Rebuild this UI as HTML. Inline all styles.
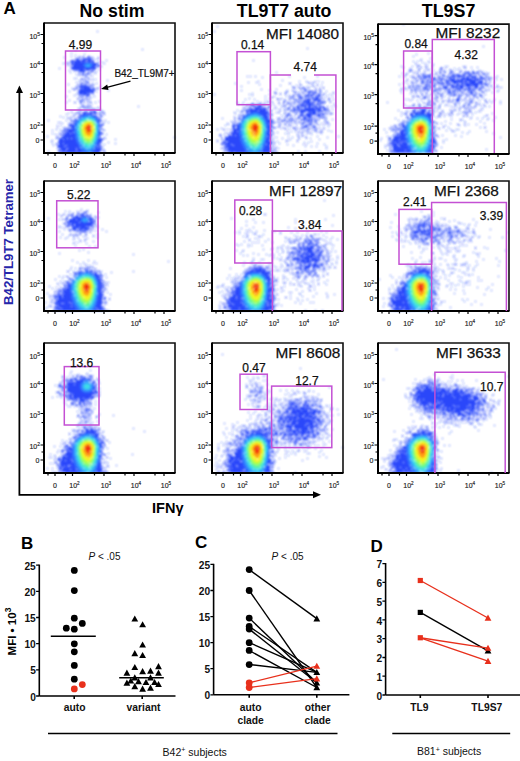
<!DOCTYPE html><html><head><meta charset="utf-8"><style>html,body{margin:0;padding:0;background:#fff;}svg{display:block;}</style></head><body><svg width="520" height="761" viewBox="0 0 520 761" font-family="&quot;Liberation Sans&quot;, sans-serif">
<rect width="520" height="761" fill="#fff"/>
<defs><filter id="bl" x="0" y="0" width="1" height="1"><feGaussianBlur stdDeviation="0.8"/></filter></defs><g filter="url(#bl)">
<g fill="none" stroke-width="1" shape-rendering="crispEdges"><path d="M97 31.5h1M142 49.5h1M75 50.5h1M85 50.5h1M71 53.5h1M84 54.5h1M75 55.5h1M71 56.5h1M79 56.5h1M83 56.5h1M88 56.5h2M64 57.5h1M78 57.5h1M80 57.5h1M82 57.5h2M87 57.5h3M91 57.5h2M98 57.5h1M75 58.5h2M78 58.5h1M80 58.5h1M84 58.5h4M89 58.5h2M93 58.5h1M98 58.5h1M76 59.5h3M82 59.5h4M87 59.5h5M96 59.5h1M71 60.5h4M76 60.5h15M92 60.5h2M106 60.5h1M70 61.5h3M74 61.5h7M82 61.5h3M86 61.5h1M88 61.5h6M99 61.5h1M66 62.5h1M68 62.5h1M71 62.5h16M89 62.5h2M92 62.5h2M97 62.5h1M102 62.5h1M63 63.5h1M65 63.5h1M68 63.5h1M71 63.5h2M74 63.5h10M92 63.5h5M98 63.5h1M104 63.5h1M68 64.5h1M71 64.5h12M93 64.5h4M98 64.5h1M67 65.5h1M71 65.5h1M73 65.5h10M93 65.5h4M98 65.5h2M70 66.5h1M73 66.5h11M92 66.5h3M97 66.5h3M101 66.5h1M71 67.5h14M91 67.5h6M59 68.5h1M71 68.5h25M72 69.5h12M85 69.5h7M93 69.5h2M99 69.5h1M69 70.5h1M75 70.5h1M77 70.5h1M79 70.5h7M87 70.5h2M92 70.5h2M74 71.5h1M77 71.5h1M79 71.5h6M90 71.5h3M96 71.5h1M70 72.5h1M79 72.5h1M82 72.5h1M84 72.5h1M88 72.5h2M91 72.5h1M94 72.5h1M79 73.5h1M82 73.5h2M86 73.5h3M95 73.5h1M76 74.5h1M79 74.5h1M81 74.5h1M83 74.5h1M85 74.5h1M87 74.5h1M89 74.5h1M78 75.5h1M81 75.5h1M83 75.5h2M86 75.5h1M90 75.5h1M92 75.5h1M86 76.5h1M85 77.5h1M87 77.5h1M74 78.5h1M76 78.5h1M81 78.5h1M84 78.5h1M88 78.5h2M92 78.5h1M81 79.5h3M86 79.5h1M95 79.5h1M79 80.5h1M85 80.5h1M89 80.5h1M92 80.5h1M107 80.5h1M80 81.5h1M84 81.5h1M86 81.5h2M76 82.5h1M82 82.5h2M86 82.5h1M88 82.5h1M78 83.5h1M80 83.5h2M85 83.5h1M87 83.5h2M92 83.5h1M96 83.5h1M68 84.5h1M81 84.5h2M84 84.5h2M90 84.5h1M93 84.5h1M77 85.5h2M80 85.5h2M83 85.5h2M86 85.5h2M89 85.5h1M91 85.5h1M93 85.5h1M76 86.5h1M79 86.5h9M89 86.5h2M92 86.5h1M100 86.5h1M75 87.5h1M78 87.5h1M80 87.5h10M92 87.5h1M72 88.5h1M76 88.5h2M80 88.5h2M83 88.5h8M92 88.5h3M96 88.5h3M73 89.5h3M78 89.5h1M80 89.5h12M93 89.5h2M79 90.5h16M108 90.5h1M69 91.5h1M78 91.5h16M96 91.5h1M77 92.5h1M79 92.5h11M91 92.5h3M79 93.5h8M88 93.5h3M92 93.5h1M76 94.5h1M78 94.5h4M83 94.5h6M93 94.5h1M74 95.5h1M82 95.5h2M86 95.5h4M66 96.5h1M79 96.5h2M82 96.5h1M85 96.5h1M87 96.5h1M89 96.5h1M94 96.5h1M80 97.5h1M82 97.5h1M86 97.5h1M91 97.5h1M77 98.5h2M83 98.5h1M86 98.5h1M89 98.5h1M81 99.5h1M83 99.5h1M85 99.5h1M87 99.5h1M89 99.5h1M69 100.5h1M78 100.5h1M80 100.5h2M83 100.5h1M87 100.5h1M80 101.5h2M83 101.5h1M90 101.5h1M99 101.5h1M66 102.5h1M74 102.5h2M80 102.5h1M84 102.5h1M87 102.5h2M90 102.5h1M95 102.5h1M80 103.5h2M91 103.5h1M83 104.5h1M82 105.5h1M87 105.5h3M81 106.5h1M83 106.5h2M86 106.5h1M90 106.5h2M138 106.5h1M80 107.5h1M82 107.5h1M84 107.5h1M86 107.5h1M88 107.5h1M98 107.5h1M78 108.5h1M84 108.5h1M87 108.5h2M90 108.5h1M93 108.5h1M96 108.5h1M99 108.5h1M79 109.5h1M85 109.5h1M90 109.5h1M92 109.5h2M95 109.5h1M80 110.5h1M87 110.5h1M90 110.5h1M93 110.5h1M99 110.5h1M101 110.5h1M71 111.5h1M78 111.5h1M80 111.5h1M84 111.5h1M86 111.5h1M90 111.5h2M93 111.5h3M101 111.5h1M103 111.5h1M77 112.5h1M81 112.5h1M83 112.5h5M90 112.5h2M93 112.5h4M100 112.5h1M103 112.5h1M68 113.5h1M72 113.5h1M75 113.5h2M78 113.5h2M83 113.5h3M87 113.5h10M98 113.5h2M102 113.5h1M104 113.5h1M66 114.5h1M74 114.5h1M79 114.5h2M82 114.5h10M100 114.5h2M104 114.5h1M80 115.5h3M93 115.5h4M99 115.5h1M60 116.5h1M73 116.5h2M77 116.5h1M79 116.5h2M95 116.5h1M97 116.5h1M100 116.5h3M63 117.5h1M67 117.5h1M70 117.5h2M78 117.5h2M96 117.5h2M100 117.5h1M68 118.5h1M76 118.5h1M97 118.5h3M70 119.5h1M74 119.5h2M97 119.5h1M99 119.5h2M48 120.5h1M66 120.5h1M71 120.5h2M74 120.5h3M98 120.5h3M102 120.5h1M105 120.5h1M70 121.5h1M72 121.5h1M74 121.5h1M99 121.5h1M101 121.5h1M58 122.5h1M60 122.5h1M73 122.5h2M99 122.5h1M104 122.5h1M108 122.5h1M62 123.5h1M68 123.5h1M70 123.5h1M72 123.5h1M74 123.5h1M100 123.5h1M102 123.5h1M69 124.5h4M74 124.5h1M99 124.5h1M102 124.5h2M57 125.5h1M60 125.5h1M69 125.5h1M71 125.5h3M100 125.5h3M68 126.5h6M100 126.5h2M57 127.5h1M63 127.5h1M65 127.5h1M71 127.5h3M64 128.5h1M66 128.5h3M70 128.5h1M72 128.5h2M100 128.5h2M56 129.5h1M60 129.5h1M64 129.5h1M66 129.5h1M68 129.5h6M100 129.5h1M102 129.5h2M52 130.5h1M63 130.5h11M104 130.5h1M61 131.5h3M66 131.5h1M68 131.5h6M100 131.5h1M59 132.5h1M64 132.5h9M100 132.5h1M102 132.5h1M52 133.5h1M62 133.5h1M64 133.5h1M66 133.5h4M71 133.5h4M99 133.5h4M55 134.5h1M59 134.5h16M99 134.5h2M102 134.5h1M106 134.5h1M57 135.5h1M64 135.5h11M99 135.5h1M47 136.5h1M61 136.5h14M99 136.5h2M56 137.5h2M59 137.5h1M62 137.5h13M99 137.5h1M104 137.5h1M174 137.5h1M56 138.5h1M58 138.5h1M60 138.5h7M68 138.5h3M72 138.5h3M99 138.5h2M102 138.5h1M105 138.5h1M59 139.5h4M64 139.5h12M99 139.5h5M115 139.5h1M52 140.5h1M59 140.5h17M98 140.5h4M51 141.5h1M58 141.5h18M98 141.5h4M58 142.5h19M98 142.5h3M108 142.5h1M52 143.5h1M56 143.5h1M59 143.5h4M64 143.5h13M98 143.5h2M101 143.5h1M115 143.5h1M56 144.5h2M59 144.5h19M97 144.5h3M104 144.5h1M53 145.5h1M58 145.5h8M67 145.5h11M97 145.5h1M99 145.5h2M57 146.5h7M65 146.5h14M97 146.5h4M102 146.5h1M58 147.5h21M96 147.5h2M99 147.5h2M102 147.5h1M57 148.5h1M60 148.5h7M68 148.5h8M77 148.5h3M96 148.5h5M59 149.5h1M61 149.5h5M67 149.5h14M95 149.5h7M103 149.5h1M58 150.5h18M77 150.5h4M95 150.5h6M102 150.5h1M104 150.5h1M48 151.5h1M58 151.5h2M61 151.5h1M63 151.5h2M66 151.5h16M94 151.5h6M104 151.5h1M60 152.5h24M93 152.5h7M104 152.5h1" stroke="#2a46fa"/><path d="M87 62.5h2M84 63.5h8M83 64.5h3M90 64.5h3M83 65.5h2M91 65.5h2M84 66.5h2M90 66.5h2M85 67.5h6M83 115.5h6M90 115.5h3M81 116.5h5M91 116.5h4M80 117.5h1M82 117.5h1M93 117.5h3M79 118.5h2M95 118.5h2M77 119.5h1M79 119.5h1M96 119.5h1M77 120.5h2M96 120.5h2M76 121.5h2M97 121.5h2M75 122.5h3M97 122.5h2M75 123.5h2M98 123.5h1M75 124.5h2M98 124.5h1M74 125.5h2M98 125.5h2M74 126.5h2M98 126.5h2M74 127.5h1M98 127.5h1M74 128.5h2M98 128.5h2M74 129.5h2M98 129.5h1M74 130.5h2M98 130.5h2M74 131.5h2M98 131.5h2M74 132.5h2M98 132.5h2M75 133.5h2M98 133.5h1M75 134.5h2M98 134.5h1M75 135.5h2M98 135.5h1M75 136.5h2M98 136.5h1M75 137.5h2M97 137.5h1M75 138.5h3M97 138.5h2M76 139.5h2M97 139.5h2M76 140.5h2M97 140.5h1M76 141.5h3M96 141.5h2M77 142.5h2M96 142.5h2M77 143.5h3M96 143.5h2M78 144.5h2M95 144.5h2M78 145.5h3M96 145.5h1M79 146.5h3M94 146.5h3M79 147.5h1M81 147.5h1M94 147.5h2M80 148.5h3M93 148.5h1M95 148.5h1M81 149.5h4M92 149.5h3M81 150.5h6M90 150.5h5M82 151.5h12M84 152.5h6M91 152.5h2" stroke="#2e6cff"/><path d="M86 64.5h4M85 65.5h6M86 66.5h4M86 116.5h5M83 117.5h10M81 118.5h4M92 118.5h3M80 119.5h3M94 119.5h2M79 120.5h2M95 120.5h1M78 121.5h2M95 121.5h2M78 122.5h1M96 122.5h1M77 123.5h2M97 123.5h1M77 124.5h1M97 124.5h1M76 125.5h2M97 125.5h1M76 126.5h2M97 126.5h1M76 127.5h2M97 127.5h1M76 128.5h2M97 128.5h1M76 129.5h2M97 129.5h1M76 130.5h2M97 130.5h1M76 131.5h2M97 131.5h1M76 132.5h2M97 132.5h1M77 133.5h1M97 133.5h1M77 134.5h2M97 134.5h1M77 135.5h2M96 135.5h2M77 136.5h2M96 136.5h2M77 137.5h2M96 137.5h1M78 138.5h2M96 138.5h1M78 139.5h2M96 139.5h1M78 140.5h1M95 140.5h2M79 141.5h2M95 141.5h1M79 142.5h3M94 142.5h2M81 143.5h1M94 143.5h2M80 144.5h3M93 144.5h2M81 145.5h3M93 145.5h2M82 146.5h1M84 146.5h1M92 146.5h2M82 147.5h5M90 147.5h4M83 148.5h3M87 148.5h6M85 149.5h7M87 150.5h3" stroke="#34a4fb"/><path d="M85 118.5h2M88 118.5h4M83 119.5h3M91 119.5h3M81 120.5h3M93 120.5h2M80 121.5h2M79 122.5h2M79 123.5h2M95 123.5h1M79 124.5h1M96 124.5h1M78 125.5h2M96 125.5h1M78 126.5h1M96 126.5h1M78 127.5h1M96 127.5h1M78 128.5h1M96 128.5h1M96 129.5h1M78 130.5h2M96 130.5h1M78 131.5h2M96 131.5h1M78 132.5h2M96 132.5h1M78 133.5h2M96 133.5h1M79 134.5h1M95 134.5h2M79 135.5h1M95 135.5h1M79 136.5h2M95 136.5h1M80 137.5h1M95 137.5h1M80 138.5h2M94 138.5h2M80 139.5h2M94 139.5h2M80 140.5h3M94 140.5h1M81 141.5h2M93 141.5h2M82 142.5h2M93 142.5h1M82 143.5h3M93 143.5h1M84 144.5h3M90 144.5h3M84 145.5h9M85 146.5h7M87 147.5h2" stroke="#3cdce8"/><path d="M86 119.5h1M88 119.5h3M84 120.5h4M90 120.5h1M92 120.5h1M82 121.5h3M92 121.5h2M82 122.5h1M93 122.5h2M81 123.5h1M94 123.5h1M80 124.5h2M94 124.5h2M80 125.5h1M95 125.5h1M80 126.5h1M95 126.5h1M79 127.5h2M95 127.5h1M79 128.5h2M95 128.5h1M79 129.5h2M95 129.5h1M80 130.5h1M95 130.5h1M80 131.5h1M80 132.5h1M94 132.5h2M80 133.5h2M94 133.5h2M80 134.5h2M94 134.5h1M80 135.5h2M94 135.5h1M81 136.5h2M94 136.5h1M81 137.5h2M93 137.5h2M82 138.5h2M93 138.5h1M82 139.5h2M92 139.5h2M83 140.5h2M92 140.5h2M83 141.5h2M86 141.5h1M91 141.5h2M84 142.5h9M85 143.5h7M87 144.5h2" stroke="#60f69a"/><path d="M85 121.5h7M84 122.5h2M91 122.5h2M83 123.5h1M92 123.5h2M82 124.5h1M93 124.5h1M81 125.5h2M93 125.5h2M81 126.5h2M81 127.5h1M81 128.5h1M94 128.5h1M81 129.5h2M94 129.5h1M81 130.5h2M94 130.5h1M81 131.5h2M93 131.5h2M81 132.5h2M93 132.5h1M82 133.5h1M93 133.5h1M82 134.5h2M93 134.5h1M82 135.5h2M93 135.5h1M83 136.5h2M92 136.5h2M83 137.5h1M92 137.5h1M84 138.5h3M91 138.5h2M84 139.5h8M85 140.5h7M87 141.5h3" stroke="#a8ff48"/><path d="M86 122.5h5M84 123.5h4M90 123.5h2M83 124.5h3M91 124.5h2M83 125.5h2M92 125.5h1M83 126.5h2M92 126.5h2M83 127.5h1M92 127.5h2M82 128.5h2M92 128.5h2M83 129.5h1M92 129.5h2M83 130.5h2M92 130.5h2M83 131.5h2M92 131.5h1M83 132.5h2M92 132.5h1M83 133.5h3M91 133.5h2M84 134.5h2M91 134.5h2M84 135.5h4M90 135.5h3M85 136.5h7M85 137.5h2M88 137.5h4M87 138.5h3" stroke="#f4f424"/><path d="M88 123.5h2M86 124.5h5M85 125.5h3M91 125.5h1M85 126.5h2M91 126.5h1M84 127.5h2M91 127.5h1M84 128.5h2M84 129.5h3M91 129.5h1M85 130.5h2M91 130.5h1M85 131.5h2M90 131.5h2M85 132.5h7M86 133.5h5M86 134.5h5M88 135.5h2" stroke="#ffa018"/><path d="M88 125.5h2M87 126.5h4M86 127.5h5M86 128.5h3M90 128.5h1M87 129.5h4M87 130.5h4M87 131.5h3" stroke="#f03010"/></g>
<g fill="none" stroke-width="1" shape-rendering="crispEdges"><path d="M217 26.5h1M214 31.5h1M307 48.5h1M253 60.5h1M276 72.5h1M247 76.5h1M250 76.5h1M255 76.5h1M289 76.5h1M317 76.5h1M262 77.5h1M304 77.5h1M282 80.5h1M258 81.5h1M299 81.5h1M306 81.5h1M315 81.5h1M318 81.5h1M248 82.5h1M256 82.5h1M307 82.5h1M309 82.5h1M312 82.5h1M314 82.5h1M322 82.5h1M235 83.5h1M289 83.5h2M309 83.5h1M312 83.5h1M259 84.5h1M299 84.5h2M317 84.5h1M280 85.5h1M296 85.5h1M301 85.5h1M311 85.5h1M313 85.5h1M317 85.5h1M321 85.5h1M241 86.5h1M292 86.5h1M307 86.5h1M313 86.5h1M293 87.5h2M298 87.5h2M303 87.5h2M309 87.5h1M315 87.5h1M323 87.5h1M293 88.5h1M295 88.5h1M300 88.5h4M306 88.5h1M308 88.5h1M319 88.5h2M323 88.5h1M261 89.5h1M276 89.5h1M304 89.5h2M315 89.5h2M241 90.5h1M269 90.5h1M287 90.5h1M292 90.5h1M300 90.5h1M304 90.5h3M309 90.5h1M312 90.5h1M319 90.5h2M286 91.5h1M293 91.5h2M296 91.5h1M302 91.5h1M306 91.5h1M308 91.5h5M314 91.5h3M319 91.5h1M321 91.5h1M326 91.5h1M274 92.5h2M285 92.5h1M287 92.5h1M295 92.5h1M299 92.5h1M302 92.5h2M305 92.5h1M308 92.5h2M311 92.5h1M313 92.5h1M315 92.5h1M320 92.5h1M333 92.5h1M252 93.5h1M275 93.5h2M280 93.5h1M285 93.5h1M294 93.5h1M296 93.5h1M298 93.5h1M308 93.5h2M312 93.5h5M319 93.5h1M324 93.5h1M333 93.5h1M214 94.5h1M249 94.5h1M269 94.5h1M280 94.5h1M285 94.5h1M299 94.5h1M301 94.5h1M303 94.5h1M305 94.5h1M307 94.5h1M309 94.5h2M312 94.5h2M317 94.5h4M322 94.5h1M324 94.5h1M330 94.5h1M252 95.5h1M289 95.5h1M292 95.5h3M296 95.5h4M304 95.5h1M306 95.5h3M310 95.5h3M315 95.5h1M318 95.5h2M322 95.5h1M327 95.5h1M265 96.5h1M274 96.5h1M286 96.5h1M289 96.5h1M293 96.5h1M299 96.5h3M305 96.5h5M311 96.5h2M314 96.5h5M320 96.5h1M332 96.5h1M271 97.5h2M290 97.5h3M298 97.5h2M301 97.5h2M304 97.5h2M309 97.5h1M312 97.5h1M316 97.5h4M321 97.5h1M325 97.5h1M249 98.5h1M269 98.5h1M277 98.5h1M281 98.5h1M289 98.5h1M292 98.5h1M294 98.5h2M299 98.5h4M306 98.5h1M308 98.5h2M311 98.5h7M321 98.5h1M323 98.5h1M328 98.5h2M245 99.5h1M254 99.5h1M265 99.5h1M277 99.5h2M280 99.5h1M284 99.5h1M289 99.5h1M293 99.5h1M297 99.5h1M299 99.5h1M303 99.5h1M305 99.5h5M311 99.5h1M313 99.5h8M329 99.5h1M333 99.5h1M284 100.5h1M286 100.5h1M290 100.5h1M294 100.5h4M300 100.5h2M304 100.5h2M307 100.5h4M314 100.5h7M323 100.5h1M328 100.5h1M257 101.5h1M268 101.5h1M271 101.5h1M284 101.5h1M298 101.5h2M302 101.5h8M312 101.5h3M318 101.5h2M321 101.5h2M324 101.5h2M330 101.5h1M237 102.5h1M243 102.5h1M260 102.5h1M264 102.5h1M266 102.5h1M268 102.5h1M272 102.5h1M278 102.5h2M283 102.5h2M287 102.5h2M291 102.5h1M293 102.5h2M296 102.5h1M298 102.5h1M300 102.5h1M302 102.5h1M304 102.5h9M314 102.5h1M317 102.5h2M320 102.5h3M324 102.5h1M330 102.5h1M252 103.5h2M260 103.5h1M283 103.5h1M287 103.5h1M289 103.5h2M293 103.5h1M295 103.5h1M298 103.5h1M300 103.5h1M302 103.5h3M306 103.5h5M312 103.5h2M315 103.5h2M318 103.5h2M321 103.5h1M323 103.5h2M334 103.5h1M238 104.5h1M242 104.5h1M247 104.5h1M250 104.5h3M254 104.5h1M256 104.5h4M261 104.5h1M263 104.5h2M273 104.5h1M279 104.5h1M287 104.5h1M290 104.5h1M299 104.5h1M301 104.5h3M305 104.5h2M308 104.5h6M317 104.5h2M320 104.5h2M247 105.5h1M249 105.5h1M251 105.5h3M255 105.5h1M258 105.5h4M264 105.5h1M267 105.5h1M269 105.5h1M282 105.5h1M284 105.5h2M291 105.5h1M293 105.5h1M297 105.5h1M299 105.5h13M313 105.5h4M318 105.5h2M334 105.5h1M245 106.5h2M250 106.5h1M253 106.5h2M256 106.5h1M258 106.5h4M269 106.5h2M275 106.5h1M283 106.5h1M285 106.5h1M289 106.5h1M291 106.5h1M294 106.5h1M296 106.5h4M301 106.5h2M304 106.5h2M308 106.5h3M312 106.5h2M315 106.5h2M319 106.5h2M322 106.5h2M327 106.5h1M331 106.5h1M335 106.5h1M243 107.5h1M249 107.5h1M252 107.5h1M254 107.5h6M261 107.5h3M265 107.5h1M268 107.5h2M281 107.5h1M289 107.5h1M293 107.5h1M297 107.5h2M301 107.5h1M303 107.5h4M308 107.5h3M312 107.5h2M315 107.5h3M319 107.5h6M327 107.5h1M243 108.5h1M248 108.5h4M255 108.5h7M263 108.5h3M267 108.5h2M274 108.5h1M276 108.5h1M285 108.5h1M287 108.5h3M293 108.5h3M297 108.5h5M305 108.5h16M323 108.5h3M244 109.5h4M250 109.5h17M279 109.5h1M284 109.5h1M287 109.5h2M291 109.5h1M293 109.5h3M297 109.5h2M300 109.5h1M302 109.5h13M316 109.5h5M324 109.5h5M332 109.5h1M237 110.5h1M242 110.5h1M247 110.5h11M259 110.5h7M268 110.5h1M270 110.5h2M280 110.5h1M284 110.5h1M290 110.5h2M293 110.5h1M295 110.5h1M297 110.5h2M300 110.5h17M318 110.5h7M326 110.5h1M328 110.5h1M240 111.5h1M242 111.5h2M245 111.5h24M271 111.5h1M286 111.5h1M291 111.5h1M293 111.5h3M297 111.5h1M299 111.5h7M307 111.5h9M317 111.5h4M322 111.5h1M325 111.5h1M329 111.5h1M234 112.5h1M241 112.5h1M246 112.5h2M250 112.5h3M258 112.5h10M276 112.5h1M278 112.5h2M284 112.5h1M289 112.5h1M293 112.5h1M297 112.5h1M300 112.5h3M304 112.5h1M309 112.5h2M312 112.5h4M317 112.5h2M321 112.5h1M326 112.5h1M328 112.5h1M235 113.5h1M247 113.5h2M260 113.5h11M285 113.5h1M288 113.5h1M295 113.5h2M301 113.5h3M306 113.5h10M319 113.5h1M321 113.5h1M323 113.5h2M326 113.5h1M330 113.5h3M239 114.5h1M242 114.5h1M244 114.5h1M246 114.5h1M262 114.5h5M268 114.5h2M271 114.5h2M284 114.5h1M287 114.5h4M296 114.5h1M299 114.5h3M303 114.5h1M306 114.5h19M327 114.5h1M330 114.5h1M240 115.5h1M242 115.5h2M263 115.5h5M269 115.5h1M271 115.5h1M281 115.5h1M286 115.5h3M291 115.5h1M294 115.5h1M300 115.5h3M304 115.5h7M317 115.5h3M322 115.5h1M234 116.5h1M238 116.5h1M240 116.5h1M243 116.5h1M264 116.5h4M269 116.5h1M286 116.5h1M290 116.5h1M298 116.5h2M301 116.5h4M307 116.5h6M315 116.5h1M318 116.5h3M323 116.5h1M325 116.5h1M239 117.5h1M242 117.5h1M265 117.5h5M271 117.5h1M283 117.5h1M285 117.5h2M288 117.5h1M291 117.5h1M294 117.5h1M298 117.5h2M304 117.5h3M308 117.5h3M313 117.5h1M315 117.5h1M317 117.5h1M320 117.5h4M325 117.5h1M222 118.5h1M234 118.5h2M238 118.5h1M240 118.5h1M265 118.5h3M270 118.5h1M277 118.5h4M291 118.5h1M296 118.5h2M299 118.5h1M303 118.5h4M308 118.5h1M310 118.5h2M313 118.5h1M319 118.5h1M323 118.5h1M326 118.5h1M238 119.5h3M266 119.5h4M271 119.5h1M284 119.5h2M288 119.5h6M300 119.5h6M307 119.5h2M310 119.5h1M312 119.5h1M315 119.5h2M318 119.5h1M325 119.5h1M332 119.5h1M234 120.5h1M266 120.5h8M278 120.5h1M281 120.5h3M285 120.5h1M288 120.5h1M294 120.5h2M297 120.5h1M302 120.5h1M305 120.5h1M307 120.5h6M314 120.5h2M318 120.5h1M325 120.5h1M231 121.5h1M235 121.5h1M267 121.5h4M272 121.5h1M277 121.5h1M279 121.5h1M281 121.5h1M283 121.5h1M285 121.5h1M287 121.5h1M290 121.5h3M300 121.5h1M304 121.5h2M307 121.5h2M310 121.5h1M312 121.5h1M315 121.5h2M324 121.5h1M327 121.5h1M232 122.5h1M234 122.5h1M236 122.5h1M238 122.5h1M267 122.5h6M274 122.5h2M287 122.5h2M290 122.5h1M294 122.5h2M298 122.5h2M302 122.5h1M304 122.5h1M307 122.5h1M309 122.5h1M311 122.5h1M315 122.5h1M326 122.5h2M227 123.5h1M233 123.5h1M267 123.5h2M270 123.5h1M272 123.5h2M278 123.5h2M281 123.5h1M285 123.5h1M296 123.5h1M301 123.5h4M309 123.5h3M313 123.5h1M315 123.5h1M317 123.5h1M321 123.5h1M324 123.5h1M328 123.5h1M228 124.5h1M233 124.5h1M235 124.5h4M268 124.5h4M284 124.5h2M289 124.5h1M292 124.5h1M301 124.5h1M306 124.5h2M309 124.5h1M311 124.5h1M317 124.5h1M326 124.5h1M329 124.5h1M225 125.5h1M232 125.5h4M237 125.5h2M268 125.5h2M271 125.5h1M279 125.5h2M287 125.5h1M289 125.5h2M296 125.5h1M303 125.5h1M305 125.5h1M307 125.5h1M309 125.5h2M313 125.5h1M319 125.5h1M323 125.5h1M232 126.5h3M236 126.5h3M268 126.5h5M278 126.5h1M301 126.5h2M304 126.5h4M312 126.5h4M328 126.5h1M233 127.5h2M237 127.5h2M268 127.5h3M272 127.5h3M276 127.5h1M279 127.5h1M283 127.5h1M286 127.5h1M292 127.5h1M294 127.5h1M296 127.5h1M303 127.5h3M307 127.5h1M310 127.5h1M313 127.5h1M315 127.5h1M221 128.5h1M232 128.5h3M236 128.5h3M268 128.5h3M274 128.5h1M281 128.5h1M284 128.5h1M289 128.5h1M293 128.5h2M298 128.5h1M301 128.5h2M307 128.5h1M309 128.5h1M313 128.5h1M315 128.5h1M317 128.5h1M319 128.5h1M323 128.5h2M217 129.5h1M223 129.5h2M227 129.5h1M230 129.5h1M233 129.5h6M268 129.5h2M271 129.5h1M285 129.5h1M295 129.5h2M300 129.5h1M303 129.5h1M308 129.5h1M311 129.5h1M315 129.5h1M321 129.5h1M231 130.5h1M233 130.5h6M268 130.5h5M287 130.5h1M305 130.5h2M308 130.5h1M313 130.5h1M315 130.5h2M328 130.5h1M233 131.5h4M238 131.5h1M268 131.5h4M291 131.5h1M295 131.5h1M298 131.5h1M303 131.5h1M307 131.5h1M315 131.5h1M319 131.5h1M321 131.5h2M331 131.5h1M225 132.5h1M230 132.5h9M268 132.5h2M273 132.5h1M277 132.5h1M288 132.5h1M299 132.5h1M301 132.5h2M309 132.5h1M311 132.5h1M317 132.5h1M320 132.5h1M227 133.5h2M230 133.5h1M232 133.5h7M267 133.5h3M271 133.5h1M273 133.5h1M285 133.5h1M297 133.5h1M306 133.5h1M308 133.5h1M321 133.5h1M220 134.5h1M224 134.5h1M231 134.5h8M267 134.5h5M288 134.5h1M302 134.5h1M311 134.5h1M219 135.5h2M228 135.5h3M232 135.5h3M236 135.5h3M267 135.5h4M273 135.5h1M297 135.5h1M299 135.5h1M302 135.5h1M221 136.5h1M225 136.5h1M228 136.5h12M268 136.5h4M298 136.5h1M302 136.5h1M305 136.5h1M317 136.5h1M338 136.5h1M225 137.5h15M267 137.5h3M276 137.5h1M288 137.5h1M292 137.5h1M306 137.5h1M327 137.5h1M221 138.5h2M225 138.5h15M267 138.5h4M273 138.5h1M282 138.5h1M298 138.5h2M306 138.5h1M310 138.5h1M225 139.5h15M267 139.5h4M272 139.5h1M290 139.5h1M319 139.5h1M217 140.5h1M222 140.5h1M224 140.5h16M266 140.5h3M286 140.5h1M288 140.5h1M297 140.5h1M217 141.5h1M222 141.5h1M224 141.5h1M226 141.5h1M228 141.5h13M266 141.5h6M273 141.5h1M277 141.5h1M286 141.5h1M297 141.5h1M311 141.5h1M223 142.5h3M227 142.5h14M266 142.5h6M274 142.5h1M304 142.5h1M308 142.5h1M221 143.5h20M266 143.5h6M274 143.5h1M279 143.5h1M317 143.5h1M221 144.5h2M225 144.5h6M232 144.5h10M265 144.5h1M267 144.5h4M272 144.5h1M287 144.5h1M303 144.5h1M306 144.5h1M324 144.5h1M224 145.5h2M227 145.5h6M234 145.5h8M265 145.5h5M274 145.5h1M293 145.5h1M223 146.5h1M225 146.5h18M265 146.5h5M272 146.5h1M305 146.5h1M311 146.5h1M316 146.5h1M326 146.5h1M225 147.5h18M265 147.5h6M272 147.5h1M276 147.5h1M221 148.5h2M224 148.5h2M228 148.5h16M264 148.5h7M274 148.5h2M278 148.5h1M326 148.5h1M224 149.5h1M226 149.5h18M264 149.5h7M272 149.5h1M225 150.5h1M227 150.5h18M263 150.5h7M272 150.5h1M274 150.5h2M224 151.5h1M226 151.5h1M228 151.5h1M230 151.5h15M263 151.5h8M272 151.5h1M276 151.5h1M298 151.5h1M305 151.5h1M319 151.5h1M223 152.5h1M228 152.5h6M235 152.5h11M262 152.5h10M273 152.5h2M277 152.5h1" stroke="#2a46fa"/><path d="M253 112.5h5M249 113.5h11M247 114.5h6M258 114.5h4M245 115.5h4M260 115.5h3M244 116.5h3M262 116.5h2M243 117.5h3M263 117.5h2M242 118.5h3M263 118.5h2M242 119.5h2M264 119.5h2M241 120.5h2M265 120.5h1M241 121.5h1M265 121.5h2M239 122.5h1M241 122.5h1M265 122.5h2M239 123.5h2M266 123.5h1M239 124.5h2M266 124.5h2M239 125.5h2M266 125.5h2M239 126.5h2M266 126.5h2M239 127.5h2M266 127.5h2M239 128.5h2M266 128.5h2M239 129.5h2M267 129.5h1M239 130.5h2M266 130.5h2M239 131.5h2M266 131.5h2M239 132.5h2M266 132.5h2M239 133.5h2M266 133.5h1M239 134.5h3M266 134.5h1M239 135.5h3M266 135.5h1M240 136.5h2M265 136.5h2M240 137.5h2M265 137.5h2M240 138.5h2M265 138.5h2M240 139.5h3M265 139.5h2M240 140.5h3M265 140.5h1M241 141.5h2M264 141.5h2M241 142.5h3M264 142.5h2M241 143.5h3M264 143.5h2M242 144.5h3M263 144.5h2M242 145.5h3M263 145.5h2M243 146.5h3M263 146.5h2M243 147.5h3M262 147.5h3M244 148.5h3M262 148.5h2M244 149.5h3M262 149.5h2M245 150.5h4M260 150.5h3M245 151.5h5M259 151.5h4M246 152.5h6M258 152.5h3" stroke="#2e6cff"/><path d="M253 114.5h5M249 115.5h11M247 116.5h4M258 116.5h3M246 117.5h3M260 117.5h3M245 118.5h2M261 118.5h2M245 119.5h1M262 119.5h2M243 120.5h2M263 120.5h2M242 121.5h2M263 121.5h2M242 122.5h2M264 122.5h1M241 123.5h2M264 123.5h2M241 124.5h2M264 124.5h2M241 125.5h2M265 125.5h1M241 126.5h2M265 126.5h1M241 127.5h2M265 127.5h1M241 128.5h2M265 128.5h1M242 129.5h1M265 129.5h1M241 130.5h2M265 130.5h1M241 131.5h2M265 131.5h1M241 132.5h2M264 132.5h2M241 133.5h2M264 133.5h2M242 134.5h2M264 134.5h2M242 135.5h2M264 135.5h2M242 136.5h1M264 136.5h1M242 137.5h2M264 137.5h1M242 138.5h3M263 138.5h2M243 139.5h2M263 139.5h2M243 140.5h2M263 140.5h2M243 141.5h3M263 141.5h1M244 142.5h2M262 142.5h2M244 143.5h3M262 143.5h2M245 144.5h2M261 144.5h2M245 145.5h3M261 145.5h2M246 146.5h3M260 146.5h1M262 146.5h1M246 147.5h4M260 147.5h2M247 148.5h4M259 148.5h3M248 149.5h5M257 149.5h4M249 150.5h11M250 151.5h9M252 152.5h6" stroke="#34a4fb"/><path d="M251 116.5h7M249 117.5h5M256 117.5h2M259 117.5h1M247 118.5h4M259 118.5h2M246 119.5h1M248 119.5h1M260 119.5h2M245 120.5h2M261 120.5h2M244 121.5h3M262 121.5h1M244 122.5h2M262 122.5h2M243 123.5h2M263 123.5h1M243 124.5h2M263 124.5h1M243 125.5h2M263 125.5h2M243 126.5h2M263 126.5h2M243 127.5h2M263 127.5h1M243 128.5h2M263 128.5h2M243 129.5h1M263 129.5h2M243 130.5h2M263 130.5h2M243 131.5h2M263 131.5h2M243 132.5h2M263 132.5h1M243 133.5h2M263 133.5h1M244 134.5h1M263 134.5h1M244 135.5h2M263 135.5h1M244 136.5h2M262 136.5h2M244 137.5h2M262 137.5h2M245 138.5h2M262 138.5h1M245 139.5h2M262 139.5h1M246 140.5h2M261 140.5h2M246 141.5h2M261 141.5h2M246 142.5h3M261 142.5h1M247 143.5h2M260 143.5h2M247 144.5h3M259 144.5h2M248 145.5h4M258 145.5h3M249 146.5h1M251 146.5h3M257 146.5h3M250 147.5h1M252 147.5h8M251 148.5h8M253 149.5h1M255 149.5h2" stroke="#3cdce8"/><path d="M254 117.5h2M251 118.5h8M249 119.5h3M258 119.5h2M247 120.5h3M259 120.5h2M248 121.5h1M260 121.5h2M246 122.5h2M261 122.5h1M245 123.5h2M261 123.5h2M245 124.5h2M262 124.5h1M245 125.5h2M262 125.5h1M245 126.5h1M262 126.5h1M245 127.5h1M262 127.5h1M245 128.5h1M262 128.5h1M245 129.5h1M262 129.5h1M245 130.5h2M262 130.5h1M246 131.5h1M262 131.5h1M245 132.5h2M262 132.5h1M245 133.5h2M262 133.5h1M245 134.5h2M261 134.5h2M246 135.5h2M261 135.5h2M247 136.5h1M261 136.5h1M246 137.5h2M261 137.5h1M247 138.5h2M260 138.5h2M247 139.5h2M260 139.5h2M248 140.5h2M259 140.5h2M248 141.5h3M259 141.5h2M249 142.5h3M258 142.5h2M249 143.5h1M251 143.5h3M256 143.5h1M258 143.5h2M250 144.5h9M252 145.5h5M254 146.5h1M256 146.5h1" stroke="#60f69a"/><path d="M252 119.5h6M250 120.5h5M256 120.5h3M249 121.5h3M258 121.5h2M248 122.5h2M259 122.5h2M247 123.5h2M260 123.5h1M248 124.5h1M260 124.5h2M247 125.5h1M246 126.5h2M261 126.5h1M246 127.5h2M261 127.5h1M246 128.5h1M261 128.5h1M246 129.5h2M247 130.5h1M261 130.5h1M247 131.5h1M261 131.5h1M247 132.5h2M260 132.5h1M247 133.5h2M260 133.5h2M247 134.5h2M260 134.5h1M248 135.5h2M260 135.5h1M248 136.5h2M259 136.5h2M248 137.5h3M259 137.5h2M249 138.5h3M258 138.5h2M249 139.5h4M258 139.5h2M250 140.5h9M251 141.5h5M257 141.5h1M252 142.5h6M255 143.5h1" stroke="#a8ff48"/><path d="M255 120.5h1M252 121.5h6M250 122.5h4M256 122.5h3M249 123.5h3M258 123.5h2M249 124.5h2M259 124.5h1M248 125.5h3M259 125.5h2M248 126.5h2M259 126.5h2M248 127.5h2M259 127.5h2M248 128.5h2M259 128.5h2M248 129.5h1M259 129.5h2M248 130.5h3M259 130.5h2M248 131.5h3M259 131.5h2M249 132.5h2M259 132.5h1M249 133.5h3M258 133.5h2M249 134.5h3M258 134.5h2M250 135.5h3M257 135.5h3M250 136.5h5M256 136.5h2M251 137.5h2M254 137.5h5M252 138.5h6M253 139.5h5" stroke="#f4f424"/><path d="M254 122.5h2M252 123.5h6M251 124.5h3M256 124.5h2M251 125.5h2M257 125.5h2M250 126.5h3M258 126.5h1M250 127.5h2M258 127.5h1M250 128.5h3M258 128.5h1M250 129.5h3M257 129.5h2M252 130.5h1M257 130.5h2M251 131.5h3M257 131.5h2M251 132.5h4M256 132.5h3M252 133.5h1M254 133.5h4M252 134.5h6M253 135.5h1M255 135.5h2M255 136.5h1" stroke="#ffa018"/><path d="M254 124.5h2M253 125.5h4M253 126.5h5M252 127.5h6M253 128.5h5M253 129.5h4M253 130.5h4M255 131.5h2M255 132.5h1" stroke="#f03010"/></g>
<g fill="none" stroke-width="1" shape-rendering="crispEdges"><path d="M403 24.5h1M483 46.5h1M428 53.5h1M416 54.5h1M413 56.5h1M430 58.5h1M421 59.5h1M420 60.5h1M413 61.5h1M417 61.5h1M428 61.5h1M422 62.5h1M429 62.5h1M415 63.5h1M425 63.5h1M416 64.5h1M433 64.5h1M418 65.5h2M425 65.5h1M427 65.5h1M432 65.5h1M401 66.5h1M412 66.5h1M417 66.5h1M445 66.5h1M447 66.5h1M463 66.5h1M465 66.5h1M403 67.5h1M417 67.5h1M420 67.5h2M425 67.5h2M432 67.5h1M441 67.5h1M464 67.5h1M471 67.5h1M477 67.5h1M410 68.5h1M427 68.5h1M440 68.5h3M445 68.5h1M454 68.5h1M459 68.5h1M465 68.5h1M410 69.5h1M418 69.5h2M429 69.5h1M440 69.5h1M450 69.5h1M457 69.5h1M409 70.5h1M411 70.5h2M419 70.5h1M424 70.5h1M426 70.5h1M428 70.5h1M433 70.5h1M440 70.5h1M443 70.5h1M449 70.5h1M451 70.5h1M461 70.5h1M472 70.5h1M479 70.5h1M409 71.5h2M416 71.5h1M439 71.5h1M441 71.5h1M443 71.5h1M445 71.5h1M451 71.5h2M454 71.5h1M459 71.5h2M465 71.5h1M468 71.5h1M473 71.5h1M477 71.5h1M480 71.5h1M482 71.5h1M414 72.5h1M418 72.5h1M424 72.5h1M431 72.5h1M436 72.5h1M440 72.5h1M444 72.5h2M450 72.5h2M461 72.5h1M464 72.5h6M472 72.5h3M476 72.5h3M481 72.5h1M485 72.5h1M402 73.5h1M407 73.5h1M413 73.5h1M417 73.5h1M421 73.5h1M424 73.5h1M436 73.5h1M439 73.5h2M449 73.5h2M452 73.5h2M459 73.5h1M463 73.5h1M466 73.5h1M468 73.5h2M471 73.5h3M475 73.5h1M478 73.5h1M482 73.5h2M487 73.5h2M405 74.5h2M416 74.5h1M422 74.5h1M424 74.5h1M427 74.5h1M430 74.5h2M433 74.5h1M435 74.5h1M442 74.5h2M449 74.5h1M453 74.5h1M455 74.5h4M463 74.5h3M467 74.5h1M469 74.5h2M474 74.5h2M477 74.5h1M479 74.5h1M483 74.5h3M418 75.5h2M422 75.5h3M426 75.5h1M428 75.5h3M437 75.5h1M441 75.5h1M443 75.5h2M447 75.5h1M451 75.5h5M457 75.5h9M468 75.5h5M479 75.5h1M481 75.5h1M485 75.5h1M487 75.5h1M399 76.5h1M403 76.5h1M405 76.5h1M410 76.5h1M412 76.5h2M418 76.5h2M421 76.5h1M424 76.5h7M438 76.5h2M443 76.5h1M445 76.5h1M448 76.5h2M451 76.5h3M455 76.5h1M457 76.5h5M463 76.5h1M467 76.5h2M470 76.5h1M472 76.5h5M479 76.5h1M481 76.5h1M487 76.5h1M497 76.5h1M413 77.5h1M415 77.5h1M417 77.5h1M420 77.5h1M422 77.5h4M427 77.5h1M430 77.5h1M433 77.5h2M439 77.5h3M443 77.5h1M446 77.5h2M449 77.5h3M453 77.5h3M457 77.5h2M460 77.5h1M462 77.5h7M470 77.5h7M480 77.5h3M484 77.5h2M487 77.5h1M489 77.5h2M495 77.5h1M412 78.5h1M415 78.5h1M419 78.5h1M421 78.5h1M424 78.5h2M427 78.5h1M429 78.5h3M433 78.5h3M437 78.5h2M442 78.5h1M448 78.5h1M450 78.5h2M453 78.5h2M457 78.5h1M460 78.5h1M462 78.5h3M466 78.5h4M471 78.5h1M473 78.5h2M476 78.5h1M478 78.5h6M485 78.5h1M487 78.5h1M490 78.5h1M492 78.5h1M407 79.5h1M414 79.5h1M416 79.5h1M419 79.5h1M421 79.5h2M424 79.5h1M428 79.5h1M431 79.5h5M438 79.5h8M447 79.5h1M449 79.5h6M457 79.5h2M460 79.5h13M474 79.5h5M481 79.5h1M483 79.5h2M488 79.5h2M496 79.5h1M501 79.5h1M407 80.5h1M417 80.5h1M421 80.5h1M423 80.5h1M426 80.5h3M431 80.5h1M433 80.5h1M436 80.5h1M440 80.5h2M445 80.5h1M447 80.5h2M450 80.5h14M465 80.5h17M485 80.5h2M489 80.5h1M405 81.5h1M411 81.5h1M413 81.5h1M416 81.5h2M422 81.5h2M425 81.5h1M427 81.5h1M429 81.5h3M434 81.5h1M436 81.5h3M441 81.5h1M445 81.5h5M451 81.5h12M464 81.5h3M468 81.5h8M478 81.5h1M480 81.5h3M486 81.5h1M490 81.5h1M411 82.5h1M415 82.5h1M420 82.5h4M426 82.5h1M429 82.5h1M431 82.5h3M438 82.5h2M441 82.5h3M446 82.5h2M449 82.5h1M451 82.5h1M453 82.5h4M458 82.5h2M461 82.5h6M468 82.5h1M470 82.5h6M477 82.5h6M485 82.5h1M494 82.5h1M403 83.5h1M407 83.5h1M412 83.5h2M422 83.5h1M424 83.5h1M426 83.5h3M430 83.5h2M434 83.5h1M436 83.5h1M438 83.5h3M442 83.5h2M445 83.5h1M447 83.5h2M450 83.5h1M453 83.5h6M460 83.5h4M465 83.5h18M484 83.5h2M488 83.5h2M399 84.5h1M412 84.5h1M415 84.5h1M417 84.5h1M422 84.5h1M425 84.5h1M428 84.5h1M434 84.5h2M437 84.5h1M440 84.5h3M444 84.5h1M446 84.5h6M453 84.5h1M457 84.5h2M461 84.5h1M463 84.5h1M465 84.5h14M481 84.5h1M484 84.5h4M409 85.5h1M417 85.5h1M419 85.5h2M425 85.5h3M429 85.5h2M433 85.5h2M443 85.5h1M448 85.5h1M451 85.5h3M455 85.5h15M471 85.5h1M473 85.5h5M480 85.5h4M486 85.5h2M491 85.5h1M497 85.5h1M409 86.5h1M411 86.5h4M416 86.5h1M418 86.5h1M422 86.5h1M425 86.5h2M428 86.5h2M431 86.5h4M439 86.5h1M442 86.5h6M450 86.5h8M459 86.5h5M466 86.5h7M474 86.5h5M489 86.5h1M491 86.5h1M497 86.5h1M404 87.5h1M408 87.5h2M413 87.5h1M416 87.5h2M419 87.5h2M423 87.5h2M426 87.5h2M430 87.5h1M434 87.5h2M439 87.5h2M444 87.5h4M452 87.5h3M456 87.5h2M459 87.5h4M465 87.5h1M468 87.5h2M472 87.5h1M475 87.5h3M480 87.5h5M487 87.5h1M496 87.5h1M499 87.5h1M501 87.5h1M401 88.5h1M405 88.5h1M410 88.5h1M415 88.5h1M423 88.5h4M429 88.5h2M437 88.5h1M442 88.5h5M449 88.5h2M452 88.5h1M454 88.5h1M456 88.5h4M461 88.5h3M465 88.5h2M468 88.5h3M473 88.5h4M479 88.5h2M482 88.5h1M493 88.5h1M402 89.5h1M404 89.5h1M407 89.5h1M411 89.5h2M414 89.5h2M417 89.5h3M421 89.5h1M424 89.5h1M426 89.5h3M432 89.5h1M434 89.5h2M437 89.5h5M446 89.5h1M448 89.5h2M452 89.5h1M455 89.5h2M458 89.5h4M464 89.5h1M466 89.5h8M478 89.5h3M485 89.5h1M489 89.5h1M400 90.5h1M411 90.5h1M414 90.5h1M416 90.5h1M421 90.5h1M423 90.5h2M427 90.5h2M431 90.5h1M433 90.5h1M435 90.5h2M439 90.5h1M445 90.5h1M447 90.5h2M450 90.5h1M453 90.5h2M456 90.5h1M458 90.5h2M463 90.5h3M468 90.5h1M470 90.5h1M472 90.5h1M474 90.5h2M478 90.5h1M481 90.5h1M486 90.5h1M488 90.5h1M498 90.5h1M411 91.5h1M415 91.5h1M419 91.5h1M433 91.5h2M436 91.5h1M444 91.5h1M448 91.5h2M451 91.5h1M453 91.5h2M456 91.5h1M460 91.5h2M468 91.5h2M471 91.5h2M474 91.5h1M480 91.5h1M482 91.5h2M485 91.5h1M497 91.5h1M401 92.5h1M412 92.5h1M416 92.5h1M420 92.5h1M422 92.5h1M425 92.5h1M427 92.5h1M433 92.5h1M437 92.5h1M439 92.5h1M441 92.5h1M446 92.5h1M448 92.5h4M453 92.5h2M457 92.5h2M461 92.5h3M467 92.5h1M469 92.5h4M475 92.5h1M482 92.5h1M492 92.5h1M410 93.5h1M415 93.5h1M426 93.5h1M431 93.5h1M437 93.5h2M443 93.5h1M448 93.5h2M452 93.5h1M455 93.5h1M464 93.5h1M466 93.5h1M470 93.5h3M475 93.5h2M478 93.5h1M483 93.5h1M421 94.5h2M426 94.5h1M431 94.5h1M434 94.5h2M439 94.5h1M441 94.5h2M447 94.5h1M450 94.5h2M453 94.5h3M458 94.5h1M460 94.5h1M462 94.5h1M465 94.5h1M468 94.5h1M472 94.5h2M475 94.5h1M479 94.5h2M485 94.5h1M413 95.5h1M417 95.5h1M422 95.5h1M429 95.5h1M436 95.5h1M440 95.5h2M450 95.5h1M452 95.5h1M454 95.5h2M457 95.5h1M459 95.5h2M462 95.5h1M466 95.5h2M469 95.5h2M473 95.5h1M475 95.5h1M480 95.5h2M412 96.5h1M415 96.5h1M417 96.5h2M424 96.5h3M428 96.5h1M437 96.5h1M441 96.5h1M444 96.5h1M449 96.5h1M453 96.5h1M458 96.5h1M460 96.5h1M467 96.5h1M473 96.5h3M477 96.5h1M480 96.5h2M483 96.5h1M413 97.5h1M419 97.5h1M423 97.5h1M425 97.5h1M434 97.5h1M436 97.5h2M442 97.5h1M458 97.5h2M465 97.5h1M477 97.5h1M421 98.5h1M423 98.5h3M428 98.5h1M431 98.5h1M434 98.5h1M437 98.5h1M441 98.5h1M448 98.5h1M457 98.5h2M460 98.5h1M465 98.5h1M469 98.5h2M473 98.5h1M477 98.5h1M482 98.5h1M405 99.5h1M408 99.5h1M412 99.5h1M428 99.5h1M435 99.5h1M449 99.5h1M453 99.5h1M456 99.5h4M462 99.5h1M465 99.5h1M471 99.5h1M473 99.5h1M485 99.5h1M494 99.5h1M410 100.5h1M417 100.5h1M421 100.5h1M432 100.5h1M436 100.5h1M442 100.5h1M445 100.5h1M449 100.5h1M452 100.5h1M454 100.5h1M456 100.5h3M463 100.5h1M468 100.5h1M471 100.5h1M479 100.5h1M485 100.5h1M489 100.5h1M428 101.5h3M432 101.5h1M436 101.5h1M438 101.5h1M443 101.5h1M447 101.5h2M451 101.5h1M457 101.5h2M460 101.5h1M466 101.5h1M469 101.5h2M472 101.5h1M485 101.5h1M493 101.5h1M500 101.5h1M387 102.5h1M423 102.5h1M428 102.5h1M431 102.5h1M433 102.5h1M442 102.5h1M449 102.5h1M452 102.5h1M456 102.5h1M465 102.5h1M470 102.5h3M475 102.5h2M486 102.5h2M491 102.5h1M418 103.5h1M424 103.5h1M426 103.5h1M428 103.5h1M433 103.5h2M454 103.5h2M458 103.5h1M467 103.5h1M469 103.5h1M476 103.5h1M479 103.5h1M500 103.5h1M404 104.5h1M413 104.5h2M419 104.5h1M427 104.5h2M430 104.5h2M434 104.5h2M440 104.5h1M446 104.5h1M455 104.5h1M459 104.5h1M464 104.5h2M468 104.5h2M478 104.5h1M483 104.5h1M413 105.5h1M419 105.5h2M427 105.5h1M430 105.5h1M432 105.5h1M439 105.5h1M445 105.5h1M448 105.5h1M455 105.5h1M463 105.5h1M468 105.5h1M470 105.5h1M475 105.5h2M480 105.5h1M484 105.5h1M406 106.5h1M410 106.5h1M412 106.5h2M417 106.5h1M419 106.5h1M424 106.5h1M427 106.5h1M430 106.5h1M432 106.5h1M439 106.5h1M451 106.5h1M455 106.5h1M463 106.5h2M467 106.5h1M474 106.5h1M485 106.5h1M489 106.5h1M408 107.5h2M415 107.5h1M420 107.5h1M423 107.5h3M434 107.5h1M436 107.5h1M439 107.5h1M453 107.5h1M458 107.5h1M460 107.5h2M464 107.5h1M467 107.5h1M470 107.5h1M472 107.5h1M475 107.5h1M482 107.5h1M416 108.5h1M418 108.5h4M424 108.5h1M426 108.5h2M433 108.5h1M439 108.5h1M465 108.5h1M468 108.5h1M470 108.5h1M473 108.5h1M413 109.5h3M421 109.5h5M428 109.5h1M430 109.5h1M432 109.5h1M437 109.5h1M450 109.5h1M455 109.5h1M459 109.5h1M465 109.5h1M467 109.5h1M480 109.5h1M482 109.5h1M398 110.5h1M406 110.5h1M411 110.5h1M413 110.5h2M416 110.5h1M418 110.5h1M421 110.5h5M429 110.5h2M432 110.5h2M442 110.5h1M452 110.5h2M455 110.5h1M459 110.5h1M469 110.5h2M408 111.5h1M413 111.5h2M418 111.5h8M428 111.5h2M433 111.5h1M436 111.5h1M442 111.5h1M450 111.5h1M464 111.5h1M466 111.5h1M468 111.5h1M470 111.5h1M478 111.5h1M480 111.5h1M401 112.5h1M406 112.5h1M412 112.5h7M420 112.5h5M426 112.5h3M431 112.5h1M433 112.5h1M440 112.5h1M443 112.5h1M451 112.5h2M462 112.5h2M465 112.5h1M468 112.5h1M471 112.5h1M475 112.5h1M403 113.5h1M405 113.5h2M410 113.5h3M414 113.5h11M427 113.5h4M432 113.5h1M439 113.5h2M448 113.5h1M451 113.5h1M459 113.5h1M465 113.5h3M492 113.5h1M405 114.5h1M410 114.5h3M415 114.5h1M425 114.5h9M440 114.5h1M442 114.5h1M445 114.5h1M449 114.5h1M452 114.5h1M457 114.5h1M472 114.5h1M401 115.5h1M407 115.5h1M410 115.5h3M427 115.5h5M438 115.5h1M449 115.5h1M463 115.5h1M465 115.5h1M467 115.5h1M486 115.5h2M406 116.5h1M428 116.5h4M433 116.5h1M438 116.5h3M444 116.5h1M451 116.5h1M463 116.5h1M467 116.5h1M484 116.5h1M407 117.5h2M429 117.5h2M436 117.5h1M471 117.5h1M495 117.5h1M395 118.5h1M406 118.5h1M408 118.5h1M430 118.5h2M470 118.5h1M477 118.5h1M482 118.5h1M488 118.5h1M431 119.5h1M451 119.5h1M460 119.5h1M462 119.5h1M487 119.5h1M398 120.5h1M403 120.5h1M431 120.5h1M460 120.5h1M493 120.5h1M403 121.5h1M405 121.5h1M432 121.5h3M445 121.5h1M464 121.5h1M480 121.5h1M401 122.5h1M403 122.5h1M432 122.5h1M435 122.5h1M465 122.5h1M400 123.5h1M402 123.5h2M433 123.5h1M436 123.5h2M441 123.5h1M450 123.5h1M484 123.5h1M398 124.5h1M400 124.5h1M402 124.5h2M457 124.5h2M464 124.5h1M468 124.5h1M476 124.5h1M394 125.5h2M399 125.5h2M402 125.5h3M433 125.5h1M445 125.5h1M459 125.5h1M465 125.5h1M391 126.5h1M394 126.5h1M396 126.5h1M402 126.5h3M433 126.5h1M435 126.5h1M443 126.5h1M392 127.5h1M396 127.5h1M399 127.5h2M402 127.5h2M433 127.5h1M435 127.5h1M443 127.5h1M448 127.5h1M480 127.5h1M484 127.5h2M389 128.5h2M393 128.5h1M395 128.5h2M398 128.5h1M401 128.5h1M433 128.5h1M438 128.5h2M384 129.5h1M392 129.5h1M394 129.5h1M397 129.5h4M402 129.5h2M434 129.5h1M450 129.5h1M456 129.5h1M458 129.5h1M391 130.5h2M394 130.5h1M396 130.5h1M401 130.5h3M435 130.5h1M446 130.5h1M452 130.5h1M394 131.5h1M396 131.5h1M399 131.5h5M434 131.5h1M452 131.5h1M454 131.5h1M469 131.5h1M486 131.5h1M386 132.5h1M396 132.5h1M400 132.5h4M433 132.5h2M462 132.5h1M394 133.5h1M397 133.5h2M400 133.5h5M434 133.5h1M467 133.5h1M493 133.5h1M394 134.5h1M396 134.5h9M433 134.5h1M436 134.5h1M393 135.5h1M396 135.5h1M398 135.5h1M400 135.5h5M435 135.5h2M442 135.5h1M455 135.5h1M387 136.5h1M392 136.5h1M394 136.5h11M433 136.5h2M437 136.5h2M461 136.5h1M389 137.5h2M394 137.5h11M433 137.5h1M500 137.5h1M381 138.5h1M389 138.5h1M393 138.5h12M433 138.5h2M388 139.5h4M393 139.5h6M400 139.5h6M433 139.5h3M446 139.5h1M380 140.5h1M392 140.5h14M432 140.5h2M435 140.5h1M443 140.5h1M389 141.5h1M391 141.5h11M403 141.5h2M432 141.5h4M388 142.5h1M390 142.5h2M393 142.5h2M396 142.5h3M400 142.5h6M432 142.5h5M443 142.5h1M391 143.5h10M402 143.5h5M433 143.5h2M436 143.5h1M388 144.5h9M398 144.5h9M432 144.5h1M435 144.5h1M437 144.5h1M385 145.5h1M387 145.5h1M393 145.5h5M399 145.5h8M431 145.5h4M436 145.5h1M389 146.5h1M391 146.5h8M400 146.5h8M431 146.5h4M436 146.5h1M385 147.5h1M390 147.5h1M393 147.5h15M432 147.5h3M441 147.5h1M390 148.5h1M393 148.5h15M430 148.5h2M433 148.5h1M390 149.5h1M393 149.5h16M430 149.5h5M486 149.5h1M387 150.5h1M390 150.5h1M392 150.5h13M406 150.5h4M430 150.5h1M432 150.5h1M435 150.5h2M390 151.5h2M393 151.5h1M395 151.5h15M429 151.5h4M436 151.5h1M390 152.5h1M392 152.5h19M429 152.5h5" stroke="#2a46fa"/><path d="M416 114.5h9M413 115.5h14M411 116.5h5M425 116.5h3M411 117.5h3M427 117.5h2M411 118.5h1M428 118.5h2M408 119.5h3M429 119.5h2M429 120.5h2M406 121.5h3M430 121.5h2M407 122.5h1M431 122.5h1M405 123.5h1M407 123.5h1M431 123.5h2M406 124.5h1M406 125.5h1M431 125.5h2M405 126.5h2M404 127.5h3M432 127.5h1M404 128.5h3M432 128.5h1M404 129.5h3M432 129.5h1M404 130.5h3M432 130.5h1M404 131.5h3M405 132.5h2M432 132.5h1M405 133.5h2M432 133.5h1M405 134.5h2M432 134.5h1M405 135.5h2M431 135.5h2M405 136.5h1M432 136.5h1M405 137.5h2M431 137.5h1M405 138.5h3M431 138.5h2M406 139.5h2M431 139.5h2M406 140.5h2M431 140.5h1M406 141.5h2M430 141.5h2M406 142.5h3M430 142.5h2M407 143.5h1M431 143.5h1M407 144.5h1M409 144.5h1M430 144.5h2M407 145.5h3M429 145.5h2M408 146.5h3M429 146.5h2M408 147.5h3M429 147.5h2M408 148.5h4M428 148.5h2M409 149.5h3M428 149.5h2M410 150.5h2M427 150.5h3M410 151.5h4M426 151.5h3M411 152.5h4M426 152.5h3" stroke="#2e6cff"/><path d="M416 116.5h9M414 117.5h5M422 117.5h5M412 118.5h1M414 118.5h2M425 118.5h3M411 119.5h3M427 119.5h2M411 120.5h1M428 120.5h1M409 121.5h2M428 121.5h2M409 122.5h2M429 122.5h2M408 123.5h2M429 123.5h2M407 124.5h2M430 124.5h1M407 125.5h2M430 125.5h1M407 126.5h2M430 126.5h2M407 127.5h2M431 127.5h1M407 128.5h2M430 128.5h1M407 129.5h2M430 129.5h2M407 130.5h2M430 130.5h2M407 131.5h2M430 131.5h2M407 132.5h2M430 132.5h2M407 133.5h2M430 133.5h2M407 134.5h2M430 134.5h2M407 135.5h2M430 135.5h1M407 136.5h2M430 136.5h1M407 137.5h3M430 137.5h1M408 138.5h2M430 138.5h1M408 139.5h2M429 139.5h2M408 140.5h2M429 140.5h2M408 141.5h3M429 141.5h1M409 142.5h2M429 142.5h1M409 143.5h2M428 143.5h2M410 144.5h2M428 144.5h2M410 145.5h3M427 145.5h2M411 146.5h2M427 146.5h2M411 147.5h3M426 147.5h3M413 148.5h2M426 148.5h2M412 149.5h2M415 149.5h1M425 149.5h3M413 150.5h4M424 150.5h3M414 151.5h12M415 152.5h2M418 152.5h5M424 152.5h2" stroke="#34a4fb"/><path d="M419 117.5h3M417 118.5h8M414 119.5h4M424 119.5h3M412 120.5h3M426 120.5h2M411 121.5h3M427 121.5h1M411 122.5h2M428 122.5h1M410 123.5h2M428 123.5h1M409 124.5h2M428 124.5h2M409 125.5h2M429 125.5h1M409 126.5h2M429 126.5h1M409 127.5h1M429 127.5h1M409 128.5h1M429 128.5h1M409 129.5h1M429 129.5h1M409 130.5h1M429 130.5h1M409 131.5h1M429 131.5h1M409 132.5h1M429 132.5h1M410 133.5h1M429 133.5h1M409 134.5h2M429 134.5h1M409 135.5h2M429 135.5h1M409 136.5h2M428 136.5h2M410 137.5h1M428 137.5h2M410 138.5h2M428 138.5h1M410 139.5h2M428 139.5h1M410 140.5h3M427 140.5h2M411 141.5h2M428 141.5h1M411 142.5h2M427 142.5h2M412 143.5h2M426 143.5h2M412 144.5h3M426 144.5h2M413 145.5h3M425 145.5h1M413 146.5h4M424 146.5h3M414 147.5h1M416 147.5h2M423 147.5h3M416 148.5h10M416 149.5h9M417 150.5h7" stroke="#3cdce8"/><path d="M418 119.5h2M421 119.5h3M415 120.5h5M422 120.5h4M414 121.5h3M424 121.5h3M413 122.5h2M426 122.5h1M412 123.5h2M426 123.5h2M411 124.5h2M427 124.5h1M411 125.5h2M427 125.5h2M428 126.5h1M410 127.5h2M428 127.5h1M410 128.5h2M428 128.5h1M410 129.5h2M428 129.5h1M410 130.5h2M428 130.5h1M410 131.5h2M428 131.5h1M411 132.5h1M428 132.5h1M411 133.5h1M428 133.5h1M411 134.5h2M427 134.5h2M411 135.5h2M427 135.5h2M411 136.5h2M427 136.5h1M411 137.5h3M427 137.5h1M412 138.5h2M427 138.5h1M412 139.5h2M426 139.5h2M413 140.5h2M426 140.5h1M413 141.5h3M425 141.5h2M413 142.5h3M425 142.5h2M414 143.5h3M424 143.5h2M415 144.5h4M423 144.5h3M416 145.5h7M424 145.5h1M417 146.5h4M422 146.5h2M418 147.5h5" stroke="#60f69a"/><path d="M421 120.5h1M417 121.5h7M415 122.5h1M417 122.5h1M423 122.5h3M414 123.5h2M425 123.5h1M413 124.5h2M425 124.5h2M413 125.5h2M426 125.5h1M412 126.5h2M426 126.5h2M412 127.5h2M427 127.5h1M412 128.5h2M427 128.5h1M412 129.5h2M427 129.5h1M412 130.5h2M427 130.5h1M412 131.5h2M426 131.5h2M412 132.5h2M426 132.5h2M412 133.5h2M426 133.5h2M413 134.5h2M426 134.5h1M413 135.5h2M426 135.5h1M413 136.5h2M426 136.5h1M414 137.5h2M425 137.5h2M415 138.5h1M425 138.5h2M414 139.5h3M424 139.5h2M415 140.5h3M424 140.5h2M416 141.5h3M423 141.5h2M416 142.5h9M417 143.5h7M419 144.5h4" stroke="#a8ff48"/><path d="M418 122.5h5M416 123.5h9M415 124.5h4M423 124.5h2M415 125.5h2M424 125.5h2M414 126.5h2M425 126.5h1M414 127.5h2M425 127.5h2M414 128.5h2M425 128.5h2M414 129.5h2M425 129.5h2M414 130.5h2M425 130.5h2M414 131.5h2M425 131.5h1M414 132.5h2M425 132.5h1M414 133.5h3M424 133.5h2M415 134.5h2M424 134.5h2M415 135.5h3M424 135.5h1M415 136.5h3M423 136.5h3M416 137.5h2M422 137.5h3M416 138.5h2M419 138.5h6M417 139.5h7M418 140.5h6M420 141.5h3" stroke="#f4f424"/><path d="M419 124.5h4M417 125.5h7M416 126.5h3M423 126.5h2M416 127.5h2M423 127.5h2M416 128.5h2M423 128.5h2M416 129.5h2M423 129.5h2M416 130.5h2M423 130.5h2M416 131.5h3M423 131.5h2M416 132.5h3M423 132.5h2M417 133.5h3M422 133.5h2M417 134.5h2M420 134.5h1M422 134.5h2M418 135.5h6M418 136.5h5M420 137.5h2" stroke="#ffa018"/><path d="M419 126.5h4M418 127.5h5M418 128.5h5M418 129.5h3M422 129.5h1M418 130.5h5M419 131.5h4M419 132.5h4M420 133.5h2" stroke="#f03010"/></g>
<g fill="none" stroke-width="1" shape-rendering="crispEdges"><path d="M81 209.5h1M87 210.5h1M65 211.5h1M69 211.5h1M77 211.5h1M80 211.5h1M85 211.5h1M87 211.5h1M78 212.5h1M83 212.5h4M98 212.5h1M69 213.5h1M72 213.5h2M77 213.5h1M82 213.5h1M84 213.5h1M58 214.5h1M63 214.5h2M72 214.5h1M77 214.5h7M86 214.5h2M90 214.5h1M61 215.5h1M67 215.5h6M76 215.5h1M80 215.5h5M86 215.5h2M90 215.5h1M61 216.5h1M72 216.5h2M75 216.5h4M81 216.5h1M83 216.5h3M87 216.5h4M94 216.5h1M96 216.5h1M66 217.5h2M72 217.5h1M74 217.5h9M87 217.5h1M89 217.5h1M91 217.5h1M95 217.5h1M98 217.5h1M48 218.5h1M66 218.5h2M72 218.5h9M89 218.5h4M96 218.5h1M59 219.5h1M62 219.5h2M65 219.5h2M69 219.5h7M77 219.5h3M90 219.5h4M66 220.5h1M69 220.5h11M90 220.5h2M93 220.5h3M66 221.5h1M68 221.5h13M90 221.5h3M94 221.5h1M66 222.5h13M80 222.5h3M87 222.5h7M95 222.5h1M63 223.5h3M68 223.5h2M71 223.5h24M65 224.5h1M68 224.5h2M71 224.5h3M75 224.5h17M96 224.5h1M66 225.5h8M75 225.5h19M95 225.5h1M59 226.5h1M66 226.5h1M68 226.5h1M72 226.5h14M87 226.5h2M90 226.5h1M92 226.5h1M97 226.5h1M59 227.5h1M62 227.5h1M65 227.5h1M68 227.5h1M72 227.5h7M80 227.5h8M89 227.5h1M92 227.5h1M94 227.5h1M97 227.5h1M71 228.5h1M73 228.5h3M77 228.5h13M92 228.5h1M64 229.5h1M68 229.5h1M70 229.5h1M72 229.5h5M79 229.5h4M84 229.5h5M90 229.5h2M102 229.5h1M69 230.5h2M73 230.5h2M76 230.5h1M78 230.5h2M81 230.5h1M83 230.5h2M86 230.5h1M93 230.5h1M96 230.5h1M59 231.5h1M70 231.5h1M76 231.5h3M80 231.5h7M88 231.5h1M90 231.5h1M106 231.5h1M80 232.5h1M83 232.5h1M90 232.5h1M74 233.5h1M80 233.5h1M85 233.5h2M62 234.5h1M70 234.5h2M76 234.5h2M79 234.5h2M97 234.5h1M69 235.5h1M73 235.5h2M76 235.5h1M85 235.5h2M93 235.5h1M73 236.5h1M77 236.5h1M83 236.5h1M93 236.5h1M60 237.5h1M67 237.5h1M97 237.5h1M65 238.5h1M74 238.5h1M78 238.5h1M85 238.5h1M87 238.5h1M73 239.5h1M80 240.5h1M84 240.5h2M80 241.5h1M93 241.5h1M74 242.5h1M77 242.5h1M73 243.5h1M86 243.5h1M75 245.5h1M89 246.5h1M95 246.5h1M83 249.5h1M79 250.5h1M88 252.5h1M59 253.5h1M133 254.5h1M72 260.5h1M88 260.5h1M94 261.5h1M168 261.5h1M77 262.5h1M83 262.5h1M93 263.5h1M96 263.5h1M80 264.5h1M84 264.5h1M86 264.5h1M89 265.5h1M86 266.5h1M91 266.5h1M71 267.5h1M80 267.5h1M82 267.5h1M86 267.5h1M88 267.5h2M92 267.5h2M75 268.5h1M79 268.5h2M83 268.5h2M86 268.5h1M88 268.5h1M90 268.5h1M95 268.5h1M70 269.5h1M79 269.5h1M81 269.5h1M85 269.5h2M88 269.5h1M95 269.5h1M84 270.5h1M86 270.5h2M90 270.5h4M98 270.5h1M67 271.5h2M73 271.5h1M77 271.5h1M79 271.5h4M85 271.5h1M88 271.5h4M94 271.5h3M98 271.5h2M101 271.5h1M133 271.5h1M74 272.5h1M76 272.5h1M78 272.5h3M91 272.5h1M93 272.5h1M96 272.5h1M100 272.5h1M111 272.5h1M74 273.5h3M93 273.5h4M99 273.5h1M70 274.5h1M73 274.5h1M75 274.5h2M94 274.5h4M100 274.5h2M105 274.5h1M95 275.5h6M102 275.5h1M59 276.5h1M63 276.5h1M66 276.5h2M73 276.5h1M96 276.5h4M101 276.5h2M68 277.5h1M97 277.5h2M100 277.5h1M106 277.5h1M62 278.5h1M69 278.5h2M72 278.5h1M97 278.5h5M55 279.5h1M69 279.5h1M71 279.5h1M98 279.5h2M101 279.5h2M69 280.5h1M98 280.5h3M60 281.5h1M64 281.5h1M66 281.5h2M98 281.5h7M63 282.5h1M66 282.5h5M99 282.5h2M106 282.5h1M108 282.5h1M57 283.5h1M61 283.5h1M67 283.5h1M69 283.5h1M99 283.5h4M104 283.5h1M58 284.5h1M63 284.5h3M67 284.5h3M99 284.5h5M106 284.5h1M65 285.5h1M67 285.5h3M99 285.5h2M102 285.5h1M104 285.5h1M107 285.5h1M49 286.5h1M64 286.5h2M67 286.5h3M99 286.5h4M104 286.5h1M56 287.5h1M59 287.5h1M61 287.5h1M64 287.5h1M66 287.5h1M68 287.5h2M99 287.5h5M52 288.5h1M62 288.5h1M64 288.5h6M99 288.5h2M102 288.5h1M104 288.5h2M59 289.5h1M62 289.5h3M66 289.5h4M99 289.5h3M106 289.5h1M55 290.5h1M57 290.5h5M63 290.5h7M99 290.5h3M103 290.5h2M60 291.5h2M63 291.5h7M99 291.5h2M102 291.5h2M54 292.5h2M57 292.5h3M62 292.5h8M99 292.5h3M107 292.5h1M47 293.5h1M58 293.5h2M61 293.5h2M64 293.5h7M99 293.5h5M55 294.5h1M57 294.5h2M60 294.5h1M62 294.5h9M99 294.5h3M110 294.5h1M50 295.5h1M53 295.5h2M56 295.5h1M58 295.5h4M63 295.5h8M99 295.5h5M49 296.5h1M52 296.5h1M54 296.5h17M98 296.5h5M55 297.5h2M58 297.5h4M63 297.5h8M98 297.5h4M104 297.5h2M50 298.5h1M53 298.5h1M55 298.5h2M58 298.5h13M98 298.5h5M104 298.5h2M109 298.5h1M53 299.5h1M56 299.5h1M58 299.5h14M98 299.5h4M103 299.5h2M109 299.5h1M51 300.5h1M55 300.5h17M98 300.5h4M52 301.5h1M57 301.5h15M97 301.5h5M105 301.5h2M45 302.5h1M50 302.5h1M54 302.5h15M70 302.5h3M97 302.5h8M52 303.5h1M55 303.5h6M62 303.5h1M64 303.5h7M72 303.5h1M97 303.5h5M105 303.5h2M55 304.5h2M58 304.5h15M97 304.5h5M49 305.5h1M56 305.5h18M96 305.5h5M104 305.5h1M50 306.5h2M54 306.5h1M56 306.5h1M58 306.5h13M72 306.5h2M96 306.5h7M47 307.5h1M54 307.5h5M60 307.5h15M96 307.5h6M103 307.5h1M45 308.5h1M55 308.5h6M62 308.5h13M95 308.5h1M97 308.5h7M54 309.5h1M57 309.5h19M95 309.5h3M99 309.5h3M103 309.5h3M53 310.5h5M59 310.5h18M94 310.5h10M106 310.5h1M108 310.5h1" stroke="#2a46fa"/><path d="M83 217.5h4M81 218.5h3M86 218.5h1M88 218.5h1M80 219.5h2M88 219.5h2M80 220.5h2M88 220.5h2M81 221.5h3M86 221.5h2M83 222.5h4M86 271.5h2M82 272.5h2M85 272.5h4M90 272.5h1M78 273.5h7M88 273.5h5M77 274.5h4M91 274.5h2M75 275.5h1M78 275.5h1M93 275.5h2M74 276.5h2M94 276.5h2M75 277.5h1M95 277.5h2M95 278.5h2M73 279.5h1M96 279.5h2M71 280.5h3M96 280.5h2M72 281.5h1M97 281.5h1M72 282.5h1M97 282.5h2M71 283.5h2M97 283.5h2M70 284.5h2M97 284.5h2M70 285.5h2M97 285.5h2M70 286.5h2M97 286.5h2M70 287.5h2M97 287.5h2M70 288.5h2M97 288.5h2M70 289.5h2M97 289.5h2M70 290.5h2M97 290.5h2M70 291.5h2M97 291.5h2M70 292.5h3M97 292.5h2M71 293.5h2M98 293.5h1M71 294.5h2M97 294.5h2M71 295.5h2M97 295.5h2M71 296.5h2M97 296.5h1M71 297.5h3M96 297.5h2M71 298.5h3M96 298.5h2M72 299.5h2M96 299.5h2M72 300.5h3M96 300.5h2M72 301.5h3M96 301.5h1M73 302.5h2M95 302.5h2M73 303.5h3M95 303.5h2M73 304.5h3M95 304.5h2M74 305.5h3M94 305.5h2M74 306.5h4M94 306.5h2M75 307.5h3M93 307.5h3M75 308.5h4M93 308.5h2M76 309.5h4M92 309.5h3M77 310.5h4M91 310.5h3" stroke="#2e6cff"/><path d="M84 218.5h2M82 219.5h6M82 220.5h6M84 221.5h2M85 273.5h3M81 274.5h10M79 275.5h4M89 275.5h4M77 276.5h4M91 276.5h3M76 277.5h3M93 277.5h2M75 278.5h3M94 278.5h1M76 279.5h1M94 279.5h2M74 280.5h2M95 280.5h1M73 281.5h2M95 281.5h2M73 282.5h2M96 282.5h1M73 283.5h2M96 283.5h1M72 284.5h2M96 284.5h1M72 285.5h2M96 285.5h1M72 286.5h2M72 287.5h2M96 287.5h1M72 288.5h2M96 288.5h1M72 289.5h2M96 289.5h1M72 290.5h2M96 290.5h1M73 291.5h2M96 291.5h1M74 292.5h1M96 292.5h1M73 293.5h2M96 293.5h1M73 294.5h2M95 294.5h2M73 295.5h1M95 295.5h2M73 296.5h3M95 296.5h2M74 297.5h2M95 297.5h1M74 298.5h2M95 298.5h1M74 299.5h3M94 299.5h2M75 300.5h2M94 300.5h2M75 301.5h2M94 301.5h2M75 302.5h3M93 302.5h2M76 303.5h3M93 303.5h2M76 304.5h3M92 304.5h3M77 305.5h3M92 305.5h2M78 306.5h3M91 306.5h3M78 307.5h4M90 307.5h3M79 308.5h5M89 308.5h4M80 309.5h12M81 310.5h10" stroke="#34a4fb"/><path d="M84 275.5h5M81 276.5h10M79 277.5h3M90 277.5h3M78 278.5h2M92 278.5h2M77 279.5h2M93 279.5h1M76 280.5h2M93 280.5h2M75 281.5h1M94 281.5h1M75 282.5h2M94 282.5h2M75 283.5h1M94 283.5h2M74 284.5h1M95 284.5h1M74 285.5h2M95 285.5h1M74 286.5h2M95 286.5h1M74 287.5h2M95 287.5h1M74 288.5h1M95 288.5h1M74 289.5h2M95 289.5h1M74 290.5h2M95 290.5h1M75 291.5h1M95 291.5h1M75 292.5h2M94 292.5h2M75 293.5h2M94 293.5h2M75 294.5h2M94 294.5h1M75 295.5h2M94 295.5h1M76 296.5h2M94 296.5h1M76 297.5h2M93 297.5h2M76 298.5h2M93 298.5h2M77 299.5h2M93 299.5h1M78 300.5h1M92 300.5h2M77 301.5h3M92 301.5h2M78 302.5h3M91 302.5h2M79 303.5h3M91 303.5h2M79 304.5h4M90 304.5h2M80 305.5h4M89 305.5h3M81 306.5h10M82 307.5h3M86 307.5h1M88 307.5h2M84 308.5h5" stroke="#3cdce8"/><path d="M82 277.5h8M80 278.5h4M89 278.5h3M79 279.5h2M91 279.5h2M78 280.5h2M92 280.5h1M77 281.5h2M92 281.5h2M77 282.5h2M93 282.5h1M76 283.5h2M93 283.5h1M76 284.5h2M93 284.5h2M76 285.5h2M94 285.5h1M76 286.5h2M94 286.5h1M76 287.5h2M94 287.5h1M76 288.5h2M93 288.5h2M76 289.5h1M93 289.5h2M76 290.5h2M93 290.5h2M76 291.5h2M93 291.5h2M77 292.5h1M93 292.5h1M77 293.5h2M93 293.5h1M77 294.5h2M93 294.5h1M77 295.5h2M92 295.5h2M78 296.5h2M92 296.5h2M78 297.5h2M92 297.5h1M78 298.5h3M91 298.5h2M79 299.5h2M91 299.5h2M79 300.5h3M90 300.5h2M80 301.5h3M89 301.5h1M91 301.5h1M81 302.5h4M88 302.5h3M82 303.5h3M86 303.5h4M83 304.5h1M85 304.5h5M84 305.5h5" stroke="#60f69a"/><path d="M85 278.5h4M82 279.5h9M80 280.5h3M90 280.5h2M79 281.5h3M91 281.5h1M79 282.5h2M91 282.5h2M78 283.5h2M92 283.5h1M78 284.5h2M92 284.5h1M78 285.5h2M92 285.5h2M78 286.5h1M92 286.5h2M78 287.5h1M92 287.5h2M78 288.5h2M92 288.5h1M78 289.5h2M92 289.5h1M78 290.5h2M78 291.5h2M92 291.5h1M78 292.5h2M92 292.5h1M79 293.5h2M91 293.5h2M79 294.5h2M91 294.5h2M79 295.5h3M91 295.5h1M80 296.5h2M90 296.5h2M80 297.5h3M90 297.5h2M81 298.5h3M89 298.5h2M81 299.5h5M88 299.5h3M82 300.5h8M83 301.5h6M85 302.5h3" stroke="#a8ff48"/><path d="M83 280.5h7M82 281.5h9M81 282.5h3M89 282.5h2M80 283.5h3M90 283.5h2M80 284.5h2M90 284.5h2M81 285.5h1M91 285.5h1M79 286.5h3M91 286.5h1M79 287.5h3M91 287.5h1M80 288.5h2M91 288.5h1M80 289.5h2M90 289.5h2M80 290.5h2M90 290.5h2M80 291.5h3M90 291.5h2M80 292.5h3M90 292.5h2M81 293.5h2M89 293.5h2M81 294.5h3M89 294.5h2M82 295.5h4M88 295.5h3M82 296.5h8M84 297.5h6M84 298.5h5M86 299.5h2" stroke="#f4f424"/><path d="M84 282.5h5M83 283.5h7M82 284.5h3M89 284.5h1M82 285.5h2M89 285.5h2M82 286.5h2M89 286.5h2M82 287.5h2M89 287.5h2M82 288.5h2M89 288.5h2M82 289.5h2M89 289.5h1M82 290.5h3M88 290.5h2M83 291.5h3M88 291.5h2M83 292.5h7M83 293.5h6M84 294.5h5M86 295.5h2" stroke="#ffa018"/><path d="M85 284.5h3M84 285.5h5M84 286.5h5M84 287.5h5M84 288.5h5M85 289.5h2M88 289.5h1M85 290.5h3M86 291.5h2" stroke="#f03010"/></g>
<g fill="none" stroke-width="1" shape-rendering="crispEdges"><path d="M324 200.5h1M264 214.5h2M333 215.5h1M231 218.5h1M253 219.5h1M295 219.5h1M325 219.5h1M246 221.5h1M255 222.5h1M263 222.5h1M295 222.5h1M246 225.5h1M332 225.5h1M253 227.5h1M288 227.5h1M241 228.5h1M295 228.5h1M249 229.5h1M246 230.5h1M264 230.5h1M239 231.5h1M248 231.5h1M251 231.5h1M256 231.5h1M274 231.5h1M321 231.5h1M235 232.5h1M280 232.5h1M291 232.5h1M297 232.5h1M307 232.5h1M326 232.5h1M239 233.5h1M245 233.5h1M247 233.5h1M253 233.5h1M255 233.5h1M280 233.5h1M255 234.5h1M263 234.5h1M314 234.5h2M318 234.5h1M247 235.5h1M294 235.5h1M302 235.5h1M306 235.5h1M310 235.5h2M323 235.5h1M243 236.5h1M247 236.5h1M258 236.5h2M261 236.5h1M297 236.5h1M306 236.5h1M310 236.5h3M246 237.5h1M285 237.5h1M296 237.5h1M300 237.5h1M307 237.5h1M312 237.5h1M326 237.5h1M332 237.5h1M255 238.5h1M286 238.5h1M289 238.5h1M300 238.5h1M307 238.5h1M313 238.5h1M315 238.5h1M317 238.5h1M319 238.5h2M249 239.5h1M258 239.5h1M268 239.5h1M289 239.5h1M292 239.5h1M295 239.5h1M297 239.5h1M300 239.5h1M304 239.5h3M308 239.5h2M311 239.5h3M316 239.5h1M318 239.5h1M322 239.5h1M330 239.5h1M337 239.5h1M249 240.5h1M288 240.5h1M294 240.5h2M297 240.5h2M305 240.5h1M308 240.5h3M314 240.5h2M317 240.5h2M324 240.5h1M244 241.5h1M265 241.5h1M285 241.5h1M290 241.5h1M292 241.5h1M304 241.5h1M306 241.5h2M310 241.5h2M315 241.5h2M326 241.5h1M252 242.5h1M255 242.5h1M258 242.5h1M272 242.5h1M289 242.5h2M293 242.5h3M299 242.5h1M302 242.5h1M304 242.5h4M309 242.5h4M314 242.5h1M317 242.5h2M330 242.5h1M291 243.5h1M298 243.5h1M300 243.5h1M302 243.5h2M308 243.5h3M312 243.5h1M316 243.5h2M319 243.5h1M328 243.5h1M236 244.5h1M241 244.5h1M248 244.5h1M298 244.5h2M303 244.5h2M307 244.5h3M311 244.5h3M315 244.5h2M325 244.5h2M331 244.5h1M238 245.5h1M251 245.5h1M262 245.5h1M283 245.5h1M298 245.5h1M301 245.5h1M303 245.5h1M307 245.5h1M309 245.5h2M313 245.5h5M322 245.5h1M324 245.5h1M333 245.5h1M248 246.5h1M281 246.5h1M288 246.5h1M298 246.5h2M302 246.5h3M306 246.5h2M310 246.5h4M317 246.5h4M322 246.5h1M324 246.5h1M278 247.5h1M286 247.5h1M292 247.5h1M294 247.5h2M297 247.5h1M299 247.5h3M303 247.5h2M306 247.5h8M317 247.5h1M319 247.5h1M324 247.5h1M272 248.5h1M277 248.5h1M281 248.5h1M289 248.5h1M291 248.5h5M299 248.5h3M303 248.5h10M314 248.5h1M316 248.5h1M318 248.5h1M320 248.5h2M325 248.5h2M332 248.5h1M263 249.5h1M271 249.5h1M282 249.5h1M287 249.5h1M295 249.5h4M300 249.5h3M304 249.5h2M307 249.5h5M313 249.5h1M315 249.5h1M317 249.5h3M322 249.5h1M236 250.5h1M243 250.5h1M293 250.5h1M298 250.5h1M300 250.5h1M302 250.5h11M315 250.5h1M317 250.5h2M322 250.5h1M324 250.5h1M327 250.5h1M242 251.5h1M277 251.5h1M283 251.5h1M288 251.5h1M292 251.5h1M295 251.5h6M305 251.5h1M307 251.5h6M314 251.5h1M316 251.5h7M326 251.5h2M331 251.5h1M335 251.5h1M282 252.5h1M287 252.5h1M290 252.5h4M295 252.5h1M298 252.5h4M303 252.5h3M307 252.5h6M314 252.5h3M320 252.5h3M329 252.5h1M240 253.5h1M253 253.5h1M288 253.5h1M290 253.5h2M293 253.5h2M296 253.5h2M299 253.5h1M302 253.5h7M310 253.5h5M317 253.5h4M327 253.5h1M258 254.5h1M266 254.5h1M271 254.5h1M273 254.5h1M279 254.5h1M289 254.5h1M293 254.5h1M296 254.5h1M298 254.5h2M301 254.5h3M305 254.5h4M310 254.5h5M316 254.5h2M319 254.5h3M325 254.5h1M327 254.5h2M243 255.5h1M247 255.5h1M269 255.5h1M290 255.5h1M293 255.5h2M297 255.5h6M304 255.5h2M307 255.5h9M318 255.5h3M322 255.5h2M330 255.5h1M273 256.5h1M287 256.5h3M291 256.5h2M297 256.5h1M300 256.5h4M305 256.5h9M315 256.5h5M321 256.5h1M325 256.5h1M327 256.5h1M337 256.5h1M281 257.5h1M293 257.5h1M295 257.5h2M298 257.5h2M301 257.5h12M314 257.5h2M317 257.5h3M322 257.5h3M327 257.5h3M253 258.5h1M273 258.5h1M277 258.5h1M286 258.5h4M291 258.5h1M293 258.5h7M301 258.5h2M304 258.5h6M311 258.5h6M318 258.5h2M323 258.5h1M337 258.5h1M261 259.5h1M263 259.5h1M280 259.5h1M286 259.5h1M292 259.5h9M302 259.5h8M311 259.5h8M320 259.5h1M322 259.5h1M324 259.5h1M328 259.5h1M332 259.5h1M253 260.5h1M280 260.5h1M283 260.5h1M289 260.5h1M292 260.5h1M294 260.5h1M297 260.5h2M300 260.5h5M306 260.5h14M324 260.5h1M326 260.5h4M252 261.5h1M285 261.5h1M290 261.5h1M297 261.5h2M300 261.5h10M311 261.5h1M313 261.5h1M315 261.5h3M319 261.5h1M322 261.5h1M325 261.5h1M336 261.5h1M244 262.5h1M251 262.5h1M259 262.5h1M285 262.5h1M291 262.5h1M294 262.5h1M296 262.5h2M299 262.5h2M302 262.5h10M314 262.5h3M326 262.5h2M251 263.5h1M269 263.5h1M286 263.5h1M291 263.5h1M297 263.5h1M299 263.5h1M301 263.5h1M304 263.5h1M306 263.5h1M308 263.5h1M310 263.5h1M314 263.5h2M317 263.5h2M320 263.5h1M322 263.5h2M326 263.5h1M331 263.5h1M336 263.5h1M253 264.5h1M255 264.5h2M272 264.5h1M281 264.5h1M287 264.5h2M291 264.5h2M296 264.5h1M299 264.5h3M303 264.5h3M308 264.5h9M319 264.5h4M325 264.5h1M332 264.5h1M243 265.5h1M255 265.5h1M259 265.5h1M262 265.5h1M269 265.5h1M287 265.5h2M290 265.5h1M293 265.5h1M295 265.5h1M300 265.5h1M302 265.5h1M305 265.5h1M307 265.5h4M312 265.5h7M321 265.5h2M327 265.5h1M253 266.5h2M258 266.5h2M261 266.5h1M265 266.5h1M267 266.5h1M274 266.5h1M282 266.5h1M287 266.5h1M291 266.5h1M299 266.5h4M304 266.5h7M313 266.5h8M323 266.5h1M329 266.5h1M249 267.5h3M253 267.5h1M255 267.5h4M260 267.5h2M266 267.5h2M269 267.5h1M271 267.5h1M276 267.5h1M280 267.5h1M289 267.5h1M296 267.5h4M302 267.5h1M304 267.5h6M312 267.5h3M317 267.5h2M323 267.5h1M325 267.5h1M330 267.5h1M334 267.5h2M230 268.5h1M248 268.5h1M250 268.5h1M252 268.5h1M254 268.5h3M258 268.5h7M267 268.5h1M285 268.5h1M292 268.5h1M294 268.5h3M299 268.5h3M304 268.5h5M313 268.5h2M316 268.5h1M319 268.5h2M323 268.5h1M328 268.5h1M245 269.5h1M247 269.5h1M249 269.5h1M252 269.5h10M263 269.5h2M266 269.5h1M268 269.5h1M270 269.5h1M287 269.5h2M291 269.5h1M297 269.5h1M299 269.5h4M304 269.5h2M309 269.5h1M312 269.5h1M314 269.5h1M316 269.5h1M323 269.5h2M246 270.5h1M248 270.5h1M250 270.5h4M255 270.5h11M271 270.5h1M273 270.5h1M276 270.5h2M279 270.5h1M283 270.5h1M285 270.5h1M287 270.5h1M302 270.5h1M304 270.5h5M312 270.5h1M314 270.5h1M319 270.5h1M322 270.5h1M325 270.5h1M244 271.5h1M247 271.5h1M249 271.5h17M267 271.5h2M270 271.5h1M285 271.5h1M288 271.5h1M292 271.5h1M297 271.5h2M301 271.5h1M303 271.5h1M306 271.5h1M308 271.5h8M243 272.5h1M245 272.5h6M261 272.5h10M296 272.5h2M299 272.5h1M301 272.5h2M305 272.5h1M307 272.5h1M311 272.5h1M315 272.5h1M323 272.5h1M244 273.5h1M246 273.5h2M262 273.5h8M290 273.5h1M292 273.5h1M294 273.5h1M296 273.5h3M301 273.5h1M303 273.5h1M307 273.5h4M315 273.5h2M327 273.5h1M236 274.5h1M241 274.5h1M245 274.5h1M264 274.5h4M269 274.5h1M271 274.5h1M293 274.5h1M299 274.5h1M309 274.5h2M313 274.5h3M327 274.5h1M229 275.5h1M244 275.5h1M265 275.5h4M270 275.5h2M283 275.5h1M296 275.5h1M298 275.5h1M301 275.5h1M305 275.5h1M309 275.5h1M312 275.5h1M314 275.5h1M317 275.5h2M323 275.5h1M239 276.5h1M266 276.5h4M273 276.5h1M294 276.5h1M296 276.5h2M299 276.5h1M305 276.5h3M312 276.5h1M316 276.5h2M323 276.5h1M234 277.5h1M236 277.5h1M238 277.5h1M242 277.5h1M266 277.5h4M273 277.5h1M283 277.5h1M285 277.5h1M298 277.5h2M304 277.5h1M312 277.5h1M319 277.5h1M227 278.5h1M231 278.5h1M241 278.5h1M267 278.5h5M273 278.5h1M277 278.5h1M293 278.5h1M298 278.5h1M305 278.5h1M234 279.5h1M236 279.5h1M238 279.5h1M267 279.5h4M272 279.5h1M275 279.5h1M283 279.5h1M287 279.5h1M296 279.5h1M303 279.5h1M305 279.5h1M318 279.5h1M234 280.5h1M240 280.5h1M268 280.5h3M272 280.5h1M275 280.5h2M313 280.5h1M317 280.5h1M327 280.5h1M231 281.5h2M236 281.5h1M268 281.5h2M272 281.5h2M275 281.5h1M277 281.5h1M297 281.5h1M302 281.5h1M311 281.5h1M234 282.5h1M236 282.5h1M238 282.5h2M268 282.5h6M283 282.5h1M285 282.5h1M290 282.5h1M300 282.5h1M304 282.5h1M324 282.5h1M232 283.5h1M234 283.5h1M238 283.5h2M268 283.5h2M271 283.5h1M284 283.5h1M298 283.5h1M305 283.5h1M307 283.5h1M313 283.5h1M318 283.5h1M223 284.5h1M235 284.5h3M269 284.5h3M273 284.5h1M276 284.5h1M290 284.5h1M293 284.5h2M309 284.5h1M318 284.5h1M326 284.5h1M222 285.5h1M233 285.5h1M235 285.5h1M238 285.5h2M269 285.5h1M272 285.5h3M298 285.5h1M300 285.5h1M218 286.5h1M221 286.5h1M234 286.5h1M236 286.5h2M239 286.5h1M269 286.5h2M272 286.5h1M284 286.5h1M301 286.5h1M309 286.5h3M314 286.5h1M217 287.5h1M224 287.5h1M227 287.5h1M229 287.5h1M232 287.5h1M234 287.5h6M270 287.5h4M281 287.5h1M231 288.5h2M234 288.5h1M236 288.5h4M269 288.5h3M273 288.5h1M281 288.5h1M308 288.5h1M226 289.5h1M231 289.5h1M235 289.5h5M269 289.5h6M277 289.5h1M296 289.5h1M314 289.5h1M226 290.5h1M228 290.5h1M232 290.5h2M235 290.5h5M268 290.5h6M283 290.5h1M309 290.5h2M222 291.5h1M228 291.5h1M231 291.5h9M268 291.5h3M272 291.5h1M275 291.5h1M281 291.5h1M302 291.5h1M219 292.5h1M229 292.5h1M232 292.5h1M234 292.5h6M268 292.5h3M272 292.5h2M289 292.5h1M291 292.5h1M227 293.5h1M230 293.5h4M235 293.5h5M268 293.5h1M270 293.5h2M299 293.5h1M316 293.5h1M326 293.5h1M224 294.5h1M226 294.5h1M229 294.5h1M232 294.5h8M268 294.5h3M272 294.5h2M276 294.5h2M300 294.5h1M334 294.5h1M222 295.5h1M229 295.5h1M233 295.5h7M268 295.5h3M272 295.5h2M290 295.5h1M327 295.5h1M225 296.5h1M228 296.5h1M230 296.5h6M237 296.5h4M268 296.5h7M302 296.5h1M313 296.5h1M223 297.5h1M225 297.5h1M229 297.5h1M231 297.5h10M268 297.5h2M271 297.5h1M273 297.5h1M275 297.5h1M285 297.5h2M327 297.5h1M225 298.5h1M229 298.5h7M237 298.5h4M268 298.5h2M271 298.5h2M274 298.5h1M290 298.5h1M297 298.5h1M225 299.5h1M227 299.5h14M267 299.5h9M278 299.5h1M307 299.5h1M226 300.5h2M229 300.5h13M267 300.5h6M298 300.5h1M302 300.5h1M227 301.5h2M230 301.5h12M267 301.5h7M220 302.5h1M227 302.5h14M267 302.5h1M269 302.5h3M273 302.5h1M295 302.5h1M310 302.5h1M313 302.5h1M222 303.5h3M226 303.5h5M232 303.5h11M266 303.5h7M278 303.5h1M300 303.5h1M225 304.5h1M229 304.5h4M234 304.5h9M266 304.5h1M268 304.5h3M273 304.5h1M275 304.5h1M219 305.5h1M223 305.5h1M227 305.5h16M266 305.5h2M269 305.5h4M275 305.5h1M277 305.5h1M281 305.5h1M220 306.5h1M224 306.5h2M228 306.5h16M266 306.5h9M224 307.5h3M228 307.5h16M265 307.5h10M219 308.5h1M223 308.5h1M225 308.5h1M231 308.5h8M240 308.5h5M265 308.5h8M220 309.5h1M227 309.5h18M264 309.5h5M270 309.5h2M273 309.5h1M226 310.5h1M230 310.5h16M264 310.5h7M272 310.5h4M305 310.5h1M315 310.5h1M322 310.5h1" stroke="#2a46fa"/><path d="M251 272.5h10M248 273.5h12M261 273.5h1M246 274.5h5M260 274.5h4M245 275.5h3M262 275.5h3M244 276.5h3M263 276.5h3M243 277.5h3M264 277.5h2M244 278.5h1M265 278.5h2M242 279.5h1M265 279.5h2M242 280.5h1M267 280.5h1M241 281.5h2M267 281.5h1M240 282.5h2M267 282.5h1M240 283.5h2M267 283.5h1M240 284.5h2M267 284.5h2M240 285.5h2M267 285.5h2M240 286.5h2M267 286.5h2M240 287.5h2M267 287.5h2M240 288.5h2M267 288.5h2M240 289.5h2M267 289.5h2M240 290.5h2M267 290.5h1M240 291.5h2M267 291.5h1M240 292.5h2M267 292.5h1M240 293.5h2M267 293.5h1M240 294.5h3M266 294.5h2M240 295.5h3M266 295.5h2M241 296.5h2M266 296.5h2M241 297.5h2M266 297.5h2M242 298.5h1M266 298.5h2M241 299.5h3M266 299.5h1M242 300.5h2M265 300.5h2M242 301.5h2M265 301.5h1M242 302.5h3M265 302.5h2M243 303.5h2M264 303.5h2M244 304.5h2M264 304.5h2M243 305.5h3M264 305.5h2M244 306.5h2M263 306.5h3M244 307.5h4M263 307.5h2M245 308.5h3M262 308.5h3M245 309.5h4M261 309.5h3M246 310.5h5M261 310.5h3" stroke="#2e6cff"/><path d="M251 274.5h9M250 275.5h3M259 275.5h3M247 276.5h3M261 276.5h2M246 277.5h3M262 277.5h2M245 278.5h2M263 278.5h2M245 279.5h1M264 279.5h1M243 280.5h3M264 280.5h2M243 281.5h2M265 281.5h1M242 282.5h1M265 282.5h2M242 283.5h2M265 283.5h2M242 284.5h2M265 284.5h2M242 285.5h2M266 285.5h1M242 286.5h2M266 286.5h1M242 287.5h2M266 287.5h1M242 288.5h2M266 288.5h1M242 289.5h2M266 289.5h1M242 290.5h2M265 290.5h2M242 291.5h2M265 291.5h2M242 292.5h2M265 292.5h2M242 293.5h2M265 293.5h2M243 294.5h2M265 294.5h1M243 295.5h2M265 295.5h1M243 296.5h2M265 296.5h1M243 297.5h2M264 297.5h2M244 298.5h2M264 298.5h2M244 299.5h2M264 299.5h2M244 300.5h2M264 300.5h1M244 301.5h3M263 301.5h2M245 302.5h2M263 302.5h2M245 303.5h3M263 303.5h1M246 304.5h3M262 304.5h2M246 305.5h3M261 305.5h3M247 306.5h3M261 306.5h2M248 307.5h3M260 307.5h3M248 308.5h5M259 308.5h3M249 309.5h12M251 310.5h1M253 310.5h8" stroke="#34a4fb"/><path d="M253 275.5h6M251 276.5h10M250 277.5h2M259 277.5h3M247 278.5h3M261 278.5h2M246 279.5h3M263 279.5h1M246 280.5h2M263 280.5h1M245 281.5h2M263 281.5h2M244 282.5h2M264 282.5h1M244 283.5h2M264 283.5h1M244 284.5h2M264 284.5h1M244 285.5h2M264 285.5h2M244 286.5h1M264 286.5h2M244 287.5h2M264 287.5h2M244 288.5h2M264 288.5h2M245 289.5h1M264 289.5h2M244 290.5h2M264 290.5h1M244 291.5h2M264 291.5h1M244 292.5h2M264 292.5h1M244 293.5h2M245 294.5h1M264 294.5h1M245 295.5h2M263 295.5h2M245 296.5h2M263 296.5h2M245 297.5h2M263 297.5h1M246 298.5h2M263 298.5h1M246 299.5h2M262 299.5h1M246 300.5h3M262 300.5h2M247 301.5h1M261 301.5h2M247 302.5h3M261 302.5h2M248 303.5h2M260 303.5h3M249 304.5h3M260 304.5h2M249 305.5h5M258 305.5h3M250 306.5h11M251 307.5h4M256 307.5h4M253 308.5h6" stroke="#3cdce8"/><path d="M252 277.5h7M251 278.5h3M258 278.5h3M249 279.5h3M260 279.5h2M248 280.5h1M261 280.5h2M247 281.5h2M262 281.5h1M246 282.5h2M262 282.5h2M246 283.5h2M263 283.5h1M246 284.5h1M263 284.5h1M246 285.5h1M263 285.5h1M245 286.5h2M263 286.5h1M246 287.5h1M263 287.5h1M246 288.5h1M263 288.5h1M246 289.5h1M263 289.5h1M246 290.5h2M263 290.5h1M246 291.5h2M263 291.5h1M246 292.5h2M263 292.5h1M246 293.5h2M262 293.5h2M246 294.5h2M262 294.5h2M247 295.5h2M262 295.5h1M247 296.5h2M262 296.5h1M247 297.5h3M261 297.5h2M248 298.5h2M261 298.5h2M248 299.5h3M260 299.5h1M249 300.5h3M260 300.5h2M249 301.5h4M259 301.5h1M250 302.5h4M258 302.5h3M251 303.5h1M253 303.5h2M256 303.5h4M252 304.5h8M254 305.5h4" stroke="#60f69a"/><path d="M254 278.5h4M252 279.5h8M250 280.5h3M259 280.5h2M249 281.5h2M260 281.5h2M248 282.5h2M261 282.5h1M248 283.5h2M261 283.5h2M247 284.5h2M262 284.5h1M247 285.5h2M262 285.5h1M247 286.5h2M262 286.5h1M247 287.5h2M262 287.5h1M247 288.5h1M262 288.5h1M247 289.5h2M262 289.5h1M248 290.5h1M262 290.5h1M248 291.5h2M261 291.5h2M248 292.5h2M261 292.5h2M248 293.5h2M261 293.5h1M248 294.5h2M261 294.5h1M249 295.5h2M260 295.5h2M249 296.5h3M260 296.5h2M250 297.5h2M259 297.5h2M250 298.5h3M259 298.5h2M251 299.5h4M258 299.5h2M252 300.5h8M253 301.5h6M254 302.5h4" stroke="#a8ff48"/><path d="M253 280.5h6M251 281.5h9M250 282.5h3M259 282.5h2M250 283.5h2M259 283.5h2M249 284.5h3M260 284.5h2M249 285.5h2M260 285.5h2M249 286.5h2M260 286.5h2M250 287.5h1M260 287.5h2M249 288.5h2M260 288.5h2M249 289.5h2M260 289.5h2M249 290.5h3M260 290.5h2M251 291.5h1M260 291.5h1M250 292.5h2M259 292.5h2M250 293.5h3M259 293.5h2M250 294.5h4M258 294.5h3M251 295.5h4M257 295.5h3M252 296.5h8M252 297.5h7M253 298.5h6M255 299.5h3" stroke="#f4f424"/><path d="M253 282.5h1M256 282.5h1M258 282.5h1M252 283.5h7M252 284.5h2M258 284.5h2M251 285.5h2M251 286.5h2M259 286.5h1M251 287.5h2M251 288.5h3M258 288.5h2M251 289.5h2M258 289.5h2M252 290.5h2M258 290.5h2M252 291.5h3M257 291.5h3M252 292.5h7M253 293.5h2M256 293.5h3M254 294.5h4M255 295.5h2" stroke="#ffa018"/><path d="M254 284.5h4M254 285.5h5M253 286.5h3M257 286.5h2M253 287.5h6M255 288.5h3M254 289.5h4M254 290.5h4M255 291.5h2" stroke="#f03010"/></g>
<g fill="none" stroke-width="1" shape-rendering="crispEdges"><path d="M421 211.5h1M433 212.5h1M395 214.5h1M428 215.5h2M433 215.5h1M423 216.5h1M425 216.5h1M424 217.5h2M428 217.5h1M430 217.5h1M410 218.5h1M416 218.5h1M428 218.5h2M441 218.5h1M444 218.5h1M408 219.5h1M412 219.5h2M415 219.5h1M417 219.5h1M421 219.5h1M427 219.5h1M429 219.5h1M444 219.5h1M473 219.5h1M409 220.5h1M416 220.5h1M420 220.5h1M423 220.5h1M425 220.5h2M428 220.5h1M431 220.5h1M454 220.5h1M421 221.5h1M425 221.5h1M427 221.5h2M436 221.5h1M449 221.5h1M391 222.5h1M409 222.5h1M413 222.5h1M415 222.5h1M419 222.5h2M423 222.5h3M430 222.5h1M438 222.5h1M458 222.5h1M476 222.5h1M409 223.5h1M416 223.5h1M418 223.5h1M420 223.5h1M422 223.5h2M425 223.5h1M427 223.5h4M432 223.5h1M435 223.5h1M459 223.5h1M461 223.5h1M413 224.5h1M415 224.5h1M417 224.5h1M419 224.5h2M422 224.5h6M431 224.5h1M436 224.5h1M438 224.5h1M442 224.5h1M445 224.5h1M464 224.5h1M469 224.5h1M406 225.5h5M414 225.5h1M416 225.5h1M418 225.5h6M425 225.5h1M428 225.5h3M432 225.5h1M436 225.5h1M438 225.5h1M441 225.5h1M447 225.5h1M468 225.5h1M475 225.5h1M398 226.5h1M411 226.5h1M413 226.5h2M417 226.5h4M422 226.5h4M428 226.5h5M434 226.5h1M438 226.5h1M441 226.5h1M443 226.5h1M445 226.5h1M449 226.5h1M454 226.5h1M456 226.5h1M390 227.5h1M405 227.5h1M409 227.5h1M411 227.5h1M414 227.5h1M416 227.5h2M419 227.5h1M422 227.5h2M425 227.5h2M430 227.5h4M435 227.5h1M437 227.5h1M439 227.5h1M449 227.5h1M455 227.5h2M467 227.5h1M404 228.5h1M407 228.5h1M410 228.5h1M412 228.5h1M415 228.5h1M417 228.5h4M423 228.5h1M428 228.5h1M430 228.5h3M434 228.5h3M438 228.5h1M440 228.5h1M446 228.5h2M449 228.5h2M455 228.5h1M457 228.5h1M466 228.5h1M468 228.5h1M399 229.5h1M406 229.5h2M410 229.5h1M412 229.5h2M417 229.5h1M419 229.5h2M423 229.5h2M427 229.5h5M433 229.5h3M437 229.5h4M443 229.5h1M445 229.5h2M448 229.5h3M459 229.5h1M468 229.5h1M473 229.5h1M490 229.5h1M405 230.5h1M411 230.5h1M415 230.5h1M417 230.5h5M423 230.5h6M430 230.5h5M438 230.5h3M442 230.5h1M445 230.5h1M452 230.5h1M454 230.5h1M457 230.5h3M462 230.5h1M465 230.5h1M473 230.5h1M406 231.5h1M412 231.5h7M420 231.5h7M428 231.5h3M432 231.5h1M435 231.5h3M443 231.5h1M445 231.5h1M447 231.5h5M453 231.5h1M455 231.5h4M465 231.5h1M392 232.5h1M396 232.5h1M400 232.5h2M411 232.5h1M413 232.5h6M420 232.5h4M425 232.5h1M427 232.5h3M431 232.5h2M439 232.5h1M441 232.5h4M447 232.5h1M449 232.5h2M453 232.5h1M456 232.5h1M458 232.5h4M463 232.5h1M467 232.5h1M469 232.5h1M472 232.5h3M508 232.5h1M410 233.5h3M414 233.5h3M418 233.5h1M420 233.5h1M422 233.5h5M428 233.5h5M436 233.5h2M441 233.5h1M448 233.5h4M453 233.5h1M461 233.5h1M474 233.5h1M397 234.5h1M402 234.5h1M405 234.5h1M414 234.5h1M420 234.5h2M423 234.5h1M425 234.5h6M433 234.5h2M437 234.5h1M440 234.5h2M443 234.5h1M446 234.5h1M448 234.5h1M451 234.5h1M454 234.5h1M457 234.5h2M461 234.5h1M463 234.5h1M398 235.5h1M410 235.5h9M420 235.5h2M423 235.5h2M426 235.5h3M430 235.5h1M436 235.5h5M442 235.5h1M444 235.5h1M448 235.5h1M450 235.5h2M455 235.5h2M461 235.5h1M463 235.5h3M475 235.5h1M392 236.5h1M399 236.5h1M406 236.5h1M410 236.5h1M412 236.5h1M414 236.5h4M427 236.5h1M429 236.5h4M434 236.5h3M439 236.5h1M448 236.5h1M450 236.5h4M456 236.5h1M461 236.5h2M466 236.5h1M468 236.5h1M472 236.5h1M479 236.5h1M405 237.5h1M412 237.5h1M414 237.5h1M417 237.5h1M421 237.5h2M424 237.5h1M426 237.5h1M428 237.5h1M430 237.5h5M436 237.5h1M441 237.5h2M445 237.5h1M447 237.5h1M450 237.5h1M452 237.5h1M455 237.5h1M457 237.5h1M472 237.5h1M478 237.5h1M489 237.5h1M502 237.5h1M411 238.5h3M415 238.5h1M417 238.5h3M421 238.5h1M424 238.5h5M432 238.5h1M434 238.5h2M441 238.5h1M443 238.5h1M450 238.5h2M459 238.5h1M470 238.5h1M396 239.5h1M401 239.5h1M412 239.5h2M416 239.5h1M420 239.5h3M425 239.5h2M431 239.5h1M436 239.5h1M438 239.5h2M449 239.5h2M457 239.5h1M464 239.5h1M467 239.5h1M470 239.5h1M397 240.5h1M405 240.5h1M415 240.5h1M418 240.5h1M422 240.5h2M425 240.5h1M430 240.5h1M432 240.5h1M434 240.5h4M444 240.5h1M447 240.5h2M450 240.5h1M452 240.5h1M464 240.5h1M470 240.5h1M401 241.5h1M404 241.5h1M408 241.5h1M419 241.5h1M421 241.5h4M431 241.5h1M433 241.5h1M435 241.5h1M439 241.5h1M443 241.5h1M448 241.5h1M452 241.5h1M457 241.5h1M460 241.5h1M463 241.5h1M468 241.5h1M471 241.5h1M415 242.5h1M419 242.5h1M425 242.5h1M427 242.5h1M432 242.5h2M437 242.5h3M449 242.5h1M452 242.5h1M454 242.5h2M459 242.5h1M410 243.5h1M416 243.5h1M422 243.5h2M426 243.5h1M428 243.5h1M433 243.5h1M438 243.5h1M440 243.5h1M449 243.5h1M454 243.5h1M462 243.5h1M424 244.5h2M427 244.5h2M438 244.5h1M447 244.5h1M419 245.5h1M437 245.5h1M440 245.5h1M442 245.5h1M460 245.5h1M463 245.5h1M466 245.5h1M403 246.5h1M443 246.5h1M447 246.5h1M419 247.5h1M433 247.5h1M438 247.5h1M445 247.5h1M455 247.5h1M458 247.5h1M475 247.5h1M484 247.5h1M423 248.5h1M426 248.5h1M439 248.5h1M448 248.5h1M451 248.5h1M454 248.5h1M475 248.5h1M487 248.5h1M446 249.5h1M456 249.5h1M423 250.5h1M440 250.5h1M459 250.5h1M505 250.5h1M447 251.5h2M450 251.5h1M456 251.5h1M458 251.5h1M411 252.5h1M421 252.5h1M432 252.5h1M441 252.5h1M473 252.5h1M432 253.5h2M445 253.5h1M476 253.5h1M479 253.5h1M442 254.5h1M447 254.5h1M477 254.5h1M454 255.5h1M464 255.5h1M453 256.5h1M463 256.5h1M478 256.5h1M420 257.5h1M434 257.5h1M412 258.5h1M439 258.5h1M441 258.5h1M454 258.5h1M496 258.5h1M434 259.5h1M456 259.5h1M483 259.5h1M416 260.5h1M429 260.5h1M431 260.5h1M445 260.5h1M430 261.5h1M432 261.5h1M455 261.5h1M476 261.5h1M499 261.5h1M415 262.5h1M422 262.5h1M425 262.5h1M429 262.5h1M466 262.5h1M415 263.5h1M434 263.5h1M464 263.5h1M408 264.5h1M422 264.5h1M440 264.5h1M447 264.5h1M452 264.5h1M454 264.5h3M461 264.5h1M463 264.5h1M466 264.5h1M477 264.5h1M406 265.5h1M415 265.5h1M425 265.5h1M434 265.5h1M448 265.5h1M461 265.5h1M464 265.5h1M469 265.5h1M498 265.5h1M408 266.5h1M410 266.5h2M414 266.5h1M419 266.5h1M421 266.5h1M427 266.5h1M475 266.5h1M411 267.5h1M415 267.5h3M419 267.5h1M421 267.5h2M424 267.5h1M426 267.5h1M430 267.5h1M432 267.5h1M435 267.5h1M437 267.5h1M467 267.5h1M415 268.5h1M417 268.5h4M423 268.5h4M428 268.5h2M434 268.5h1M448 268.5h1M450 268.5h1M452 268.5h2M468 268.5h1M473 268.5h1M408 269.5h1M411 269.5h2M414 269.5h1M417 269.5h1M419 269.5h1M421 269.5h4M426 269.5h1M428 269.5h1M430 269.5h1M435 269.5h1M439 269.5h1M455 269.5h1M414 270.5h3M418 270.5h10M429 270.5h2M434 270.5h1M437 270.5h1M442 270.5h1M459 270.5h1M467 270.5h1M473 270.5h1M409 271.5h1M412 271.5h5M418 271.5h12M431 271.5h3M443 271.5h1M407 272.5h1M410 272.5h3M415 272.5h1M426 272.5h4M432 272.5h1M435 272.5h1M437 272.5h1M451 272.5h1M453 272.5h1M462 272.5h1M464 272.5h1M407 273.5h6M427 273.5h6M443 273.5h1M451 273.5h1M404 274.5h1M406 274.5h2M409 274.5h2M431 274.5h1M433 274.5h1M465 274.5h1M468 274.5h1M472 274.5h1M390 275.5h1M407 275.5h1M435 275.5h1M445 275.5h1M449 275.5h1M469 275.5h1M403 276.5h1M406 276.5h2M431 276.5h1M436 276.5h1M458 276.5h1M498 276.5h1M392 277.5h1M399 277.5h1M406 277.5h2M431 277.5h3M440 277.5h1M461 277.5h1M478 277.5h1M402 278.5h1M405 278.5h1M434 278.5h1M445 278.5h1M379 279.5h1M432 279.5h1M396 280.5h1M402 280.5h1M433 280.5h3M437 280.5h2M448 280.5h1M459 280.5h1M478 280.5h1M481 280.5h1M401 281.5h1M403 281.5h1M435 281.5h1M461 281.5h1M467 281.5h1M469 281.5h1M396 282.5h1M400 282.5h1M402 282.5h3M436 282.5h1M465 282.5h2M396 283.5h1M400 283.5h2M403 283.5h2M433 283.5h2M436 283.5h1M438 283.5h1M450 283.5h1M452 283.5h1M463 283.5h1M400 284.5h3M404 284.5h1M435 284.5h1M438 284.5h2M458 284.5h1M466 284.5h1M469 284.5h1M492 284.5h1M392 285.5h1M404 285.5h1M447 285.5h1M455 285.5h1M397 286.5h1M399 286.5h1M402 286.5h3M435 286.5h1M446 286.5h1M451 286.5h1M463 286.5h1M398 287.5h1M400 287.5h1M402 287.5h3M434 287.5h1M437 287.5h2M477 287.5h1M488 287.5h1M389 288.5h1M393 288.5h1M397 288.5h2M400 288.5h5M396 289.5h1M398 289.5h2M401 289.5h4M438 289.5h1M450 289.5h1M455 289.5h1M486 289.5h1M389 290.5h1M395 290.5h1M398 290.5h2M401 290.5h4M434 290.5h2M463 290.5h1M491 290.5h1M396 291.5h9M433 291.5h2M393 292.5h2M398 292.5h7M433 292.5h2M436 292.5h1M389 293.5h2M396 293.5h1M398 293.5h7M434 293.5h2M454 293.5h1M464 293.5h1M391 294.5h11M403 294.5h2M434 294.5h3M484 294.5h1M392 295.5h1M394 295.5h1M397 295.5h1M399 295.5h6M434 295.5h1M437 295.5h1M392 296.5h1M394 296.5h12M390 297.5h4M395 297.5h11M435 297.5h1M383 298.5h1M388 298.5h1M390 298.5h1M392 298.5h1M394 298.5h4M399 298.5h7M434 298.5h1M438 298.5h1M390 299.5h4M396 299.5h10M433 299.5h2M437 299.5h1M462 299.5h1M467 299.5h1M391 300.5h16M432 300.5h2M391 301.5h16M433 301.5h1M441 301.5h1M444 301.5h1M464 301.5h1M475 301.5h1M389 302.5h2M392 302.5h11M404 302.5h3M432 302.5h1M434 302.5h2M441 302.5h1M384 303.5h1M389 303.5h1M392 303.5h16M433 303.5h1M435 303.5h2M389 304.5h1M392 304.5h16M432 304.5h1M434 304.5h1M440 304.5h1M471 304.5h1M481 304.5h1M388 305.5h5M395 305.5h13M431 305.5h4M437 305.5h1M383 306.5h1M391 306.5h2M394 306.5h15M432 306.5h2M391 307.5h2M394 307.5h1M396 307.5h3M401 307.5h3M405 307.5h4M430 307.5h2M433 307.5h1M450 307.5h1M393 308.5h17M430 308.5h4M435 308.5h2M392 309.5h1M394 309.5h9M404 309.5h6M429 309.5h3M433 309.5h1M390 310.5h2M393 310.5h10M404 310.5h7M429 310.5h5M437 310.5h1" stroke="#2a46fa"/><path d="M417 272.5h9M413 273.5h10M424 273.5h1M426 273.5h1M412 274.5h4M425 274.5h4M412 275.5h2M427 275.5h3M410 276.5h2M428 276.5h3M429 277.5h2M409 278.5h1M430 278.5h2M430 279.5h1M406 280.5h1M432 280.5h1M406 281.5h2M432 282.5h1M405 283.5h2M432 283.5h1M405 284.5h2M405 285.5h2M432 285.5h1M405 286.5h2M432 286.5h1M405 287.5h2M433 287.5h1M405 288.5h1M433 288.5h1M405 289.5h2M433 289.5h1M405 290.5h2M432 290.5h1M405 291.5h2M432 291.5h1M405 292.5h2M405 293.5h2M432 293.5h1M405 294.5h3M431 294.5h2M405 295.5h3M406 296.5h2M431 296.5h2M406 297.5h2M431 297.5h1M406 298.5h1M431 298.5h2M406 299.5h3M431 299.5h1M407 300.5h2M430 300.5h2M407 301.5h2M430 301.5h2M407 302.5h1M409 302.5h1M430 302.5h2M408 303.5h2M429 303.5h2M408 304.5h3M429 304.5h1M408 305.5h3M429 305.5h2M409 306.5h3M428 306.5h3M409 307.5h4M428 307.5h2M410 308.5h3M427 308.5h3M410 309.5h1M412 309.5h2M426 309.5h3M411 310.5h5M426 310.5h3" stroke="#2e6cff"/><path d="M416 274.5h9M414 275.5h4M424 275.5h3M412 276.5h3M426 276.5h2M411 277.5h3M427 277.5h2M411 278.5h1M428 278.5h1M409 279.5h2M429 279.5h1M408 280.5h3M429 280.5h2M408 281.5h2M407 282.5h2M430 282.5h2M407 283.5h2M430 283.5h2M407 284.5h2M430 284.5h2M407 285.5h2M431 285.5h1M407 286.5h2M431 286.5h1M407 287.5h2M408 288.5h1M431 288.5h1M407 289.5h2M431 289.5h1M407 290.5h2M430 290.5h2M407 291.5h2M430 291.5h2M407 292.5h2M430 292.5h2M407 293.5h2M430 293.5h2M408 294.5h2M430 294.5h1M408 295.5h2M430 295.5h1M409 296.5h1M430 296.5h1M408 297.5h2M429 297.5h2M408 298.5h3M429 298.5h2M409 299.5h2M429 299.5h1M409 300.5h2M429 300.5h1M409 301.5h3M428 301.5h2M410 302.5h2M428 302.5h2M410 303.5h3M428 303.5h1M411 304.5h3M427 304.5h2M411 305.5h3M426 305.5h3M412 306.5h3M426 306.5h2M413 307.5h3M425 307.5h3M413 308.5h4M424 308.5h3M414 309.5h2M417 309.5h9M417 310.5h9" stroke="#34a4fb"/><path d="M418 275.5h6M415 276.5h11M414 277.5h3M425 277.5h2M412 278.5h3M426 278.5h2M411 279.5h3M427 279.5h2M411 280.5h2M428 280.5h1M410 281.5h2M428 281.5h2M409 282.5h2M429 282.5h1M409 283.5h2M429 283.5h1M410 284.5h1M429 284.5h1M409 285.5h2M429 285.5h2M409 286.5h1M429 286.5h2M409 287.5h2M429 287.5h1M409 288.5h2M429 288.5h2M409 289.5h1M429 289.5h2M409 290.5h2M429 290.5h1M409 291.5h2M429 291.5h1M409 292.5h2M429 292.5h1M409 293.5h2M429 293.5h1M410 294.5h1M429 294.5h1M410 295.5h2M428 295.5h2M410 296.5h2M428 296.5h2M410 297.5h2M428 297.5h1M411 298.5h2M428 298.5h1M411 299.5h2M427 299.5h2M411 300.5h3M427 300.5h2M412 301.5h2M426 301.5h2M412 302.5h3M426 302.5h2M413 303.5h3M425 303.5h2M414 304.5h3M425 304.5h2M414 305.5h5M423 305.5h3M415 306.5h11M416 307.5h3M420 307.5h5M418 308.5h1M420 308.5h4" stroke="#3cdce8"/><path d="M417 277.5h7M415 278.5h1M417 278.5h1M423 278.5h3M414 279.5h3M425 279.5h2M413 280.5h2M426 280.5h2M412 281.5h2M427 281.5h1M411 282.5h2M427 282.5h2M411 283.5h2M428 283.5h1M411 284.5h1M428 284.5h1M411 285.5h1M428 285.5h1M410 286.5h2M428 286.5h1M411 287.5h1M428 287.5h1M411 288.5h1M428 288.5h1M411 289.5h1M411 290.5h2M428 290.5h1M411 291.5h2M428 291.5h1M411 292.5h2M428 292.5h1M412 293.5h1M427 293.5h2M411 294.5h2M427 294.5h2M412 295.5h2M427 295.5h1M412 296.5h2M427 296.5h1M412 297.5h3M426 297.5h2M413 298.5h2M426 298.5h2M413 299.5h3M425 299.5h2M414 300.5h3M425 300.5h2M414 301.5h4M424 301.5h2M415 302.5h4M423 302.5h3M416 303.5h9M417 304.5h8M419 305.5h4" stroke="#60f69a"/><path d="M419 278.5h4M417 279.5h8M415 280.5h3M424 280.5h2M414 281.5h2M425 281.5h2M413 282.5h2M426 282.5h1M413 283.5h2M426 283.5h2M412 284.5h2M427 284.5h1M412 285.5h2M427 285.5h1M412 286.5h2M427 286.5h1M412 287.5h2M427 287.5h1M412 288.5h2M427 288.5h1M412 289.5h2M427 289.5h1M413 290.5h1M427 290.5h1M413 291.5h2M426 291.5h2M413 292.5h2M426 292.5h2M413 293.5h2M426 293.5h1M413 294.5h2M426 294.5h1M414 295.5h2M425 295.5h1M414 296.5h3M425 296.5h1M415 297.5h2M424 297.5h2M415 298.5h3M424 298.5h2M416 299.5h4M423 299.5h2M417 300.5h8M418 301.5h6M419 302.5h4" stroke="#a8ff48"/><path d="M418 280.5h1M420 280.5h4M416 281.5h2M419 281.5h4M424 281.5h1M415 282.5h3M424 282.5h2M415 283.5h2M424 283.5h2M414 284.5h3M425 284.5h2M414 285.5h2M425 285.5h2M414 286.5h2M425 286.5h2M414 287.5h2M425 287.5h2M414 288.5h2M425 288.5h2M414 289.5h2M425 289.5h2M414 290.5h3M425 290.5h2M415 291.5h2M425 291.5h1M415 292.5h2M424 292.5h2M415 293.5h3M424 293.5h2M415 294.5h4M423 294.5h3M416 295.5h4M422 295.5h3M417 296.5h8M417 297.5h3M421 297.5h3M418 298.5h6M420 299.5h3" stroke="#f4f424"/><path d="M418 282.5h3M422 282.5h2M417 283.5h7M417 284.5h2M423 284.5h2M416 285.5h3M424 285.5h1M416 286.5h2M424 286.5h1M416 287.5h2M424 287.5h1M416 288.5h3M423 288.5h2M416 289.5h3M423 289.5h2M417 290.5h2M423 290.5h1M417 291.5h2M422 291.5h3M417 292.5h7M418 293.5h6M419 294.5h4M420 295.5h2" stroke="#ffa018"/><path d="M419 284.5h4M419 285.5h5M418 286.5h4M423 286.5h1M418 287.5h6M419 288.5h4M419 289.5h4M419 290.5h4M420 291.5h2" stroke="#f03010"/></g>
<g fill="none" stroke-width="1" shape-rendering="crispEdges"><path d="M90 370.5h1M71 371.5h1M70 373.5h1M87 373.5h1M78 374.5h1M86 374.5h1M73 375.5h1M76 375.5h2M80 375.5h1M89 375.5h2M92 375.5h1M62 376.5h2M69 376.5h1M72 376.5h1M77 376.5h1M80 376.5h4M88 376.5h1M90 376.5h2M62 377.5h1M66 377.5h1M73 377.5h1M76 377.5h1M78 377.5h1M80 377.5h2M83 377.5h4M89 377.5h1M91 377.5h2M71 378.5h1M74 378.5h3M79 378.5h1M81 378.5h1M83 378.5h2M87 378.5h1M89 378.5h1M97 378.5h1M63 379.5h1M66 379.5h2M69 379.5h8M80 379.5h6M88 379.5h5M97 379.5h1M63 380.5h2M66 380.5h2M69 380.5h4M75 380.5h8M94 380.5h1M98 380.5h1M62 381.5h1M66 381.5h2M69 381.5h1M71 381.5h1M73 381.5h1M76 381.5h6M93 381.5h2M98 381.5h1M60 382.5h1M63 382.5h1M68 382.5h13M93 382.5h2M60 383.5h1M66 383.5h15M93 383.5h2M96 383.5h1M99 383.5h1M59 384.5h1M63 384.5h2M67 384.5h7M75 384.5h5M96 384.5h1M55 385.5h1M58 385.5h4M65 385.5h1M67 385.5h13M95 385.5h2M59 386.5h3M63 386.5h1M65 386.5h2M68 386.5h12M94 386.5h2M58 387.5h1M61 387.5h19M94 387.5h1M96 387.5h1M63 388.5h2M67 388.5h13M94 388.5h2M97 388.5h1M99 388.5h1M60 389.5h1M62 389.5h1M67 389.5h14M93 389.5h2M96 389.5h1M62 390.5h2M67 390.5h14M94 390.5h2M58 391.5h1M62 391.5h1M64 391.5h18M92 391.5h1M94 391.5h4M99 391.5h1M56 392.5h4M65 392.5h1M69 392.5h15M90 392.5h8M60 393.5h1M66 393.5h2M69 393.5h1M71 393.5h24M96 393.5h2M99 393.5h1M59 394.5h3M63 394.5h2M67 394.5h1M69 394.5h3M73 394.5h20M94 394.5h1M63 395.5h3M67 395.5h1M69 395.5h23M94 395.5h2M97 395.5h3M57 396.5h1M60 396.5h1M65 396.5h7M73 396.5h21M96 396.5h1M98 396.5h1M52 397.5h1M61 397.5h1M66 397.5h1M69 397.5h3M73 397.5h17M91 397.5h4M67 398.5h2M70 398.5h8M79 398.5h4M84 398.5h9M64 399.5h1M68 399.5h6M75 399.5h2M79 399.5h7M87 399.5h1M91 399.5h1M67 400.5h1M73 400.5h2M76 400.5h3M80 400.5h5M86 400.5h3M90 400.5h1M73 401.5h1M75 401.5h2M79 401.5h6M86 401.5h1M95 401.5h1M64 402.5h1M71 402.5h2M74 402.5h1M79 402.5h2M83 402.5h1M85 402.5h1M87 402.5h4M71 403.5h2M74 403.5h1M78 403.5h3M82 403.5h3M87 403.5h1M90 403.5h2M66 404.5h1M71 404.5h3M75 404.5h2M79 404.5h2M84 404.5h2M87 404.5h1M90 404.5h1M95 404.5h1M76 405.5h2M80 405.5h2M83 405.5h1M85 405.5h1M87 405.5h1M89 405.5h1M68 406.5h1M70 406.5h1M74 406.5h1M77 406.5h1M80 406.5h1M83 406.5h1M91 406.5h1M81 407.5h2M85 407.5h2M89 407.5h1M79 408.5h1M87 408.5h1M94 408.5h1M82 409.5h1M84 409.5h7M80 410.5h1M82 410.5h1M85 410.5h1M87 410.5h2M90 410.5h1M92 410.5h1M77 411.5h1M85 411.5h2M91 411.5h1M81 412.5h2M84 412.5h1M87 412.5h2M92 412.5h1M81 413.5h2M84 413.5h1M86 413.5h1M89 413.5h1M91 413.5h1M78 414.5h1M85 414.5h1M88 414.5h1M90 414.5h1M99 414.5h1M78 415.5h1M83 415.5h1M87 415.5h1M89 415.5h1M113 415.5h1M77 416.5h2M81 416.5h4M86 416.5h1M89 416.5h1M96 416.5h2M80 417.5h1M84 417.5h2M87 417.5h1M90 417.5h1M96 417.5h1M80 418.5h1M84 418.5h1M87 418.5h1M85 419.5h1M88 419.5h1M90 419.5h1M81 420.5h1M83 420.5h1M81 421.5h1M85 421.5h3M89 421.5h1M97 421.5h1M79 422.5h1M84 422.5h1M86 422.5h1M92 422.5h1M80 423.5h1M82 423.5h1M85 423.5h1M89 423.5h1M78 424.5h2M82 424.5h1M91 424.5h1M77 425.5h1M85 425.5h2M88 425.5h1M90 425.5h1M77 426.5h1M82 426.5h1M84 426.5h1M88 426.5h1M90 426.5h2M93 426.5h1M95 426.5h1M97 426.5h1M80 427.5h1M83 427.5h3M88 427.5h1M95 427.5h1M84 428.5h2M87 428.5h1M90 428.5h3M94 428.5h1M98 428.5h2M133 428.5h1M78 429.5h1M85 429.5h4M90 429.5h3M95 429.5h1M99 429.5h1M72 430.5h4M78 430.5h1M80 430.5h4M86 430.5h3M90 430.5h9M76 431.5h3M82 431.5h2M85 431.5h10M96 431.5h1M99 431.5h1M103 431.5h1M144 431.5h1M82 432.5h1M85 432.5h12M102 432.5h1M69 433.5h1M73 433.5h1M75 433.5h1M78 433.5h1M80 433.5h2M83 433.5h2M91 433.5h5M97 433.5h3M69 434.5h1M77 434.5h5M94 434.5h5M101 434.5h1M75 435.5h2M79 435.5h1M95 435.5h3M73 436.5h1M76 436.5h1M96 436.5h3M101 436.5h3M73 437.5h4M97 437.5h1M99 437.5h1M104 437.5h1M70 438.5h1M72 438.5h1M74 438.5h2M99 438.5h1M103 438.5h1M69 439.5h1M98 439.5h5M104 439.5h1M62 440.5h1M71 440.5h1M100 440.5h1M106 440.5h2M66 441.5h1M70 441.5h1M99 441.5h1M101 441.5h3M64 442.5h1M69 442.5h1M71 442.5h1M100 442.5h4M109 442.5h1M61 443.5h1M64 443.5h1M69 443.5h2M100 443.5h2M103 443.5h2M63 444.5h1M66 444.5h1M71 444.5h1M100 444.5h2M104 444.5h1M66 445.5h2M71 445.5h1M100 445.5h2M104 445.5h1M54 446.5h1M60 446.5h1M64 446.5h5M70 446.5h1M101 446.5h3M105 446.5h1M64 447.5h1M66 447.5h1M68 447.5h3M101 447.5h1M63 448.5h1M66 448.5h1M68 448.5h4M102 448.5h2M107 448.5h1M65 449.5h7M102 449.5h1M58 450.5h1M61 450.5h4M66 450.5h2M69 450.5h3M101 450.5h1M61 451.5h3M67 451.5h3M71 451.5h1M101 451.5h1M57 452.5h1M66 452.5h6M101 452.5h2M61 453.5h1M64 453.5h1M66 453.5h6M100 453.5h1M102 453.5h1M108 453.5h1M50 454.5h1M62 454.5h1M64 454.5h8M101 454.5h1M103 454.5h3M132 454.5h1M54 455.5h1M63 455.5h1M65 455.5h7M100 455.5h2M104 455.5h1M55 456.5h1M60 456.5h1M62 456.5h4M67 456.5h5M100 456.5h2M49 457.5h1M51 457.5h1M59 457.5h1M62 457.5h10M100 457.5h1M106 457.5h2M55 458.5h1M58 458.5h2M61 458.5h12M101 458.5h2M110 458.5h1M54 459.5h1M57 459.5h4M62 459.5h9M72 459.5h1M100 459.5h1M103 459.5h1M58 460.5h7M66 460.5h7M100 460.5h1M55 461.5h1M61 461.5h11M99 461.5h1M105 461.5h1M55 462.5h2M59 462.5h15M99 462.5h3M103 462.5h1M107 462.5h1M50 463.5h1M53 463.5h1M56 463.5h1M60 463.5h14M99 463.5h2M104 463.5h1M57 464.5h2M60 464.5h14M99 464.5h2M107 464.5h1M57 465.5h1M59 465.5h1M61 465.5h7M69 465.5h1M71 465.5h4M98 465.5h4M116 465.5h1M57 466.5h1M59 466.5h5M65 466.5h3M69 466.5h6M98 466.5h3M102 466.5h1M107 466.5h2M59 467.5h2M62 467.5h13M98 467.5h3M102 467.5h1M105 467.5h1M47 468.5h1M52 468.5h1M57 468.5h1M59 468.5h3M63 468.5h13M97 468.5h5M104 468.5h1M59 469.5h11M71 469.5h5M97 469.5h6M59 470.5h1M62 470.5h15M97 470.5h5M105 470.5h1M52 471.5h1M59 471.5h1M61 471.5h17M97 471.5h4M102 471.5h1M104 471.5h2M107 471.5h1M54 472.5h2M57 472.5h1M59 472.5h2M62 472.5h1M65 472.5h13M96 472.5h9M107 472.5h1" stroke="#2a46fa"/><path d="M86 379.5h2M83 380.5h8M82 381.5h2M85 381.5h1M90 381.5h1M81 382.5h3M91 382.5h2M81 383.5h2M91 383.5h1M80 384.5h2M92 384.5h2M80 385.5h2M92 385.5h2M80 386.5h2M92 386.5h2M80 387.5h2M92 387.5h2M80 388.5h2M92 388.5h2M81 389.5h2M91 389.5h2M81 390.5h3M90 390.5h3M82 391.5h10M84 392.5h6M85 433.5h6M82 434.5h8M91 434.5h2M80 435.5h5M91 435.5h4M78 436.5h2M81 436.5h1M93 436.5h3M78 437.5h2M94 437.5h3M77 438.5h2M95 438.5h3M76 439.5h2M96 439.5h2M74 440.5h3M97 440.5h2M74 441.5h2M98 441.5h1M73 442.5h1M98 442.5h1M72 443.5h3M98 443.5h2M72 444.5h1M99 444.5h1M72 445.5h2M99 445.5h1M72 446.5h2M99 446.5h2M72 447.5h2M99 447.5h2M72 448.5h2M99 448.5h2M72 449.5h2M99 449.5h1M72 450.5h2M99 450.5h2M72 451.5h2M99 451.5h2M72 452.5h2M99 452.5h1M72 453.5h2M72 454.5h2M99 454.5h1M72 455.5h2M99 455.5h1M72 456.5h3M98 456.5h2M72 457.5h3M98 457.5h2M73 458.5h2M98 458.5h2M73 459.5h2M98 459.5h2M73 460.5h3M98 460.5h2M73 461.5h3M98 461.5h1M74 462.5h2M97 462.5h2M74 463.5h3M97 463.5h2M74 464.5h3M97 464.5h2M75 465.5h2M96 465.5h2M75 466.5h3M96 466.5h2M75 467.5h4M96 467.5h2M76 468.5h3M95 468.5h2M77 469.5h3M95 469.5h2M77 470.5h4M94 470.5h3M78 471.5h4M93 471.5h3M78 472.5h5M92 472.5h4" stroke="#2e6cff"/><path d="M86 381.5h2M84 382.5h6M83 383.5h7M82 384.5h3M89 384.5h3M82 385.5h2M90 385.5h2M82 386.5h2M90 386.5h2M82 387.5h2M90 387.5h2M82 388.5h3M89 388.5h3M83 389.5h8M84 390.5h6M85 435.5h6M82 436.5h11M80 437.5h4M91 437.5h3M79 438.5h3M93 438.5h2M78 439.5h2M95 439.5h1M77 440.5h2M95 440.5h2M76 441.5h2M96 441.5h2M75 442.5h2M96 442.5h2M75 443.5h1M97 443.5h1M74 444.5h2M97 444.5h2M74 445.5h2M97 445.5h2M74 446.5h2M74 447.5h2M98 447.5h1M74 448.5h2M98 448.5h1M74 449.5h2M98 449.5h1M74 450.5h2M98 450.5h1M74 451.5h2M97 451.5h2M74 452.5h2M97 452.5h2M74 453.5h2M97 453.5h2M74 454.5h2M97 454.5h2M74 455.5h2M97 455.5h2M75 456.5h2M97 456.5h1M75 457.5h2M75 458.5h2M97 458.5h1M75 459.5h2M96 459.5h2M76 460.5h2M96 460.5h2M76 461.5h2M96 461.5h2M76 462.5h3M96 462.5h1M77 463.5h2M95 463.5h2M77 464.5h3M96 464.5h1M77 465.5h3M94 465.5h2M78 466.5h3M94 466.5h2M79 467.5h3M93 467.5h3M79 468.5h4M93 468.5h2M80 469.5h4M92 469.5h3M81 470.5h5M90 470.5h4M82 471.5h6M89 471.5h4M83 472.5h3M87 472.5h5" stroke="#34a4fb"/><path d="M85 384.5h4M84 385.5h6M84 386.5h6M84 387.5h6M85 388.5h4M84 437.5h2M87 437.5h2M90 437.5h1M82 438.5h5M89 438.5h4M80 439.5h3M92 439.5h2M79 440.5h3M93 440.5h2M78 441.5h2M94 441.5h2M77 442.5h2M95 442.5h1M77 443.5h2M95 443.5h2M76 444.5h2M96 444.5h1M76 445.5h2M96 445.5h1M76 446.5h2M96 446.5h2M76 447.5h1M96 447.5h2M76 448.5h1M96 448.5h2M76 449.5h2M96 449.5h2M76 450.5h2M96 450.5h2M76 451.5h2M96 451.5h1M76 452.5h2M96 452.5h1M76 453.5h1M96 453.5h1M76 454.5h2M96 454.5h1M76 455.5h2M96 455.5h1M77 456.5h2M96 456.5h1M77 457.5h2M95 457.5h2M77 458.5h2M95 458.5h2M77 459.5h3M95 459.5h1M78 460.5h2M95 460.5h1M78 461.5h2M94 461.5h2M79 462.5h2M94 462.5h2M79 463.5h3M93 463.5h2M80 464.5h2M93 464.5h2M80 465.5h3M93 465.5h1M81 466.5h4M91 466.5h3M82 467.5h5M90 467.5h3M84 468.5h9M84 469.5h6M91 469.5h1M86 470.5h4" stroke="#3cdce8"/><path d="M87 438.5h2M84 439.5h8M83 440.5h2M91 440.5h2M80 441.5h3M92 441.5h2M79 442.5h3M93 442.5h2M79 443.5h2M94 443.5h1M78 444.5h2M94 444.5h2M78 445.5h2M95 445.5h1M78 446.5h1M77 447.5h2M95 447.5h1M77 448.5h2M95 448.5h1M78 449.5h1M95 449.5h1M78 450.5h1M95 450.5h1M78 451.5h1M95 451.5h1M78 452.5h2M95 452.5h1M78 453.5h2M95 453.5h1M78 454.5h2M95 454.5h1M78 455.5h2M94 455.5h2M79 456.5h2M94 456.5h2M79 457.5h2M94 457.5h1M79 458.5h2M94 458.5h1M80 459.5h2M93 459.5h2M80 460.5h2M93 460.5h2M80 461.5h3M92 461.5h2M81 462.5h3M92 462.5h2M82 463.5h1M84 463.5h1M91 463.5h1M82 464.5h5M89 464.5h1M91 464.5h2M83 465.5h9M85 466.5h4M90 466.5h1M87 467.5h2" stroke="#60f69a"/><path d="M85 440.5h3M89 440.5h1M83 441.5h5M89 441.5h3M82 442.5h2M91 442.5h2M81 443.5h2M92 443.5h2M80 444.5h2M93 444.5h1M80 445.5h2M93 445.5h2M79 446.5h2M94 446.5h1M79 447.5h1M94 447.5h1M79 448.5h2M94 448.5h1M79 449.5h2M94 449.5h1M79 450.5h2M94 450.5h1M79 451.5h2M94 451.5h1M80 452.5h1M93 452.5h2M80 453.5h2M93 453.5h2M80 454.5h2M93 454.5h2M80 455.5h2M93 455.5h1M81 456.5h2M93 456.5h1M81 457.5h2M92 457.5h1M81 458.5h3M92 458.5h2M82 459.5h3M91 459.5h2M82 460.5h4M90 460.5h3M83 461.5h9M84 462.5h4M89 462.5h3M85 463.5h5M87 464.5h2" stroke="#a8ff48"/><path d="M88 441.5h1M84 442.5h7M83 443.5h4M89 443.5h3M82 444.5h3M91 444.5h2M82 445.5h2M92 445.5h1M81 446.5h2M92 446.5h2M81 447.5h2M92 447.5h2M81 448.5h2M92 448.5h2M81 449.5h2M92 449.5h2M81 450.5h2M92 450.5h2M81 451.5h2M93 451.5h1M81 452.5h3M92 452.5h1M82 453.5h2M92 453.5h1M82 454.5h3M91 454.5h2M82 455.5h3M91 455.5h2M83 456.5h3M90 456.5h3M83 457.5h5M89 457.5h3M84 458.5h6M91 458.5h1M85 459.5h6M86 460.5h4" stroke="#f4f424"/><path d="M87 443.5h2M85 444.5h6M84 445.5h3M89 445.5h3M84 446.5h2M91 446.5h1M83 447.5h2M91 447.5h1M83 448.5h1M91 448.5h1M83 449.5h2M91 449.5h1M83 450.5h3M90 450.5h2M83 451.5h3M90 451.5h2M84 452.5h3M90 452.5h2M84 453.5h4M89 453.5h3M85 454.5h6M85 455.5h6M86 456.5h1M88 456.5h2M88 457.5h1" stroke="#ffa018"/><path d="M87 445.5h2M86 446.5h4M85 447.5h6M85 448.5h6M85 449.5h6M86 450.5h4M86 451.5h3M87 452.5h3M88 453.5h1" stroke="#f03010"/></g>
<g fill="none" stroke-width="1" shape-rendering="crispEdges"><path d="M222 354.5h1M300 368.5h1M264 375.5h1M263 376.5h1M247 377.5h1M253 377.5h1M257 377.5h1M258 378.5h1M253 379.5h1M249 380.5h1M251 380.5h1M263 380.5h1M266 380.5h1M250 382.5h1M255 382.5h1M253 383.5h1M256 383.5h1M259 383.5h1M246 384.5h1M250 384.5h1M256 384.5h1M267 384.5h1M252 385.5h1M256 385.5h1M246 386.5h2M252 386.5h1M256 386.5h1M258 386.5h1M260 386.5h1M262 386.5h1M246 387.5h1M256 387.5h1M261 387.5h1M329 387.5h1M254 388.5h1M258 388.5h2M261 388.5h2M249 389.5h1M251 389.5h1M254 389.5h2M260 389.5h1M252 390.5h1M256 390.5h1M259 390.5h1M261 390.5h1M267 390.5h1M280 390.5h1M286 390.5h1M292 390.5h1M297 390.5h1M309 390.5h1M250 391.5h2M253 391.5h1M255 391.5h2M258 391.5h1M260 391.5h2M269 391.5h1M308 391.5h1M313 391.5h1M250 392.5h2M253 392.5h2M258 392.5h3M262 392.5h1M264 392.5h1M294 392.5h1M297 392.5h1M299 392.5h1M303 392.5h2M257 393.5h1M260 393.5h1M267 393.5h1M288 393.5h1M294 393.5h1M305 393.5h1M256 394.5h2M265 394.5h1M285 394.5h1M292 394.5h1M295 394.5h1M304 394.5h1M318 394.5h1M247 395.5h1M249 395.5h1M251 395.5h1M253 395.5h1M255 395.5h2M259 395.5h1M261 395.5h1M264 395.5h1M291 395.5h1M249 396.5h2M255 396.5h2M262 396.5h1M289 396.5h1M303 396.5h1M305 396.5h1M308 396.5h1M312 396.5h1M247 397.5h1M259 397.5h1M261 397.5h1M265 397.5h1M305 397.5h1M307 397.5h1M311 397.5h1M314 397.5h1M316 397.5h1M258 398.5h2M264 398.5h1M272 398.5h1M276 398.5h1M284 398.5h1M291 398.5h1M300 398.5h2M305 398.5h1M313 398.5h1M317 398.5h1M245 399.5h1M250 399.5h1M253 399.5h2M256 399.5h1M261 399.5h1M264 399.5h1M270 399.5h1M275 399.5h1M280 399.5h1M285 399.5h1M287 399.5h1M294 399.5h5M300 399.5h1M307 399.5h1M309 399.5h1M312 399.5h1M318 399.5h1M321 399.5h1M251 400.5h1M254 400.5h1M277 400.5h1M279 400.5h1M289 400.5h2M292 400.5h1M296 400.5h1M298 400.5h1M305 400.5h1M307 400.5h2M311 400.5h1M313 400.5h2M316 400.5h2M320 400.5h2M256 401.5h1M258 401.5h3M274 401.5h1M284 401.5h1M286 401.5h1M288 401.5h1M290 401.5h1M292 401.5h1M294 401.5h1M298 401.5h1M300 401.5h1M302 401.5h1M304 401.5h3M309 401.5h2M315 401.5h1M252 402.5h1M254 402.5h1M258 402.5h1M289 402.5h2M292 402.5h5M300 402.5h2M305 402.5h3M309 402.5h1M312 402.5h2M315 402.5h1M317 402.5h1M320 402.5h1M269 403.5h1M274 403.5h1M279 403.5h1M281 403.5h2M288 403.5h1M290 403.5h4M296 403.5h4M304 403.5h2M314 403.5h1M319 403.5h1M248 404.5h1M252 404.5h1M256 404.5h1M285 404.5h1M287 404.5h1M289 404.5h7M299 404.5h2M302 404.5h8M311 404.5h2M315 404.5h2M259 405.5h1M266 405.5h1M272 405.5h1M274 405.5h2M279 405.5h1M281 405.5h1M285 405.5h1M287 405.5h1M289 405.5h1M291 405.5h1M293 405.5h1M295 405.5h4M303 405.5h2M306 405.5h3M311 405.5h4M316 405.5h2M319 405.5h2M326 405.5h1M330 405.5h1M253 406.5h1M257 406.5h2M268 406.5h1M270 406.5h1M276 406.5h1M282 406.5h1M284 406.5h1M289 406.5h4M294 406.5h4M300 406.5h1M303 406.5h2M306 406.5h2M309 406.5h1M311 406.5h1M313 406.5h1M318 406.5h1M320 406.5h2M327 406.5h1M255 407.5h1M257 407.5h1M259 407.5h1M264 407.5h1M282 407.5h1M287 407.5h3M291 407.5h2M294 407.5h2M297 407.5h14M316 407.5h1M319 407.5h2M323 407.5h1M269 408.5h1M272 408.5h2M283 408.5h2M286 408.5h1M288 408.5h10M300 408.5h5M306 408.5h2M309 408.5h2M312 408.5h1M316 408.5h1M321 408.5h1M330 408.5h3M273 409.5h1M278 409.5h2M282 409.5h1M286 409.5h1M288 409.5h3M292 409.5h3M296 409.5h19M316 409.5h1M322 409.5h1M331 409.5h1M337 409.5h1M262 410.5h1M267 410.5h2M270 410.5h1M273 410.5h1M276 410.5h1M285 410.5h4M290 410.5h1M292 410.5h9M302 410.5h6M310 410.5h2M313 410.5h8M255 411.5h1M271 411.5h1M277 411.5h4M283 411.5h1M286 411.5h2M291 411.5h17M309 411.5h2M312 411.5h5M318 411.5h1M320 411.5h1M323 411.5h1M330 411.5h1M248 412.5h1M265 412.5h1M269 412.5h1M276 412.5h1M279 412.5h2M283 412.5h7M291 412.5h25M317 412.5h5M323 412.5h2M253 413.5h1M266 413.5h1M272 413.5h2M275 413.5h1M278 413.5h1M282 413.5h1M284 413.5h1M286 413.5h1M288 413.5h1M290 413.5h7M298 413.5h18M317 413.5h3M327 413.5h1M259 414.5h1M265 414.5h1M279 414.5h1M281 414.5h1M283 414.5h1M286 414.5h1M288 414.5h1M290 414.5h1M292 414.5h1M294 414.5h10M305 414.5h4M310 414.5h1M312 414.5h3M324 414.5h2M338 414.5h1M250 415.5h1M258 415.5h1M261 415.5h1M266 415.5h1M275 415.5h1M278 415.5h1M280 415.5h4M287 415.5h7M295 415.5h18M314 415.5h2M317 415.5h1M319 415.5h4M327 415.5h1M330 415.5h1M332 415.5h1M257 416.5h1M265 416.5h1M269 416.5h1M274 416.5h3M278 416.5h1M281 416.5h1M284 416.5h5M290 416.5h2M293 416.5h4M298 416.5h4M304 416.5h9M314 416.5h2M317 416.5h1M326 416.5h2M269 417.5h1M275 417.5h1M278 417.5h5M284 417.5h2M287 417.5h20M308 417.5h9M319 417.5h3M250 418.5h1M258 418.5h1M261 418.5h1M267 418.5h1M271 418.5h1M279 418.5h5M285 418.5h13M299 418.5h6M306 418.5h3M310 418.5h1M312 418.5h3M316 418.5h3M323 418.5h1M326 418.5h1M328 418.5h1M256 419.5h1M262 419.5h1M265 419.5h1M267 419.5h1M274 419.5h1M277 419.5h1M279 419.5h1M281 419.5h2M284 419.5h3M289 419.5h3M293 419.5h3M297 419.5h19M317 419.5h3M321 419.5h1M323 419.5h1M247 420.5h1M264 420.5h3M271 420.5h2M274 420.5h1M278 420.5h4M283 420.5h2M286 420.5h26M313 420.5h1M316 420.5h5M323 420.5h1M329 420.5h1M331 420.5h1M255 421.5h1M260 421.5h2M277 421.5h3M282 421.5h4M287 421.5h4M292 421.5h24M318 421.5h2M321 421.5h3M326 421.5h1M330 421.5h1M237 422.5h1M266 422.5h1M268 422.5h4M273 422.5h1M277 422.5h1M279 422.5h2M282 422.5h3M286 422.5h3M291 422.5h6M298 422.5h18M317 422.5h1M319 422.5h3M324 422.5h1M328 422.5h1M224 423.5h1M252 423.5h1M255 423.5h1M257 423.5h1M260 423.5h2M267 423.5h1M280 423.5h1M283 423.5h1M285 423.5h1M288 423.5h8M297 423.5h9M307 423.5h1M309 423.5h4M315 423.5h3M319 423.5h1M321 423.5h1M329 423.5h1M232 424.5h1M249 424.5h2M253 424.5h1M255 424.5h1M262 424.5h2M266 424.5h1M269 424.5h3M273 424.5h2M277 424.5h7M285 424.5h1M287 424.5h2M291 424.5h23M316 424.5h1M318 424.5h2M321 424.5h2M326 424.5h2M234 425.5h1M242 425.5h1M244 425.5h1M255 425.5h1M258 425.5h1M263 425.5h1M270 425.5h1M273 425.5h2M277 425.5h1M281 425.5h2M284 425.5h1M286 425.5h7M294 425.5h11M306 425.5h12M320 425.5h1M325 425.5h1M240 426.5h1M243 426.5h1M245 426.5h1M249 426.5h1M256 426.5h1M258 426.5h1M261 426.5h1M264 426.5h1M269 426.5h2M273 426.5h2M279 426.5h2M282 426.5h2M285 426.5h8M294 426.5h15M310 426.5h3M314 426.5h4M320 426.5h1M325 426.5h1M232 427.5h2M238 427.5h1M247 427.5h1M250 427.5h1M254 427.5h1M258 427.5h2M262 427.5h3M267 427.5h1M269 427.5h2M275 427.5h1M277 427.5h3M281 427.5h1M284 427.5h1M286 427.5h6M293 427.5h15M309 427.5h6M317 427.5h2M324 427.5h2M226 428.5h1M241 428.5h1M245 428.5h1M247 428.5h1M255 428.5h1M258 428.5h1M261 428.5h1M263 428.5h1M265 428.5h3M269 428.5h4M275 428.5h1M280 428.5h4M287 428.5h1M289 428.5h3M295 428.5h13M309 428.5h5M316 428.5h1M318 428.5h1M320 428.5h1M323 428.5h1M235 429.5h1M237 429.5h1M243 429.5h1M246 429.5h1M249 429.5h1M252 429.5h1M258 429.5h4M264 429.5h4M269 429.5h2M273 429.5h1M275 429.5h1M278 429.5h1M280 429.5h2M283 429.5h1M286 429.5h2M289 429.5h3M293 429.5h1M295 429.5h1M297 429.5h2M301 429.5h8M310 429.5h1M312 429.5h1M316 429.5h2M320 429.5h1M323 429.5h1M326 429.5h2M332 429.5h1M232 430.5h1M241 430.5h2M244 430.5h2M247 430.5h1M251 430.5h16M269 430.5h2M272 430.5h3M276 430.5h1M279 430.5h1M285 430.5h23M309 430.5h1M311 430.5h5M319 430.5h2M322 430.5h3M237 431.5h1M240 431.5h1M242 431.5h1M244 431.5h4M249 431.5h1M251 431.5h1M253 431.5h3M257 431.5h2M260 431.5h1M262 431.5h2M267 431.5h1M269 431.5h1M272 431.5h1M275 431.5h1M277 431.5h2M282 431.5h3M287 431.5h1M289 431.5h2M292 431.5h8M301 431.5h5M307 431.5h7M316 431.5h2M321 431.5h1M325 431.5h1M223 432.5h1M239 432.5h1M241 432.5h1M246 432.5h4M251 432.5h3M255 432.5h7M264 432.5h9M274 432.5h3M280 432.5h2M283 432.5h1M286 432.5h2M289 432.5h2M292 432.5h4M298 432.5h12M312 432.5h2M316 432.5h1M318 432.5h1M229 433.5h1M232 433.5h1M241 433.5h2M244 433.5h1M246 433.5h3M251 433.5h3M255 433.5h9M265 433.5h3M269 433.5h1M271 433.5h1M275 433.5h3M280 433.5h2M283 433.5h4M288 433.5h2M291 433.5h2M294 433.5h5M300 433.5h13M314 433.5h1M316 433.5h4M324 433.5h1M326 433.5h2M224 434.5h1M241 434.5h3M245 434.5h1M247 434.5h1M249 434.5h3M261 434.5h6M268 434.5h10M279 434.5h3M284 434.5h2M288 434.5h12M301 434.5h3M309 434.5h1M312 434.5h3M317 434.5h2M321 434.5h1M232 435.5h1M236 435.5h1M238 435.5h1M241 435.5h2M244 435.5h1M246 435.5h2M263 435.5h6M272 435.5h2M275 435.5h1M277 435.5h1M280 435.5h1M283 435.5h6M290 435.5h3M295 435.5h2M300 435.5h1M302 435.5h2M305 435.5h5M313 435.5h4M328 435.5h1M330 435.5h1M235 436.5h3M245 436.5h3M265 436.5h2M268 436.5h1M270 436.5h1M273 436.5h1M278 436.5h1M283 436.5h2M287 436.5h1M289 436.5h2M294 436.5h1M296 436.5h3M300 436.5h3M306 436.5h4M311 436.5h3M315 436.5h1M318 436.5h1M323 436.5h1M226 437.5h1M237 437.5h1M239 437.5h1M241 437.5h2M244 437.5h1M266 437.5h2M270 437.5h2M276 437.5h1M282 437.5h2M289 437.5h1M292 437.5h1M295 437.5h1M298 437.5h2M302 437.5h5M308 437.5h1M310 437.5h2M313 437.5h3M319 437.5h1M327 437.5h1M238 438.5h3M242 438.5h1M244 438.5h1M267 438.5h2M270 438.5h1M272 438.5h2M276 438.5h1M281 438.5h2M284 438.5h2M287 438.5h7M295 438.5h3M299 438.5h2M303 438.5h4M313 438.5h1M317 438.5h1M319 438.5h1M322 438.5h1M326 438.5h1M231 439.5h1M234 439.5h1M236 439.5h2M240 439.5h2M267 439.5h2M270 439.5h4M276 439.5h1M282 439.5h1M284 439.5h1M287 439.5h1M291 439.5h2M296 439.5h6M303 439.5h6M321 439.5h1M233 440.5h1M236 440.5h1M239 440.5h1M241 440.5h1M268 440.5h4M273 440.5h1M276 440.5h1M285 440.5h1M287 440.5h1M289 440.5h2M294 440.5h3M299 440.5h1M303 440.5h1M312 440.5h1M318 440.5h1M226 441.5h1M233 441.5h1M235 441.5h1M238 441.5h1M268 441.5h3M272 441.5h1M275 441.5h3M279 441.5h1M289 441.5h1M291 441.5h2M294 441.5h2M297 441.5h1M306 441.5h1M309 441.5h1M314 441.5h2M329 441.5h1M221 442.5h1M228 442.5h1M230 442.5h1M234 442.5h2M238 442.5h2M241 442.5h1M269 442.5h2M272 442.5h1M275 442.5h3M281 442.5h1M284 442.5h1M287 442.5h1M290 442.5h1M293 442.5h1M295 442.5h3M302 442.5h1M304 442.5h1M308 442.5h1M310 442.5h1M312 442.5h1M323 442.5h1M224 443.5h1M229 443.5h3M234 443.5h1M237 443.5h1M240 443.5h2M269 443.5h1M272 443.5h1M275 443.5h1M278 443.5h1M281 443.5h1M284 443.5h2M289 443.5h1M294 443.5h2M299 443.5h1M301 443.5h2M304 443.5h1M306 443.5h1M309 443.5h1M313 443.5h1M218 444.5h1M226 444.5h2M229 444.5h1M232 444.5h2M236 444.5h2M239 444.5h2M269 444.5h3M276 444.5h1M294 444.5h2M299 444.5h2M305 444.5h1M307 444.5h1M325 444.5h1M223 445.5h1M231 445.5h1M235 445.5h2M240 445.5h1M269 445.5h1M272 445.5h2M276 445.5h1M280 445.5h1M282 445.5h1M289 445.5h1M296 445.5h1M300 445.5h3M304 445.5h1M310 445.5h1M315 445.5h1M318 445.5h1M323 445.5h1M230 446.5h1M234 446.5h1M237 446.5h2M240 446.5h1M269 446.5h3M273 446.5h1M285 446.5h1M293 446.5h1M307 446.5h2M218 447.5h1M226 447.5h1M228 447.5h1M238 447.5h2M270 447.5h2M276 447.5h1M278 447.5h1M285 447.5h1M289 447.5h1M295 447.5h1M298 447.5h1M307 447.5h1M309 447.5h1M342 447.5h1M218 448.5h1M226 448.5h1M228 448.5h1M236 448.5h2M239 448.5h2M270 448.5h1M272 448.5h1M303 448.5h1M315 448.5h1M228 449.5h1M232 449.5h1M234 449.5h2M237 449.5h4M272 449.5h1M278 449.5h1M218 450.5h1M224 450.5h1M226 450.5h3M231 450.5h2M235 450.5h6M271 450.5h1M273 450.5h1M285 450.5h1M292 450.5h1M298 450.5h2M306 450.5h1M321 450.5h1M223 451.5h1M225 451.5h1M227 451.5h1M229 451.5h2M233 451.5h1M237 451.5h4M271 451.5h2M277 451.5h1M288 451.5h1M297 451.5h1M304 451.5h1M234 452.5h7M269 452.5h1M271 452.5h4M276 452.5h1M286 452.5h1M294 452.5h1M319 452.5h1M224 453.5h1M227 453.5h2M231 453.5h1M234 453.5h7M270 453.5h1M291 453.5h1M307 453.5h1M309 453.5h1M226 454.5h1M228 454.5h2M231 454.5h2M235 454.5h6M269 454.5h1M274 454.5h1M285 454.5h1M295 454.5h1M323 454.5h1M216 455.5h1M222 455.5h1M228 455.5h3M235 455.5h6M269 455.5h2M272 455.5h1M275 455.5h1M288 455.5h1M221 456.5h1M226 456.5h2M229 456.5h5M235 456.5h6M269 456.5h1M271 456.5h2M319 456.5h1M229 457.5h12M273 457.5h1M285 457.5h1M326 457.5h1M215 458.5h1M227 458.5h2M230 458.5h12M269 458.5h1M279 458.5h1M307 458.5h1M227 459.5h1M229 459.5h5M235 459.5h3M239 459.5h3M269 459.5h3M273 459.5h1M219 460.5h1M225 460.5h2M228 460.5h14M269 460.5h2M274 460.5h1M302 460.5h1M224 461.5h1M228 461.5h4M233 461.5h7M268 461.5h3M273 461.5h1M275 461.5h1M216 462.5h1M223 462.5h1M226 462.5h1M228 462.5h14M268 462.5h6M224 463.5h4M229 463.5h1M231 463.5h12M268 463.5h2M271 463.5h2M274 463.5h1M218 464.5h1M222 464.5h1M224 464.5h1M229 464.5h14M270 464.5h2M273 464.5h1M215 465.5h1M221 465.5h1M225 465.5h5M231 465.5h5M237 465.5h6M268 465.5h2M218 466.5h1M226 466.5h11M238 466.5h6M267 466.5h3M271 466.5h3M217 467.5h1M220 467.5h2M224 467.5h1M229 467.5h15M267 467.5h3M271 467.5h1M227 468.5h1M229 468.5h2M232 468.5h13M267 468.5h3M272 468.5h1M278 468.5h1M216 469.5h1M223 469.5h1M227 469.5h1M229 469.5h15M266 469.5h4M271 469.5h1M227 470.5h15M243 470.5h1M245 470.5h1M266 470.5h4M272 470.5h1M218 471.5h2M224 471.5h1M227 471.5h1M230 471.5h16M265 471.5h8M217 472.5h1M222 472.5h3M229 472.5h2M232 472.5h15M265 472.5h2M268 472.5h2M273 472.5h1M295 472.5h1" stroke="#2a46fa"/><path d="M252 434.5h9M249 435.5h14M248 436.5h4M261 436.5h3M246 437.5h4M263 437.5h3M246 438.5h2M264 438.5h2M244 439.5h2M265 439.5h2M243 440.5h3M266 440.5h2M243 441.5h2M266 441.5h2M244 442.5h1M267 442.5h2M242 443.5h2M267 443.5h2M243 444.5h1M267 444.5h2M241 445.5h1M268 445.5h1M241 446.5h2M268 446.5h1M241 447.5h2M268 447.5h2M241 448.5h2M268 448.5h2M241 449.5h2M268 449.5h2M241 450.5h2M268 450.5h1M241 451.5h2M268 451.5h2M241 452.5h2M268 452.5h1M241 453.5h2M268 453.5h1M241 454.5h2M268 454.5h1M241 455.5h2M268 455.5h1M241 456.5h2M267 456.5h2M241 457.5h3M267 457.5h2M242 458.5h2M267 458.5h2M242 459.5h2M267 459.5h2M242 460.5h2M267 460.5h2M242 461.5h3M267 461.5h1M242 462.5h3M266 462.5h2M243 463.5h2M266 463.5h2M243 464.5h3M266 464.5h1M243 465.5h3M266 465.5h2M244 466.5h3M265 466.5h2M244 467.5h3M265 467.5h2M245 468.5h3M264 468.5h3M245 469.5h4M264 469.5h2M246 470.5h3M263 470.5h3M246 471.5h4M264 471.5h1M247 472.5h4M262 472.5h1M264 472.5h1" stroke="#2e6cff"/><path d="M252 436.5h2M255 436.5h6M250 437.5h6M259 437.5h4M248 438.5h4M261 438.5h3M247 439.5h3M263 439.5h2M246 440.5h3M264 440.5h2M245 441.5h3M265 441.5h1M245 442.5h2M265 442.5h2M244 443.5h2M244 444.5h2M266 444.5h1M243 445.5h1M266 445.5h2M243 446.5h2M266 446.5h2M243 447.5h2M267 447.5h1M243 448.5h2M267 448.5h1M243 449.5h2M267 449.5h1M243 450.5h2M267 450.5h1M243 451.5h2M267 451.5h1M243 452.5h2M266 452.5h2M244 453.5h1M266 453.5h2M243 454.5h2M266 454.5h2M243 455.5h2M266 455.5h2M243 456.5h2M266 456.5h1M244 457.5h2M266 457.5h1M244 458.5h2M266 458.5h1M244 459.5h2M265 459.5h2M244 460.5h3M265 460.5h2M245 461.5h2M265 461.5h2M245 462.5h2M265 462.5h1M245 463.5h3M264 463.5h2M246 464.5h2M264 464.5h2M246 465.5h3M264 465.5h2M247 466.5h2M263 466.5h1M247 467.5h3M263 467.5h1M248 468.5h3M262 468.5h2M249 469.5h3M261 469.5h3M249 470.5h5M260 470.5h3M250 471.5h7M258 471.5h5M251 472.5h11" stroke="#34a4fb"/><path d="M256 437.5h3M252 438.5h9M250 439.5h4M260 439.5h3M249 440.5h2M262 440.5h2M248 441.5h2M263 441.5h2M247 442.5h1M264 442.5h1M246 443.5h2M264 443.5h2M246 444.5h1M265 444.5h1M246 445.5h1M265 445.5h1M245 446.5h2M265 446.5h1M245 447.5h2M265 447.5h2M245 448.5h1M265 448.5h2M245 449.5h1M265 449.5h2M245 450.5h2M265 450.5h2M245 451.5h2M265 451.5h2M246 452.5h1M265 452.5h1M245 453.5h2M265 453.5h1M245 454.5h2M265 454.5h1M245 455.5h2M265 455.5h1M246 456.5h1M265 456.5h1M246 457.5h2M264 457.5h2M246 458.5h2M264 458.5h2M246 459.5h2M264 459.5h1M248 460.5h1M264 460.5h1M247 461.5h2M264 461.5h1M247 462.5h3M263 462.5h2M248 463.5h2M263 463.5h1M248 464.5h3M262 464.5h2M249 465.5h3M261 465.5h3M249 466.5h4M261 466.5h2M250 467.5h4M261 467.5h2M251 468.5h11M252 469.5h1M254 469.5h3M258 469.5h3M254 470.5h6M257 471.5h1" stroke="#3cdce8"/><path d="M254 439.5h6M251 440.5h2M254 440.5h3M258 440.5h3M250 441.5h3M261 441.5h2M249 442.5h2M262 442.5h2M248 443.5h2M263 443.5h1M247 444.5h2M263 444.5h2M247 445.5h2M264 445.5h1M247 446.5h2M264 446.5h1M247 447.5h1M264 447.5h1M246 448.5h2M264 448.5h1M246 449.5h2M264 449.5h1M247 450.5h1M264 450.5h1M247 451.5h1M264 451.5h1M247 452.5h2M247 453.5h2M264 453.5h1M247 454.5h2M247 455.5h2M263 455.5h2M247 456.5h2M263 456.5h1M248 457.5h2M263 457.5h1M248 458.5h2M263 458.5h1M248 459.5h3M262 459.5h2M249 460.5h2M262 460.5h2M249 461.5h3M262 461.5h1M250 462.5h2M261 462.5h2M251 463.5h2M260 463.5h3M251 464.5h4M259 464.5h3M252 465.5h9M253 466.5h8M254 467.5h6" stroke="#60f69a"/><path d="M257 440.5h1M253 441.5h8M251 442.5h2M254 442.5h1M259 442.5h3M250 443.5h3M261 443.5h1M249 444.5h1M251 444.5h1M262 444.5h1M249 445.5h2M263 445.5h1M249 446.5h1M263 446.5h1M248 447.5h2M248 448.5h2M263 448.5h1M248 449.5h2M263 449.5h1M248 450.5h2M263 450.5h1M248 451.5h2M263 451.5h1M249 452.5h1M263 452.5h1M249 453.5h1M262 453.5h2M249 454.5h2M262 454.5h2M249 455.5h2M262 455.5h1M249 456.5h2M262 456.5h1M250 457.5h2M261 457.5h2M250 458.5h2M261 458.5h2M251 459.5h2M261 459.5h1M251 460.5h3M260 460.5h2M252 461.5h3M259 461.5h3M252 462.5h9M253 463.5h7M255 464.5h4" stroke="#a8ff48"/><path d="M255 442.5h4M253 443.5h8M252 444.5h3M259 444.5h3M251 445.5h2M260 445.5h2M250 446.5h3M261 446.5h2M250 447.5h2M261 447.5h1M250 448.5h2M261 448.5h2M250 449.5h2M261 449.5h2M250 450.5h2M261 450.5h2M250 451.5h2M261 451.5h2M250 452.5h3M261 452.5h2M250 453.5h3M261 453.5h1M251 454.5h2M260 454.5h1M251 455.5h3M260 455.5h2M251 456.5h4M259 456.5h3M252 457.5h2M255 457.5h1M259 457.5h2M252 458.5h5M258 458.5h3M253 459.5h4M258 459.5h3M254 460.5h6M255 461.5h4" stroke="#f4f424"/><path d="M255 444.5h4M253 445.5h7M253 446.5h2M259 446.5h2M252 447.5h3M259 447.5h2M252 448.5h2M260 448.5h1M252 449.5h2M260 449.5h1M252 450.5h3M259 450.5h2M253 451.5h2M259 451.5h2M253 452.5h2M259 452.5h2M253 453.5h3M258 453.5h3M253 454.5h7M254 455.5h6M255 456.5h4M256 457.5h3" stroke="#ffa018"/><path d="M255 446.5h4M255 447.5h4M254 448.5h3M258 448.5h2M254 449.5h6M255 450.5h4M255 451.5h4M255 452.5h4M256 453.5h2" stroke="#f03010"/></g>
<g fill="none" stroke-width="1" shape-rendering="crispEdges"><path d="M396 349.5h1M434 374.5h1M452 375.5h1M508 376.5h1M429 377.5h1M450 377.5h1M427 378.5h1M438 378.5h1M452 378.5h1M383 379.5h1M415 379.5h1M424 379.5h1M430 379.5h2M428 380.5h2M433 380.5h1M436 380.5h2M439 380.5h1M457 380.5h1M462 380.5h1M476 380.5h1M420 381.5h1M423 381.5h1M427 381.5h2M430 381.5h1M432 381.5h1M437 381.5h1M448 381.5h1M451 381.5h1M429 382.5h1M431 382.5h1M433 382.5h1M436 382.5h1M442 382.5h1M413 383.5h1M416 383.5h1M419 383.5h2M428 383.5h6M436 383.5h1M439 383.5h1M445 383.5h1M455 383.5h1M463 383.5h1M417 384.5h2M421 384.5h2M424 384.5h3M428 384.5h1M432 384.5h2M435 384.5h1M438 384.5h3M442 384.5h1M445 384.5h1M449 384.5h1M455 384.5h1M418 385.5h1M420 385.5h1M422 385.5h4M427 385.5h4M433 385.5h1M435 385.5h1M437 385.5h3M443 385.5h1M446 385.5h1M452 385.5h1M454 385.5h4M459 385.5h1M416 386.5h1M419 386.5h4M424 386.5h5M430 386.5h3M434 386.5h2M437 386.5h1M439 386.5h1M446 386.5h1M450 386.5h1M456 386.5h1M459 386.5h1M462 386.5h1M466 386.5h1M413 387.5h1M416 387.5h3M420 387.5h1M422 387.5h2M425 387.5h4M430 387.5h2M434 387.5h3M439 387.5h1M443 387.5h1M446 387.5h1M449 387.5h1M451 387.5h1M453 387.5h1M457 387.5h1M464 387.5h1M407 388.5h1M409 388.5h1M415 388.5h5M421 388.5h3M425 388.5h6M432 388.5h12M445 388.5h1M447 388.5h1M449 388.5h1M456 388.5h3M460 388.5h1M463 388.5h1M465 388.5h1M468 388.5h2M472 388.5h3M478 388.5h1M413 389.5h1M415 389.5h1M417 389.5h1M419 389.5h3M423 389.5h10M434 389.5h2M437 389.5h3M441 389.5h5M447 389.5h4M452 389.5h1M454 389.5h4M459 389.5h1M461 389.5h2M465 389.5h1M467 389.5h1M470 389.5h3M412 390.5h3M417 390.5h4M423 390.5h9M434 390.5h5M440 390.5h6M447 390.5h1M449 390.5h1M452 390.5h7M460 390.5h3M465 390.5h5M476 390.5h1M478 390.5h1M415 391.5h1M417 391.5h20M438 391.5h12M451 391.5h7M459 391.5h4M464 391.5h1M466 391.5h1M471 391.5h2M477 391.5h1M410 392.5h1M416 392.5h34M451 392.5h1M453 392.5h14M468 392.5h2M471 392.5h2M474 392.5h1M410 393.5h2M415 393.5h28M444 393.5h3M448 393.5h12M461 393.5h4M467 393.5h1M469 393.5h1M471 393.5h2M475 393.5h4M480 393.5h1M482 393.5h2M405 394.5h1M411 394.5h2M414 394.5h1M416 394.5h2M419 394.5h44M464 394.5h7M473 394.5h1M477 394.5h1M479 394.5h3M486 394.5h1M493 394.5h1M410 395.5h1M413 395.5h25M439 395.5h4M444 395.5h8M453 395.5h8M462 395.5h10M473 395.5h1M475 395.5h3M480 395.5h1M485 395.5h1M492 395.5h1M405 396.5h1M410 396.5h1M412 396.5h1M414 396.5h2M417 396.5h25M443 396.5h34M480 396.5h2M485 396.5h1M406 397.5h1M414 397.5h1M416 397.5h38M455 397.5h14M470 397.5h1M473 397.5h6M483 397.5h1M485 397.5h2M408 398.5h1M410 398.5h1M413 398.5h2M416 398.5h56M473 398.5h6M480 398.5h3M413 399.5h6M420 399.5h3M424 399.5h36M461 399.5h8M470 399.5h2M473 399.5h6M482 399.5h4M490 399.5h1M416 400.5h21M438 400.5h39M479 400.5h2M483 400.5h2M490 400.5h1M493 400.5h1M499 400.5h1M409 401.5h1M412 401.5h2M416 401.5h2M419 401.5h22M442 401.5h33M477 401.5h4M482 401.5h4M493 401.5h1M498 401.5h1M413 402.5h1M416 402.5h2M419 402.5h1M421 402.5h17M439 402.5h37M477 402.5h2M480 402.5h2M484 402.5h2M495 402.5h1M416 403.5h1M418 403.5h10M429 403.5h1M431 403.5h5M437 403.5h2M440 403.5h40M481 403.5h1M484 403.5h1M486 403.5h3M498 403.5h1M412 404.5h1M414 404.5h1M420 404.5h10M431 404.5h3M436 404.5h7M444 404.5h25M470 404.5h6M477 404.5h7M489 404.5h1M492 404.5h1M498 404.5h1M410 405.5h1M413 405.5h2M416 405.5h1M419 405.5h2M423 405.5h3M427 405.5h3M431 405.5h1M433 405.5h9M443 405.5h10M454 405.5h16M471 405.5h4M476 405.5h1M478 405.5h1M480 405.5h1M482 405.5h2M486 405.5h1M493 405.5h1M412 406.5h1M416 406.5h1M419 406.5h1M421 406.5h1M423 406.5h3M427 406.5h1M429 406.5h5M435 406.5h6M442 406.5h13M456 406.5h2M459 406.5h8M468 406.5h7M476 406.5h3M487 406.5h1M489 406.5h1M493 406.5h2M415 407.5h1M417 407.5h3M422 407.5h2M425 407.5h2M428 407.5h6M435 407.5h4M440 407.5h2M443 407.5h2M446 407.5h29M476 407.5h5M483 407.5h1M487 407.5h1M490 407.5h1M492 407.5h1M409 408.5h1M415 408.5h1M420 408.5h1M424 408.5h6M431 408.5h14M446 408.5h3M450 408.5h20M471 408.5h5M477 408.5h1M482 408.5h2M492 408.5h1M495 408.5h1M418 409.5h1M421 409.5h1M423 409.5h5M429 409.5h3M433 409.5h1M435 409.5h1M438 409.5h2M442 409.5h12M455 409.5h12M468 409.5h6M475 409.5h1M477 409.5h3M481 409.5h1M483 409.5h1M487 409.5h1M490 409.5h2M417 410.5h1M420 410.5h1M424 410.5h1M428 410.5h1M430 410.5h2M435 410.5h2M439 410.5h1M441 410.5h3M445 410.5h20M467 410.5h1M469 410.5h6M476 410.5h1M478 410.5h2M481 410.5h2M484 410.5h1M491 410.5h1M416 411.5h1M421 411.5h1M423 411.5h1M425 411.5h5M431 411.5h1M433 411.5h1M436 411.5h1M438 411.5h1M440 411.5h3M444 411.5h1M447 411.5h3M451 411.5h2M454 411.5h7M462 411.5h2M465 411.5h2M468 411.5h1M470 411.5h2M473 411.5h1M477 411.5h1M483 411.5h1M486 411.5h1M489 411.5h2M492 411.5h1M419 412.5h1M425 412.5h1M428 412.5h1M430 412.5h4M435 412.5h2M439 412.5h1M443 412.5h3M448 412.5h13M464 412.5h6M471 412.5h6M479 412.5h1M484 412.5h1M423 413.5h2M428 413.5h1M432 413.5h1M435 413.5h3M439 413.5h2M442 413.5h3M446 413.5h1M452 413.5h2M456 413.5h1M458 413.5h6M465 413.5h2M468 413.5h4M473 413.5h1M475 413.5h4M481 413.5h1M484 413.5h1M489 413.5h1M411 414.5h1M425 414.5h1M433 414.5h1M439 414.5h1M441 414.5h1M443 414.5h2M446 414.5h1M449 414.5h4M454 414.5h1M457 414.5h7M467 414.5h4M472 414.5h2M476 414.5h1M478 414.5h1M480 414.5h1M482 414.5h1M484 414.5h1M486 414.5h1M489 414.5h1M421 415.5h1M426 415.5h1M428 415.5h1M437 415.5h1M444 415.5h1M446 415.5h2M449 415.5h2M453 415.5h2M457 415.5h4M462 415.5h5M468 415.5h1M470 415.5h1M473 415.5h2M477 415.5h1M480 415.5h1M484 415.5h2M490 415.5h1M428 416.5h4M436 416.5h1M439 416.5h1M442 416.5h1M444 416.5h1M450 416.5h1M453 416.5h1M455 416.5h1M457 416.5h1M462 416.5h5M469 416.5h1M473 416.5h1M475 416.5h1M477 416.5h1M480 416.5h2M487 416.5h1M428 417.5h1M433 417.5h1M438 417.5h1M443 417.5h1M446 417.5h1M450 417.5h3M454 417.5h2M461 417.5h1M463 417.5h1M468 417.5h2M472 417.5h1M485 417.5h1M490 417.5h1M420 418.5h1M422 418.5h1M429 418.5h1M433 418.5h1M437 418.5h1M441 418.5h1M444 418.5h1M447 418.5h3M451 418.5h1M456 418.5h1M461 418.5h2M465 418.5h1M467 418.5h4M473 418.5h1M477 418.5h1M479 418.5h1M482 418.5h3M430 419.5h1M447 419.5h1M450 419.5h1M454 419.5h3M458 419.5h1M461 419.5h5M467 419.5h2M471 419.5h2M474 419.5h1M476 419.5h2M479 419.5h1M486 419.5h1M440 420.5h1M445 420.5h1M448 420.5h1M451 420.5h2M459 420.5h1M461 420.5h1M469 420.5h1M476 420.5h2M483 420.5h1M413 421.5h1M442 421.5h1M444 421.5h1M446 421.5h1M454 421.5h1M457 421.5h1M467 421.5h2M473 421.5h1M477 421.5h1M432 422.5h1M439 422.5h1M447 422.5h1M450 422.5h1M462 422.5h1M465 422.5h1M471 422.5h1M432 423.5h1M436 423.5h1M444 423.5h2M448 423.5h1M451 423.5h2M455 423.5h1M459 423.5h1M469 423.5h2M472 423.5h1M478 423.5h1M471 424.5h1M479 424.5h1M481 424.5h1M422 425.5h1M454 425.5h1M456 425.5h2M494 425.5h1M412 426.5h1M415 426.5h1M421 426.5h1M425 426.5h1M427 426.5h1M432 426.5h1M435 426.5h1M443 426.5h1M459 426.5h1M474 426.5h1M408 427.5h1M415 427.5h1M420 427.5h1M426 427.5h2M439 427.5h1M448 427.5h1M475 427.5h1M409 428.5h1M412 428.5h1M422 428.5h1M432 428.5h1M413 429.5h1M419 429.5h3M423 429.5h1M425 429.5h1M427 429.5h2M403 430.5h1M410 430.5h1M417 430.5h2M422 430.5h1M424 430.5h1M426 430.5h2M478 430.5h1M394 431.5h1M408 431.5h1M410 431.5h1M417 431.5h3M421 431.5h6M428 431.5h2M434 431.5h1M451 431.5h1M406 432.5h1M409 432.5h2M419 432.5h1M421 432.5h4M427 432.5h1M429 432.5h5M406 433.5h1M408 433.5h1M411 433.5h1M413 433.5h20M449 433.5h1M412 434.5h5M427 434.5h4M435 434.5h1M402 435.5h1M411 435.5h3M429 435.5h6M402 436.5h1M431 436.5h1M406 437.5h1M431 437.5h3M435 437.5h2M405 438.5h1M407 438.5h1M409 438.5h1M433 438.5h1M442 438.5h1M394 439.5h1M396 439.5h1M408 439.5h1M433 439.5h1M436 439.5h1M393 440.5h1M405 440.5h1M407 440.5h1M434 440.5h2M437 440.5h1M399 441.5h1M401 441.5h1M404 441.5h2M407 441.5h1M436 441.5h1M401 442.5h1M434 442.5h1M436 442.5h1M438 442.5h1M400 443.5h1M404 443.5h3M434 443.5h1M436 443.5h2M400 444.5h1M437 444.5h1M394 445.5h1M400 445.5h1M435 445.5h1M444 445.5h1M449 445.5h1M397 446.5h1M403 446.5h3M435 446.5h1M399 447.5h7M435 447.5h2M396 448.5h2M403 448.5h3M399 449.5h5M405 449.5h1M437 449.5h1M390 450.5h1M396 450.5h1M398 450.5h2M401 450.5h5M436 450.5h3M397 451.5h9M441 451.5h1M394 452.5h3M398 452.5h1M400 452.5h2M403 452.5h3M397 453.5h1M399 453.5h6M437 453.5h1M390 454.5h1M392 454.5h1M395 454.5h1M397 454.5h2M400 454.5h6M435 454.5h1M388 455.5h1M394 455.5h1M396 455.5h10M391 456.5h3M395 456.5h11M435 456.5h1M438 456.5h1M389 457.5h1M396 457.5h3M400 457.5h7M434 457.5h1M437 457.5h1M439 457.5h1M382 458.5h1M385 458.5h1M387 458.5h2M393 458.5h1M395 458.5h12M434 458.5h1M441 458.5h1M384 459.5h1M390 459.5h1M392 459.5h1M395 459.5h12M434 459.5h1M393 460.5h4M398 460.5h9M435 460.5h2M438 460.5h1M384 461.5h1M389 461.5h1M391 461.5h1M393 461.5h2M396 461.5h12M434 461.5h2M389 462.5h1M392 462.5h11M404 462.5h4M433 462.5h1M440 462.5h1M390 463.5h1M392 463.5h16M433 463.5h2M436 463.5h1M388 464.5h1M390 464.5h18M433 464.5h4M390 465.5h1M393 465.5h16M433 465.5h1M436 465.5h1M383 466.5h1M389 466.5h1M392 466.5h2M395 466.5h14M432 466.5h2M435 466.5h1M381 467.5h1M391 467.5h9M401 467.5h9M432 467.5h2M435 467.5h2M391 468.5h1M395 468.5h11M407 468.5h3M432 468.5h3M436 468.5h1M441 468.5h1M385 469.5h2M390 469.5h2M394 469.5h1M396 469.5h15M431 469.5h3M435 469.5h1M437 469.5h1M389 470.5h1M395 470.5h8M404 470.5h7M431 470.5h5M440 470.5h1M458 470.5h1M389 471.5h2M392 471.5h3M396 471.5h12M409 471.5h3M431 471.5h3M392 472.5h13M406 472.5h6M430 472.5h4M435 472.5h2M491 472.5h1" stroke="#2a46fa"/><path d="M417 434.5h4M422 434.5h5M414 435.5h13M428 435.5h1M413 436.5h4M427 436.5h3M411 437.5h1M413 437.5h2M430 437.5h1M410 438.5h3M429 438.5h3M409 439.5h1M430 439.5h2M409 440.5h2M431 440.5h2M408 441.5h2M432 441.5h2M407 442.5h2M432 442.5h2M408 443.5h1M433 443.5h1M406 444.5h3M433 444.5h1M406 445.5h2M433 445.5h1M406 446.5h2M434 446.5h1M406 447.5h2M433 447.5h2M406 448.5h2M433 448.5h2M406 449.5h2M433 449.5h2M406 450.5h2M433 450.5h1M406 451.5h2M433 451.5h1M406 452.5h2M433 452.5h2M406 453.5h2M433 453.5h1M406 454.5h3M433 454.5h1M406 455.5h3M434 455.5h1M406 456.5h3M433 456.5h1M407 457.5h2M433 457.5h1M407 458.5h2M432 458.5h2M407 459.5h2M432 459.5h1M407 460.5h3M432 460.5h2M408 461.5h2M432 461.5h2M408 462.5h2M432 462.5h1M408 463.5h3M431 463.5h2M408 464.5h3M431 464.5h2M409 465.5h1M411 465.5h1M431 465.5h2M409 466.5h3M430 466.5h1M410 467.5h3M430 467.5h2M410 468.5h3M430 468.5h2M412 469.5h2M429 469.5h2M411 470.5h4M428 470.5h3M412 471.5h4M428 471.5h3M412 472.5h5M427 472.5h3" stroke="#2e6cff"/><path d="M417 436.5h10M415 437.5h5M425 437.5h3M413 438.5h4M427 438.5h2M412 439.5h3M428 439.5h2M411 440.5h3M429 440.5h2M410 441.5h3M430 441.5h2M410 442.5h2M431 442.5h1M409 443.5h2M431 443.5h2M409 444.5h2M431 444.5h2M408 445.5h2M408 446.5h2M432 446.5h1M408 447.5h2M432 447.5h1M408 448.5h2M408 449.5h2M432 449.5h1M408 450.5h2M432 450.5h1M408 451.5h2M432 451.5h1M408 452.5h2M408 453.5h2M432 453.5h1M409 454.5h1M432 454.5h1M409 455.5h2M431 455.5h2M409 456.5h2M431 456.5h1M409 457.5h2M431 457.5h1M409 458.5h2M431 458.5h1M409 459.5h1M411 459.5h1M431 459.5h1M410 460.5h2M431 460.5h1M410 461.5h2M430 461.5h2M410 462.5h3M430 462.5h2M411 463.5h2M430 463.5h1M411 464.5h3M429 464.5h2M412 465.5h2M429 465.5h2M412 466.5h3M428 466.5h2M414 467.5h2M428 467.5h2M413 468.5h2M416 468.5h1M427 468.5h2M414 469.5h4M426 469.5h3M415 470.5h4M425 470.5h3M416 471.5h4M422 471.5h1M424 471.5h4M417 472.5h5M423 472.5h4" stroke="#34a4fb"/><path d="M420 437.5h5M417 438.5h10M415 439.5h3M426 439.5h2M414 440.5h2M427 440.5h2M413 441.5h2M429 441.5h1M412 442.5h2M429 442.5h1M411 443.5h2M430 443.5h1M411 444.5h2M430 444.5h1M410 445.5h2M430 445.5h2M410 446.5h2M430 446.5h2M410 447.5h2M431 447.5h1M410 448.5h2M431 448.5h1M410 449.5h1M431 449.5h1M410 450.5h2M431 450.5h1M410 451.5h2M431 451.5h1M410 452.5h2M430 452.5h2M410 453.5h2M430 453.5h2M410 454.5h2M430 454.5h2M411 455.5h2M430 455.5h1M411 456.5h2M430 456.5h1M411 457.5h2M430 457.5h1M411 458.5h2M429 458.5h2M412 459.5h2M429 459.5h2M412 460.5h1M430 460.5h1M412 461.5h3M429 461.5h1M413 462.5h2M428 462.5h2M413 463.5h3M428 463.5h1M414 464.5h2M427 464.5h2M414 465.5h3M427 465.5h2M415 466.5h3M426 466.5h2M416 467.5h4M425 467.5h3M417 468.5h9M418 469.5h7M420 470.5h5" stroke="#3cdce8"/><path d="M418 439.5h7M417 440.5h4M424 440.5h3M415 441.5h3M426 441.5h2M415 442.5h1M428 442.5h1M413 443.5h2M428 443.5h2M413 444.5h2M429 444.5h1M413 445.5h1M429 445.5h1M412 446.5h2M413 447.5h1M430 447.5h1M412 448.5h2M429 448.5h2M412 449.5h2M429 449.5h2M412 450.5h2M429 450.5h1M412 451.5h2M429 451.5h2M412 452.5h2M429 452.5h1M412 453.5h2M429 453.5h1M412 454.5h2M429 454.5h1M413 455.5h1M429 455.5h1M413 456.5h2M428 456.5h2M413 457.5h2M428 457.5h1M413 458.5h2M428 458.5h1M414 459.5h2M428 459.5h1M414 460.5h1M427 460.5h2M415 461.5h2M427 461.5h2M415 462.5h3M426 462.5h2M416 463.5h3M425 463.5h3M416 464.5h4M424 464.5h3M417 465.5h10M418 466.5h8M420 467.5h5" stroke="#60f69a"/><path d="M421 440.5h3M418 441.5h3M422 441.5h4M417 442.5h2M425 442.5h2M415 443.5h3M426 443.5h2M415 444.5h2M427 444.5h2M414 445.5h2M428 445.5h1M414 446.5h2M428 446.5h1M414 447.5h1M428 447.5h1M414 448.5h1M414 449.5h1M428 449.5h1M414 450.5h1M428 450.5h1M414 451.5h1M428 451.5h1M414 452.5h2M428 452.5h1M414 453.5h2M428 453.5h1M414 454.5h2M427 454.5h2M414 455.5h2M427 455.5h2M415 456.5h2M427 456.5h1M415 457.5h2M427 457.5h1M415 458.5h3M426 458.5h2M416 459.5h3M426 459.5h2M416 460.5h4M425 460.5h2M417 461.5h4M424 461.5h1M426 461.5h1M418 462.5h2M421 462.5h5M419 463.5h6M421 464.5h3" stroke="#a8ff48"/><path d="M419 442.5h6M418 443.5h1M420 443.5h6M417 444.5h3M425 444.5h2M416 445.5h3M426 445.5h2M416 446.5h2M426 446.5h2M415 447.5h3M426 447.5h2M416 448.5h1M427 448.5h1M415 449.5h2M426 449.5h2M415 450.5h3M426 450.5h2M415 451.5h3M426 451.5h2M416 452.5h2M426 452.5h2M416 453.5h2M426 453.5h2M416 454.5h3M426 454.5h1M416 455.5h3M425 455.5h2M417 456.5h3M425 456.5h2M417 457.5h4M424 457.5h3M418 458.5h8M419 459.5h7M420 460.5h5M421 461.5h3" stroke="#f4f424"/><path d="M420 444.5h5M419 445.5h7M418 446.5h2M425 446.5h1M418 447.5h2M425 447.5h1M417 448.5h3M425 448.5h2M417 449.5h3M425 449.5h1M418 450.5h2M425 450.5h1M418 451.5h2M424 451.5h2M418 452.5h3M424 452.5h2M418 453.5h4M423 453.5h3M419 454.5h7M419 455.5h6M420 456.5h5M421 457.5h3" stroke="#ffa018"/><path d="M420 446.5h4M420 447.5h5M420 448.5h5M420 449.5h3M424 449.5h1M420 450.5h1M422 450.5h3M420 451.5h4M421 452.5h3M422 453.5h1" stroke="#f03010"/></g>
</g>
<path d="M44 23H175V153" fill="none" stroke="#111" stroke-width="1.6"/>
<path d="M44 22.5V153H175.5" fill="none" stroke="#000" stroke-width="2"/>
<path d="M40.5 34.5h3 M40.5 63.5h3 M40.5 93.5h3 M40.5 125.0h3 M40.5 140.0h3 M41.5 43.5h2.5 M41.5 72.5h2.5 M41.5 102.5h2.5 M41.5 132h2.5 M55.0 153v3 M72.5 153v3 M104.0 153v3 M134.0 153v3 M164.0 153v3 M48 153v2.5 M65.5 153v2.5 M94.5 153v2.5 M125 153v2.5 M155 153v2.5" stroke="#000" stroke-width="1.2"/>
<g font-size="7" fill="#222" stroke="#222" stroke-width="0.15"><text x="40" y="38.7" text-anchor="end">10<tspan dy="-3" font-size="5">5</tspan></text><text x="40" y="67.7" text-anchor="end">10<tspan dy="-3" font-size="5">4</tspan></text><text x="40" y="97.7" text-anchor="end">10<tspan dy="-3" font-size="5">3</tspan></text><text x="40" y="129.2" text-anchor="end">10<tspan dy="-3" font-size="5">2</tspan></text><text x="39.5" y="143.0" text-anchor="end">0</text><text x="55.0" y="167.5" text-anchor="middle">0</text><text x="69.3" y="167.5">10<tspan dy="-2.6" font-size="4.6">2</tspan></text><text x="100.8" y="167.5">10<tspan dy="-2.6" font-size="4.6">3</tspan></text><text x="130.8" y="167.5">10<tspan dy="-2.6" font-size="4.6">4</tspan></text><text x="160.8" y="167.5">10<tspan dy="-2.6" font-size="4.6">5</tspan></text></g>
<path d="M212 23H343V153" fill="none" stroke="#111" stroke-width="1.6"/>
<path d="M212 22.5V153H343.5" fill="none" stroke="#000" stroke-width="2"/>
<path d="M208.5 34.5h3 M208.5 63.5h3 M208.5 93.5h3 M208.5 125.0h3 M208.5 140.0h3 M209.5 43.5h2.5 M209.5 72.5h2.5 M209.5 102.5h2.5 M209.5 132h2.5 M223.0 153v3 M240.5 153v3 M272.0 153v3 M302.0 153v3 M332.0 153v3 M216 153v2.5 M233.5 153v2.5 M262.5 153v2.5 M293 153v2.5 M323 153v2.5" stroke="#000" stroke-width="1.2"/>
<g font-size="7" fill="#222" stroke="#222" stroke-width="0.15"><text x="208" y="38.7" text-anchor="end">10<tspan dy="-3" font-size="5">5</tspan></text><text x="208" y="67.7" text-anchor="end">10<tspan dy="-3" font-size="5">4</tspan></text><text x="208" y="97.7" text-anchor="end">10<tspan dy="-3" font-size="5">3</tspan></text><text x="208" y="129.2" text-anchor="end">10<tspan dy="-3" font-size="5">2</tspan></text><text x="207.5" y="143.0" text-anchor="end">0</text><text x="223.0" y="167.5" text-anchor="middle">0</text><text x="237.3" y="167.5">10<tspan dy="-2.6" font-size="4.6">2</tspan></text><text x="268.8" y="167.5">10<tspan dy="-2.6" font-size="4.6">3</tspan></text><text x="298.8" y="167.5">10<tspan dy="-2.6" font-size="4.6">4</tspan></text><text x="328.8" y="167.5">10<tspan dy="-2.6" font-size="4.6">5</tspan></text></g>
<path d="M378 24.1H509V154.1" fill="none" stroke="#111" stroke-width="1.6"/>
<path d="M378 23.6V154.1H509.5" fill="none" stroke="#000" stroke-width="2"/>
<path d="M374.5 35.6h3 M374.5 64.6h3 M374.5 94.6h3 M374.5 126.1h3 M374.5 141.1h3 M375.5 44.6h2.5 M375.5 73.6h2.5 M375.5 103.6h2.5 M375.5 133.1h2.5 M389.0 154.1v3 M406.5 154.1v3 M438.0 154.1v3 M468.0 154.1v3 M498.0 154.1v3 M382 154.1v2.5 M399.5 154.1v2.5 M428.5 154.1v2.5 M459 154.1v2.5 M489 154.1v2.5" stroke="#000" stroke-width="1.2"/>
<g font-size="7" fill="#222" stroke="#222" stroke-width="0.15"><text x="374" y="39.8" text-anchor="end">10<tspan dy="-3" font-size="5">5</tspan></text><text x="374" y="68.8" text-anchor="end">10<tspan dy="-3" font-size="5">4</tspan></text><text x="374" y="98.8" text-anchor="end">10<tspan dy="-3" font-size="5">3</tspan></text><text x="374" y="130.3" text-anchor="end">10<tspan dy="-3" font-size="5">2</tspan></text><text x="373.5" y="144.1" text-anchor="end">0</text><text x="389.0" y="168.6" text-anchor="middle">0</text><text x="403.3" y="168.6">10<tspan dy="-2.6" font-size="4.6">2</tspan></text><text x="434.8" y="168.6">10<tspan dy="-2.6" font-size="4.6">3</tspan></text><text x="464.8" y="168.6">10<tspan dy="-2.6" font-size="4.6">4</tspan></text><text x="494.8" y="168.6">10<tspan dy="-2.6" font-size="4.6">5</tspan></text></g>
<path d="M44 181H175V311" fill="none" stroke="#111" stroke-width="1.6"/>
<path d="M44 180.5V311H175.5" fill="none" stroke="#000" stroke-width="2"/>
<path d="M40.5 192.5h3 M40.5 221.5h3 M40.5 251.5h3 M40.5 283.0h3 M40.5 298.0h3 M41.5 201.5h2.5 M41.5 230.5h2.5 M41.5 260.5h2.5 M41.5 290h2.5 M55.0 311v3 M72.5 311v3 M104.0 311v3 M134.0 311v3 M164.0 311v3 M48 311v2.5 M65.5 311v2.5 M94.5 311v2.5 M125 311v2.5 M155 311v2.5" stroke="#000" stroke-width="1.2"/>
<g font-size="7" fill="#222" stroke="#222" stroke-width="0.15"><text x="40" y="196.7" text-anchor="end">10<tspan dy="-3" font-size="5">5</tspan></text><text x="40" y="225.7" text-anchor="end">10<tspan dy="-3" font-size="5">4</tspan></text><text x="40" y="255.7" text-anchor="end">10<tspan dy="-3" font-size="5">3</tspan></text><text x="40" y="287.2" text-anchor="end">10<tspan dy="-3" font-size="5">2</tspan></text><text x="39.5" y="301.0" text-anchor="end">0</text><text x="55.0" y="325.5" text-anchor="middle">0</text><text x="69.3" y="325.5">10<tspan dy="-2.6" font-size="4.6">2</tspan></text><text x="100.8" y="325.5">10<tspan dy="-2.6" font-size="4.6">3</tspan></text><text x="130.8" y="325.5">10<tspan dy="-2.6" font-size="4.6">4</tspan></text><text x="160.8" y="325.5">10<tspan dy="-2.6" font-size="4.6">5</tspan></text></g>
<path d="M212 181H343V311" fill="none" stroke="#111" stroke-width="1.6"/>
<path d="M212 180.5V311H343.5" fill="none" stroke="#000" stroke-width="2"/>
<path d="M208.5 192.5h3 M208.5 221.5h3 M208.5 251.5h3 M208.5 283.0h3 M208.5 298.0h3 M209.5 201.5h2.5 M209.5 230.5h2.5 M209.5 260.5h2.5 M209.5 290h2.5 M223.0 311v3 M240.5 311v3 M272.0 311v3 M302.0 311v3 M332.0 311v3 M216 311v2.5 M233.5 311v2.5 M262.5 311v2.5 M293 311v2.5 M323 311v2.5" stroke="#000" stroke-width="1.2"/>
<g font-size="7" fill="#222" stroke="#222" stroke-width="0.15"><text x="208" y="196.7" text-anchor="end">10<tspan dy="-3" font-size="5">5</tspan></text><text x="208" y="225.7" text-anchor="end">10<tspan dy="-3" font-size="5">4</tspan></text><text x="208" y="255.7" text-anchor="end">10<tspan dy="-3" font-size="5">3</tspan></text><text x="208" y="287.2" text-anchor="end">10<tspan dy="-3" font-size="5">2</tspan></text><text x="207.5" y="301.0" text-anchor="end">0</text><text x="223.0" y="325.5" text-anchor="middle">0</text><text x="237.3" y="325.5">10<tspan dy="-2.6" font-size="4.6">2</tspan></text><text x="268.8" y="325.5">10<tspan dy="-2.6" font-size="4.6">3</tspan></text><text x="298.8" y="325.5">10<tspan dy="-2.6" font-size="4.6">4</tspan></text><text x="328.8" y="325.5">10<tspan dy="-2.6" font-size="4.6">5</tspan></text></g>
<path d="M378 181H509V311" fill="none" stroke="#111" stroke-width="1.6"/>
<path d="M378 180.5V311H509.5" fill="none" stroke="#000" stroke-width="2"/>
<path d="M374.5 192.5h3 M374.5 221.5h3 M374.5 251.5h3 M374.5 283.0h3 M374.5 298.0h3 M375.5 201.5h2.5 M375.5 230.5h2.5 M375.5 260.5h2.5 M375.5 290h2.5 M389.0 311v3 M406.5 311v3 M438.0 311v3 M468.0 311v3 M498.0 311v3 M382 311v2.5 M399.5 311v2.5 M428.5 311v2.5 M459 311v2.5 M489 311v2.5" stroke="#000" stroke-width="1.2"/>
<g font-size="7" fill="#222" stroke="#222" stroke-width="0.15"><text x="374" y="196.7" text-anchor="end">10<tspan dy="-3" font-size="5">5</tspan></text><text x="374" y="225.7" text-anchor="end">10<tspan dy="-3" font-size="5">4</tspan></text><text x="374" y="255.7" text-anchor="end">10<tspan dy="-3" font-size="5">3</tspan></text><text x="374" y="287.2" text-anchor="end">10<tspan dy="-3" font-size="5">2</tspan></text><text x="373.5" y="301.0" text-anchor="end">0</text><text x="389.0" y="325.5" text-anchor="middle">0</text><text x="403.3" y="325.5">10<tspan dy="-2.6" font-size="4.6">2</tspan></text><text x="434.8" y="325.5">10<tspan dy="-2.6" font-size="4.6">3</tspan></text><text x="464.8" y="325.5">10<tspan dy="-2.6" font-size="4.6">4</tspan></text><text x="494.8" y="325.5">10<tspan dy="-2.6" font-size="4.6">5</tspan></text></g>
<path d="M44 343H175V473" fill="none" stroke="#111" stroke-width="1.6"/>
<path d="M44 342.5V473H175.5" fill="none" stroke="#000" stroke-width="2"/>
<path d="M40.5 354.5h3 M40.5 383.5h3 M40.5 413.5h3 M40.5 445.0h3 M40.5 460.0h3 M41.5 363.5h2.5 M41.5 392.5h2.5 M41.5 422.5h2.5 M41.5 452h2.5 M55.0 473v3 M72.5 473v3 M104.0 473v3 M134.0 473v3 M164.0 473v3 M48 473v2.5 M65.5 473v2.5 M94.5 473v2.5 M125 473v2.5 M155 473v2.5" stroke="#000" stroke-width="1.2"/>
<g font-size="7" fill="#222" stroke="#222" stroke-width="0.15"><text x="40" y="358.7" text-anchor="end">10<tspan dy="-3" font-size="5">5</tspan></text><text x="40" y="387.7" text-anchor="end">10<tspan dy="-3" font-size="5">4</tspan></text><text x="40" y="417.7" text-anchor="end">10<tspan dy="-3" font-size="5">3</tspan></text><text x="40" y="449.2" text-anchor="end">10<tspan dy="-3" font-size="5">2</tspan></text><text x="39.5" y="463.0" text-anchor="end">0</text><text x="55.0" y="487.5" text-anchor="middle">0</text><text x="69.3" y="487.5">10<tspan dy="-2.6" font-size="4.6">2</tspan></text><text x="100.8" y="487.5">10<tspan dy="-2.6" font-size="4.6">3</tspan></text><text x="130.8" y="487.5">10<tspan dy="-2.6" font-size="4.6">4</tspan></text><text x="160.8" y="487.5">10<tspan dy="-2.6" font-size="4.6">5</tspan></text></g>
<path d="M212 343H343V473" fill="none" stroke="#111" stroke-width="1.6"/>
<path d="M212 342.5V473H343.5" fill="none" stroke="#000" stroke-width="2"/>
<path d="M208.5 354.5h3 M208.5 383.5h3 M208.5 413.5h3 M208.5 445.0h3 M208.5 460.0h3 M209.5 363.5h2.5 M209.5 392.5h2.5 M209.5 422.5h2.5 M209.5 452h2.5 M223.0 473v3 M240.5 473v3 M272.0 473v3 M302.0 473v3 M332.0 473v3 M216 473v2.5 M233.5 473v2.5 M262.5 473v2.5 M293 473v2.5 M323 473v2.5" stroke="#000" stroke-width="1.2"/>
<g font-size="7" fill="#222" stroke="#222" stroke-width="0.15"><text x="208" y="358.7" text-anchor="end">10<tspan dy="-3" font-size="5">5</tspan></text><text x="208" y="387.7" text-anchor="end">10<tspan dy="-3" font-size="5">4</tspan></text><text x="208" y="417.7" text-anchor="end">10<tspan dy="-3" font-size="5">3</tspan></text><text x="208" y="449.2" text-anchor="end">10<tspan dy="-3" font-size="5">2</tspan></text><text x="207.5" y="463.0" text-anchor="end">0</text><text x="223.0" y="487.5" text-anchor="middle">0</text><text x="237.3" y="487.5">10<tspan dy="-2.6" font-size="4.6">2</tspan></text><text x="268.8" y="487.5">10<tspan dy="-2.6" font-size="4.6">3</tspan></text><text x="298.8" y="487.5">10<tspan dy="-2.6" font-size="4.6">4</tspan></text><text x="328.8" y="487.5">10<tspan dy="-2.6" font-size="4.6">5</tspan></text></g>
<path d="M378 343H509V473" fill="none" stroke="#111" stroke-width="1.6"/>
<path d="M378 342.5V473H509.5" fill="none" stroke="#000" stroke-width="2"/>
<path d="M374.5 354.5h3 M374.5 383.5h3 M374.5 413.5h3 M374.5 445.0h3 M374.5 460.0h3 M375.5 363.5h2.5 M375.5 392.5h2.5 M375.5 422.5h2.5 M375.5 452h2.5 M389.0 473v3 M406.5 473v3 M438.0 473v3 M468.0 473v3 M498.0 473v3 M382 473v2.5 M399.5 473v2.5 M428.5 473v2.5 M459 473v2.5 M489 473v2.5" stroke="#000" stroke-width="1.2"/>
<g font-size="7" fill="#222" stroke="#222" stroke-width="0.15"><text x="374" y="358.7" text-anchor="end">10<tspan dy="-3" font-size="5">5</tspan></text><text x="374" y="387.7" text-anchor="end">10<tspan dy="-3" font-size="5">4</tspan></text><text x="374" y="417.7" text-anchor="end">10<tspan dy="-3" font-size="5">3</tspan></text><text x="374" y="449.2" text-anchor="end">10<tspan dy="-3" font-size="5">2</tspan></text><text x="373.5" y="463.0" text-anchor="end">0</text><text x="389.0" y="487.5" text-anchor="middle">0</text><text x="403.3" y="487.5">10<tspan dy="-2.6" font-size="4.6">2</tspan></text><text x="434.8" y="487.5">10<tspan dy="-2.6" font-size="4.6">3</tspan></text><text x="464.8" y="487.5">10<tspan dy="-2.6" font-size="4.6">4</tspan></text><text x="494.8" y="487.5">10<tspan dy="-2.6" font-size="4.6">5</tspan></text></g>
<g fill="none" stroke="#c450d4" stroke-width="1.5"><rect x="65.5" y="51" width="35" height="59"/><rect x="237" y="51.7" width="33.4" height="53"/><rect x="403.6" y="51" width="28.7" height="57"/><rect x="56.7" y="200.8" width="41.3" height="47"/><rect x="234.8" y="200" width="37.6" height="63"/><rect x="399" y="209.4" width="32.6" height="54.8"/><rect x="64.3" y="366.6" width="34.7" height="58.4"/><rect x="240" y="374.2" width="27.3" height="35.3"/><rect x="271.6" y="386.1" width="60.2" height="61.5"/><path d="M270.4 153V75H291M314 75H335.9V153"/><path d="M432.3 153V39.5H494.3V153"/><path d="M272.4 311V231H342V311"/><path d="M431.6 311V202.6H506.4V311"/><path d="M434.9 473V372.2H505.2V473"/></g>
<g font-size="12" fill="#111" stroke="#111" stroke-width="0.25" text-anchor="middle"><text x="80.4" y="48.5">4.99</text><text x="252.6" y="48.5">0.14</text><text x="305.2" y="71.3">4.74</text><text x="416.1" y="48.3">0.84</text><text x="466.3" y="58.5">4.32</text><text x="78.8" y="199">5.22</text><text x="250.6" y="214.6">0.28</text><text x="309.7" y="229.3">3.84</text><text x="414.8" y="206.2">2.41</text><text x="491.4" y="219.6">3.39</text><text x="81.6" y="366.6">13.6</text><text x="253.9" y="372.3">0.47</text><text x="306.9" y="384.6">12.7</text><text x="491.7" y="390.7">10.7</text></g>
<g font-size="14" fill="#111" stroke="#111" stroke-width="0.25"><text x="266" y="38.7" textLength="73" lengthAdjust="spacingAndGlyphs">MFI 14080</text><text x="435.4" y="37.7" textLength="64.8" lengthAdjust="spacingAndGlyphs">MFI 8232</text><text x="269" y="195.7" textLength="73" lengthAdjust="spacingAndGlyphs">MFI 12897</text><text x="434" y="195.7" textLength="64.8" lengthAdjust="spacingAndGlyphs">MFI 2368</text><text x="275.5" y="357.5" textLength="64.8" lengthAdjust="spacingAndGlyphs">MFI 8608</text><text x="436" y="357.5" textLength="64.8" lengthAdjust="spacingAndGlyphs">MFI 3633</text></g>
<text x="114.4" y="77" font-size="10" fill="#111" stroke="#111" stroke-width="0.2">B42_TL9M7+</text>
<path d="M130.5 81.1L106 87.6" stroke="#000" stroke-width="1.3"/><path d="M101 89L107.2 84.6L108.6 90Z" fill="#000"/>
<g font-weight="bold" fill="#000"><text x="3.6" y="13.9" font-size="17">A</text><text x="79.6" y="16.6" font-size="18" textLength="64.8" lengthAdjust="spacingAndGlyphs">No stim</text><text x="236.8" y="16.6" font-size="18" textLength="94.6" lengthAdjust="spacingAndGlyphs">TL9T7 auto</text><text x="421.8" y="16.6" font-size="18" textLength="53.6" lengthAdjust="spacingAndGlyphs">TL9S7</text></g>
<path d="M19.4 92V494.8H314" fill="none" stroke="#000" stroke-width="1.8"/>
<path d="M19.4 85.6L16 93H23Z" fill="#000"/><path d="M321 494.8L313 491.3V498.3Z" fill="#000"/>
<text transform="translate(13.4 242) rotate(-90)" font-size="13.2" font-weight="bold" fill="#2626aa" text-anchor="middle">B42/TL9T7 Tetramer</text>
<text x="152.1" y="513.3" font-size="14.5" font-weight="bold" fill="#000">IFNγ</text>
<text x="21" y="549" font-size="17" font-weight="bold">B</text>
<path d="M39.3 564.6V696" stroke="#000" stroke-width="1.6"/><path d="M36.099999999999994 696.0h3.2 M36.099999999999994 669.8h3.2 M36.099999999999994 643.7h3.2 M36.099999999999994 617.5h3.2 M36.099999999999994 591.4h3.2 M36.099999999999994 565.2h3.2" stroke="#000" stroke-width="1.3"/><g font-size="10.2" font-weight="bold" fill="#111"><text x="35.8" y="700.6" text-anchor="end">0</text><text x="35.8" y="674.4" text-anchor="end">5</text><text x="35.8" y="648.3" text-anchor="end">10</text><text x="35.8" y="622.1" text-anchor="end">15</text><text x="35.8" y="596.0" text-anchor="end">20</text><text x="35.8" y="569.8" text-anchor="end">25</text></g>
<path d="M39.3 696H175.5M74.2 696v3M142.2 696v3" stroke="#000" stroke-width="1.6"/>
<g font-size="10" fill="#111"><text x="88.5" y="560.2"><tspan font-style="italic">P</tspan> &lt; .05</text><text x="271.6" y="560.2"><tspan font-style="italic">P</tspan> &lt; .05</text></g>
<text transform="translate(16.3 631.5) rotate(-90)" font-size="11.5" font-weight="bold" text-anchor="middle">MFI • 10<tspan dy="-5" font-size="8.5">3</tspan></text>
<circle cx="74.3" cy="570.4" r="3.4" fill="#000"/><circle cx="74.3" cy="590.6" r="3.4" fill="#000"/><circle cx="74.3" cy="618.2" r="3.4" fill="#000"/><circle cx="82.3" cy="623.4" r="3.4" fill="#000"/><circle cx="66.3" cy="628.2" r="3.4" fill="#000"/><circle cx="74.3" cy="629.2" r="3.4" fill="#000"/><circle cx="74.3" cy="643.8" r="3.4" fill="#000"/><circle cx="74.3" cy="651.8" r="3.4" fill="#000"/><circle cx="74.3" cy="665.4" r="3.4" fill="#000"/><circle cx="74.3" cy="679.2" r="3.4" fill="#000"/><circle cx="82.3" cy="684.6" r="3.4" fill="#e8301c"/><circle cx="74.3" cy="688.9" r="3.4" fill="#e8301c"/>
<path d="M134.8 615.4L138.2 621.5H131.4Z" fill="#000"/><path d="M142.6 621.2L146.0 627.3H139.2Z" fill="#000"/><path d="M142.6 641.5L146.0 647.6H139.2Z" fill="#000"/><path d="M134.8 650.1L138.2 656.2H131.4Z" fill="#000"/><path d="M142.6 652.0L146.0 658.1H139.2Z" fill="#000"/><path d="M134.8 664.0L138.2 670.1H131.4Z" fill="#000"/><path d="M158.5 663.1L161.9 669.2H155.1Z" fill="#000"/><path d="M126.9 669.6L130.3 675.7H123.5Z" fill="#000"/><path d="M142.6 668.1L146.0 674.2H139.2Z" fill="#000"/><path d="M150.5 667.6L153.9 673.7H147.1Z" fill="#000"/><path d="M158.5 669.6L161.9 675.7H155.1Z" fill="#000"/><path d="M134.8 674.3L138.2 680.4H131.4Z" fill="#000"/><path d="M150.5 674.3L153.9 680.4H147.1Z" fill="#000"/><path d="M126.9 679.6L130.3 685.7H123.5Z" fill="#000"/><path d="M130.8 677.4L134.2 683.5H127.4Z" fill="#000"/><path d="M138.5 678.1L141.9 684.2H135.1Z" fill="#000"/><path d="M146 678.9L149.4 685.0H142.6Z" fill="#000"/><path d="M154.6 678.9L158.0 685.0H151.2Z" fill="#000"/><path d="M158.5 680.9L161.9 687.0H155.1Z" fill="#000"/><path d="M134.8 683.1L138.2 689.2H131.4Z" fill="#000"/><path d="M142.6 685.6L146.0 691.7H139.2Z" fill="#000"/><path d="M150.5 684.6L153.9 690.7H147.1Z" fill="#000"/>
<path d="M50.8 636.3H95.8M119.2 677.7H163.8" stroke="#000" stroke-width="1.5"/>
<g font-size="10.3" font-weight="bold" fill="#111" text-anchor="middle"><text x="74.6" y="711.4">auto</text><text x="143.5" y="711.4">variant</text><text x="250.6" y="710.8">auto</text><text x="250.6" y="723.7">clade</text><text x="317.6" y="710.8">other</text><text x="317.6" y="723.7">clade</text><text x="419.3" y="710.8">TL9</text><text x="486.8" y="710.8">TL9S7</text></g>
<path d="M48 733.6H337.5M392.3 733.6H510.2" stroke="#000" stroke-width="1.5"/>
<g font-size="10.5" fill="#111"><text x="162.6" y="755.8">B42<tspan dy="-3.5" font-size="7">+</tspan><tspan dy="3.5"> subjects</tspan></text><text x="417" y="755.4">B81<tspan dy="-3.5" font-size="7">+</tspan><tspan dy="3.5"> subjects</tspan></text></g>
<text x="195" y="548.3" font-size="17" font-weight="bold">C</text>
<path d="M213.6 563.8V694.8" stroke="#000" stroke-width="1.6"/><path d="M210.4 694.8h3.2 M210.4 668.7h3.2 M210.4 642.6h3.2 M210.4 616.6h3.2 M210.4 590.5h3.2 M210.4 564.4h3.2" stroke="#000" stroke-width="1.3"/><g font-size="10.2" font-weight="bold" fill="#111"><text x="210.1" y="699.4" text-anchor="end">0</text><text x="210.1" y="673.3" text-anchor="end">5</text><text x="210.1" y="647.2" text-anchor="end">10</text><text x="210.1" y="621.2" text-anchor="end">15</text><text x="210.1" y="595.1" text-anchor="end">20</text><text x="210.1" y="569.0" text-anchor="end">25</text></g>
<path d="M213.6 694.8H349.4M249.2 694.8v3M316.8 694.8v3" stroke="#000" stroke-width="1.6"/>
<path d="M249.2 569.6L316.8 618.6" stroke="#000" stroke-width="1.4"/><path d="M249.2 590.5L316.8 687.5" stroke="#000" stroke-width="1.4"/><path d="M249.2 618.1L316.8 682.8" stroke="#000" stroke-width="1.4"/><path d="M249.2 626.5L316.8 672.4" stroke="#000" stroke-width="1.4"/><path d="M249.2 629.1L316.8 682.8" stroke="#000" stroke-width="1.4"/><path d="M249.2 642.6L316.8 672.4" stroke="#000" stroke-width="1.4"/><path d="M249.2 650.5L316.8 687.5" stroke="#000" stroke-width="1.4"/><path d="M249.2 664.5L316.8 672.4" stroke="#000" stroke-width="1.4"/><path d="M249.2 682.8L316.8 666.1" stroke="#e8301c" stroke-width="1.4"/><path d="M249.2 687.5L316.8 678.6" stroke="#e8301c" stroke-width="1.4"/>
<circle cx="249.2" cy="569.616" r="3.4" fill="#000"/><circle cx="249.2" cy="590.48" r="3.4" fill="#000"/><circle cx="249.2" cy="618.1247999999999" r="3.4" fill="#000"/><circle cx="249.2" cy="626.4703999999999" r="3.4" fill="#000"/><circle cx="249.2" cy="629.0784" r="3.4" fill="#000"/><circle cx="249.2" cy="642.64" r="3.4" fill="#000"/><circle cx="249.2" cy="650.4639999999999" r="3.4" fill="#000"/><circle cx="249.2" cy="664.5472" r="3.4" fill="#000"/><circle cx="249.2" cy="682.8032" r="3.4" fill="#e8301c"/><circle cx="249.2" cy="687.4975999999999" r="3.4" fill="#e8301c"/>
<path d="M316.8 615.2L320.2 621.4H313.4Z" fill="#000"/><path d="M316.8 684.1L320.2 690.2H313.4Z" fill="#000"/><path d="M316.8 679.4L320.2 685.5H313.4Z" fill="#000"/><path d="M316.8 669.0L320.2 675.1H313.4Z" fill="#000"/><path d="M316.8 662.7L320.2 668.8H313.4Z" fill="#e8301c"/><path d="M316.8 675.2L320.2 681.4H313.4Z" fill="#e8301c"/>
<text x="370.6" y="551.5" font-size="17" font-weight="bold">D</text>
<path d="M385.6 563.01V695" stroke="#000" stroke-width="1.6"/><path d="M382.40000000000003 695.0h3.2 M382.40000000000003 676.2h3.2 M382.40000000000003 657.5h3.2 M382.40000000000003 638.7h3.2 M382.40000000000003 619.9h3.2 M382.40000000000003 601.1h3.2 M382.40000000000003 582.4h3.2 M382.40000000000003 563.6h3.2" stroke="#000" stroke-width="1.3"/><g font-size="10.2" font-weight="bold" fill="#111"><text x="382.1" y="699.6" text-anchor="end">0</text><text x="382.1" y="680.8" text-anchor="end">1</text><text x="382.1" y="662.1" text-anchor="end">2</text><text x="382.1" y="643.3" text-anchor="end">3</text><text x="382.1" y="624.5" text-anchor="end">4</text><text x="382.1" y="605.8" text-anchor="end">5</text><text x="382.1" y="587.0" text-anchor="end">6</text><text x="382.1" y="568.2" text-anchor="end">7</text></g>
<path d="M385.6 695H520M420.3 695v3M488 695v3" stroke="#000" stroke-width="1.6"/>
<path d="M420.3 580.5L488 618.0" stroke="#e8301c" stroke-width="1.4"/><path d="M420.3 612.4L488 650.9" stroke="#000" stroke-width="1.4"/><path d="M420.3 637.8L488 648.1" stroke="#e8301c" stroke-width="1.4"/><path d="M420.3 637.8L488 661.2" stroke="#e8301c" stroke-width="1.4"/>
<rect x="417.7" y="577.903" width="5.2" height="5.2" fill="#e8301c"/><rect x="417.7" y="609.812" width="5.2" height="5.2" fill="#000"/><rect x="417.7" y="635.1514999999999" width="5.2" height="5.2" fill="#e8301c"/>
<path d="M488 614.6L491.4 620.8H484.6Z" fill="#e8301c"/><path d="M488 647.5L491.4 653.6H484.6Z" fill="#000"/><path d="M488 644.7L491.4 650.8H484.6Z" fill="#e8301c"/><path d="M488 657.8L491.4 663.9H484.6Z" fill="#e8301c"/>
</svg></body></html>
